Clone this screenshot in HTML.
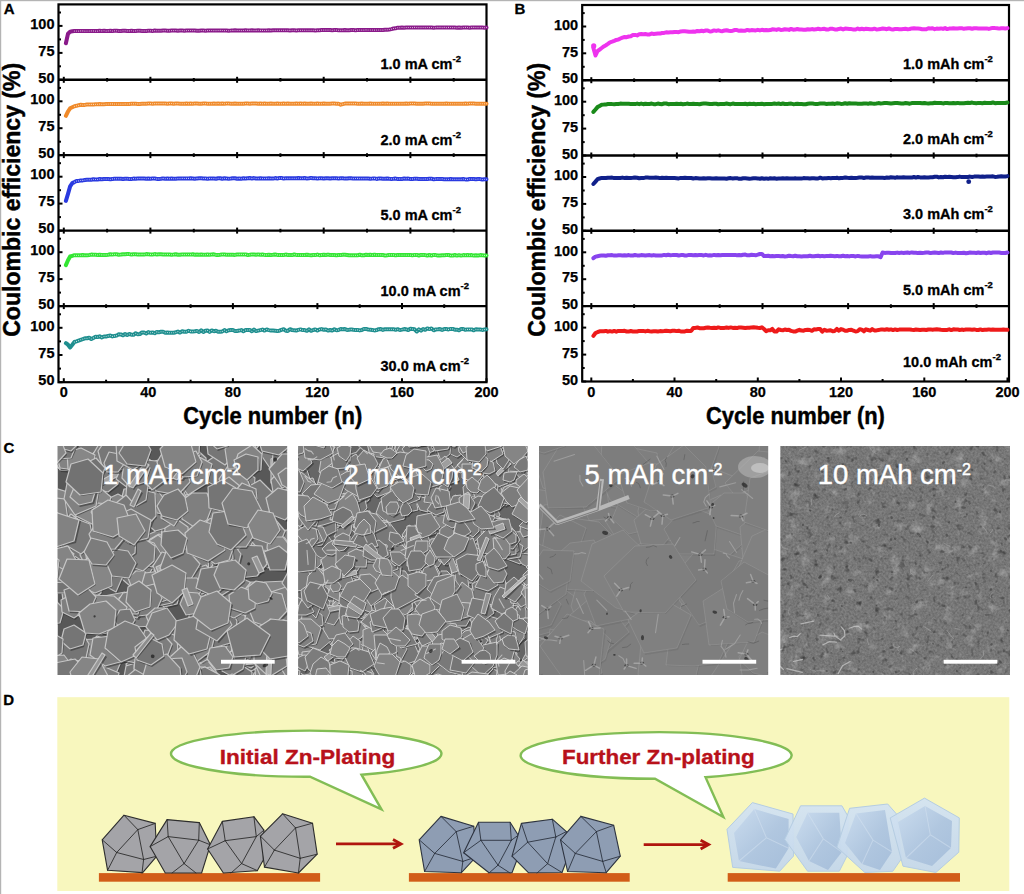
<!DOCTYPE html>
<html><head><meta charset="utf-8"><style>
html,body{margin:0;padding:0;background:#fff;}
body{width:1024px;height:894px;overflow:hidden;position:relative;}
svg{position:absolute;left:0;top:0;}
</style></head><body>
<svg width="1024" height="894" viewBox="0 0 1024 894">
<rect x="0" y="0" width="1024" height="1.2" fill="#b4b4b4"/>
<rect x="0" y="0" width="1.2" height="894" fill="#b4b4b4"/>
<text x="3.8" y="13.6" font-family="&apos;Liberation Sans&apos;, sans-serif" font-weight="bold" font-size="15" stroke="#000" stroke-width="0.3" fill="#000">A</text>
<text x="514.6" y="13.5" font-family="&apos;Liberation Sans&apos;, sans-serif" font-weight="bold" font-size="15" stroke="#000" stroke-width="0.3" fill="#000">B</text>
<text x="3.6" y="452.9" font-family="&apos;Liberation Sans&apos;, sans-serif" font-weight="bold" font-size="15" stroke="#000" stroke-width="0.3" fill="#000">C</text>
<text x="3.2" y="705.2" font-family="&apos;Liberation Sans&apos;, sans-serif" font-weight="bold" font-size="15" stroke="#000" stroke-width="0.3" fill="#000">D</text>
<rect x="58.5" y="4.4" width="428" height="377.8" fill="none" stroke="#000" stroke-width="2.2"/>
<line x1="58.5" y1="79.8" x2="486.5" y2="79.8" stroke="#000" stroke-width="2.4"/>
<line x1="58.5" y1="155.1" x2="486.5" y2="155.1" stroke="#000" stroke-width="2.4"/>
<line x1="58.5" y1="230.6" x2="486.5" y2="230.6" stroke="#000" stroke-width="2.4"/>
<line x1="58.5" y1="306.1" x2="486.5" y2="306.1" stroke="#000" stroke-width="2.4"/>
<line x1="58.5" y1="79.8" x2="62.5" y2="79.8" stroke="#000" stroke-width="2"/>
<text x="54.5" y="82.5" text-anchor="end" font-family="&apos;Liberation Sans&apos;, sans-serif" font-weight="bold" font-size="14.5" stroke="#000" stroke-width="0.25">50</text>
<line x1="58.5" y1="52.9" x2="62.5" y2="52.9" stroke="#000" stroke-width="2"/>
<text x="54.5" y="55.6" text-anchor="end" font-family="&apos;Liberation Sans&apos;, sans-serif" font-weight="bold" font-size="14.5" stroke="#000" stroke-width="0.25">75</text>
<line x1="58.5" y1="25.9" x2="62.5" y2="25.9" stroke="#000" stroke-width="2"/>
<text x="54.5" y="28.6" text-anchor="end" font-family="&apos;Liberation Sans&apos;, sans-serif" font-weight="bold" font-size="14.5" stroke="#000" stroke-width="0.25">100</text>
<line x1="58.5" y1="66.3" x2="61" y2="66.3" stroke="#000" stroke-width="2"/>
<line x1="58.5" y1="39.4" x2="61" y2="39.4" stroke="#000" stroke-width="2"/>
<line x1="58.5" y1="12.5" x2="61" y2="12.5" stroke="#000" stroke-width="2"/>
<line x1="58.5" y1="155.1" x2="62.5" y2="155.1" stroke="#000" stroke-width="2"/>
<text x="54.5" y="157.8" text-anchor="end" font-family="&apos;Liberation Sans&apos;, sans-serif" font-weight="bold" font-size="14.5" stroke="#000" stroke-width="0.25">50</text>
<line x1="58.5" y1="128.2" x2="62.5" y2="128.2" stroke="#000" stroke-width="2"/>
<text x="54.5" y="130.9" text-anchor="end" font-family="&apos;Liberation Sans&apos;, sans-serif" font-weight="bold" font-size="14.5" stroke="#000" stroke-width="0.25">75</text>
<line x1="58.5" y1="101.3" x2="62.5" y2="101.3" stroke="#000" stroke-width="2"/>
<text x="54.5" y="104" text-anchor="end" font-family="&apos;Liberation Sans&apos;, sans-serif" font-weight="bold" font-size="14.5" stroke="#000" stroke-width="0.25">100</text>
<line x1="58.5" y1="141.7" x2="61" y2="141.7" stroke="#000" stroke-width="2"/>
<line x1="58.5" y1="114.8" x2="61" y2="114.8" stroke="#000" stroke-width="2"/>
<line x1="58.5" y1="87.9" x2="61" y2="87.9" stroke="#000" stroke-width="2"/>
<line x1="58.5" y1="230.6" x2="62.5" y2="230.6" stroke="#000" stroke-width="2"/>
<text x="54.5" y="233.3" text-anchor="end" font-family="&apos;Liberation Sans&apos;, sans-serif" font-weight="bold" font-size="14.5" stroke="#000" stroke-width="0.25">50</text>
<line x1="58.5" y1="203.6" x2="62.5" y2="203.6" stroke="#000" stroke-width="2"/>
<text x="54.5" y="206.3" text-anchor="end" font-family="&apos;Liberation Sans&apos;, sans-serif" font-weight="bold" font-size="14.5" stroke="#000" stroke-width="0.25">75</text>
<line x1="58.5" y1="176.7" x2="62.5" y2="176.7" stroke="#000" stroke-width="2"/>
<text x="54.5" y="179.4" text-anchor="end" font-family="&apos;Liberation Sans&apos;, sans-serif" font-weight="bold" font-size="14.5" stroke="#000" stroke-width="0.25">100</text>
<line x1="58.5" y1="217.1" x2="61" y2="217.1" stroke="#000" stroke-width="2"/>
<line x1="58.5" y1="190.2" x2="61" y2="190.2" stroke="#000" stroke-width="2"/>
<line x1="58.5" y1="163.2" x2="61" y2="163.2" stroke="#000" stroke-width="2"/>
<line x1="58.5" y1="306.1" x2="62.5" y2="306.1" stroke="#000" stroke-width="2"/>
<text x="54.5" y="308.8" text-anchor="end" font-family="&apos;Liberation Sans&apos;, sans-serif" font-weight="bold" font-size="14.5" stroke="#000" stroke-width="0.25">50</text>
<line x1="58.5" y1="279.1" x2="62.5" y2="279.1" stroke="#000" stroke-width="2"/>
<text x="54.5" y="281.8" text-anchor="end" font-family="&apos;Liberation Sans&apos;, sans-serif" font-weight="bold" font-size="14.5" stroke="#000" stroke-width="0.25">75</text>
<line x1="58.5" y1="252.2" x2="62.5" y2="252.2" stroke="#000" stroke-width="2"/>
<text x="54.5" y="254.9" text-anchor="end" font-family="&apos;Liberation Sans&apos;, sans-serif" font-weight="bold" font-size="14.5" stroke="#000" stroke-width="0.25">100</text>
<line x1="58.5" y1="292.6" x2="61" y2="292.6" stroke="#000" stroke-width="2"/>
<line x1="58.5" y1="265.7" x2="61" y2="265.7" stroke="#000" stroke-width="2"/>
<line x1="58.5" y1="238.7" x2="61" y2="238.7" stroke="#000" stroke-width="2"/>
<line x1="58.5" y1="382.2" x2="62.5" y2="382.2" stroke="#000" stroke-width="2"/>
<text x="54.5" y="384.9" text-anchor="end" font-family="&apos;Liberation Sans&apos;, sans-serif" font-weight="bold" font-size="14.5" stroke="#000" stroke-width="0.25">50</text>
<line x1="58.5" y1="355" x2="62.5" y2="355" stroke="#000" stroke-width="2"/>
<text x="54.5" y="357.7" text-anchor="end" font-family="&apos;Liberation Sans&apos;, sans-serif" font-weight="bold" font-size="14.5" stroke="#000" stroke-width="0.25">75</text>
<line x1="58.5" y1="327.8" x2="62.5" y2="327.8" stroke="#000" stroke-width="2"/>
<text x="54.5" y="330.5" text-anchor="end" font-family="&apos;Liberation Sans&apos;, sans-serif" font-weight="bold" font-size="14.5" stroke="#000" stroke-width="0.25">100</text>
<line x1="58.5" y1="368.6" x2="61" y2="368.6" stroke="#000" stroke-width="2"/>
<line x1="58.5" y1="341.4" x2="61" y2="341.4" stroke="#000" stroke-width="2"/>
<line x1="58.5" y1="314.3" x2="61" y2="314.3" stroke="#000" stroke-width="2"/>
<line x1="63.8" y1="382.2" x2="63.8" y2="378.2" stroke="#000" stroke-width="2"/>
<text x="63.8" y="397.2" text-anchor="middle" font-family="&apos;Liberation Sans&apos;, sans-serif" font-weight="bold" font-size="14.5" stroke="#000" stroke-width="0.25">0</text>
<line x1="106.1" y1="382.2" x2="106.1" y2="379.7" stroke="#000" stroke-width="2"/>
<line x1="148.3" y1="382.2" x2="148.3" y2="378.2" stroke="#000" stroke-width="2"/>
<text x="148.3" y="397.2" text-anchor="middle" font-family="&apos;Liberation Sans&apos;, sans-serif" font-weight="bold" font-size="14.5" stroke="#000" stroke-width="0.25">40</text>
<line x1="190.6" y1="382.2" x2="190.6" y2="379.7" stroke="#000" stroke-width="2"/>
<line x1="232.9" y1="382.2" x2="232.9" y2="378.2" stroke="#000" stroke-width="2"/>
<text x="232.9" y="397.2" text-anchor="middle" font-family="&apos;Liberation Sans&apos;, sans-serif" font-weight="bold" font-size="14.5" stroke="#000" stroke-width="0.25">80</text>
<line x1="275.2" y1="382.2" x2="275.2" y2="379.7" stroke="#000" stroke-width="2"/>
<line x1="317.4" y1="382.2" x2="317.4" y2="378.2" stroke="#000" stroke-width="2"/>
<text x="317.4" y="397.2" text-anchor="middle" font-family="&apos;Liberation Sans&apos;, sans-serif" font-weight="bold" font-size="14.5" stroke="#000" stroke-width="0.25">120</text>
<line x1="359.7" y1="382.2" x2="359.7" y2="379.7" stroke="#000" stroke-width="2"/>
<line x1="402" y1="382.2" x2="402" y2="378.2" stroke="#000" stroke-width="2"/>
<text x="402" y="397.2" text-anchor="middle" font-family="&apos;Liberation Sans&apos;, sans-serif" font-weight="bold" font-size="14.5" stroke="#000" stroke-width="0.25">160</text>
<line x1="444.2" y1="382.2" x2="444.2" y2="379.7" stroke="#000" stroke-width="2"/>
<line x1="486.5" y1="382.2" x2="486.5" y2="378.2" stroke="#000" stroke-width="2"/>
<text x="486.5" y="397.2" text-anchor="middle" font-family="&apos;Liberation Sans&apos;, sans-serif" font-weight="bold" font-size="14.5" stroke="#000" stroke-width="0.25">200</text>
<line x1="63.8" y1="76.8" x2="63.8" y2="82.8" stroke="#000" stroke-width="2"/>
<line x1="107.1" y1="78" x2="107.1" y2="81.6" stroke="#000" stroke-width="2"/>
<line x1="150.4" y1="76.8" x2="150.4" y2="82.8" stroke="#000" stroke-width="2"/>
<line x1="193.8" y1="78" x2="193.8" y2="81.6" stroke="#000" stroke-width="2"/>
<line x1="237.1" y1="76.8" x2="237.1" y2="82.8" stroke="#000" stroke-width="2"/>
<line x1="280.4" y1="78" x2="280.4" y2="81.6" stroke="#000" stroke-width="2"/>
<line x1="323.7" y1="76.8" x2="323.7" y2="82.8" stroke="#000" stroke-width="2"/>
<line x1="367" y1="78" x2="367" y2="81.6" stroke="#000" stroke-width="2"/>
<line x1="410.4" y1="76.8" x2="410.4" y2="82.8" stroke="#000" stroke-width="2"/>
<line x1="453.7" y1="78" x2="453.7" y2="81.6" stroke="#000" stroke-width="2"/>
<line x1="63.8" y1="152.1" x2="63.8" y2="158.1" stroke="#000" stroke-width="2"/>
<line x1="107.1" y1="153.3" x2="107.1" y2="156.9" stroke="#000" stroke-width="2"/>
<line x1="150.4" y1="152.1" x2="150.4" y2="158.1" stroke="#000" stroke-width="2"/>
<line x1="193.8" y1="153.3" x2="193.8" y2="156.9" stroke="#000" stroke-width="2"/>
<line x1="237.1" y1="152.1" x2="237.1" y2="158.1" stroke="#000" stroke-width="2"/>
<line x1="280.4" y1="153.3" x2="280.4" y2="156.9" stroke="#000" stroke-width="2"/>
<line x1="323.7" y1="152.1" x2="323.7" y2="158.1" stroke="#000" stroke-width="2"/>
<line x1="367" y1="153.3" x2="367" y2="156.9" stroke="#000" stroke-width="2"/>
<line x1="410.4" y1="152.1" x2="410.4" y2="158.1" stroke="#000" stroke-width="2"/>
<line x1="453.7" y1="153.3" x2="453.7" y2="156.9" stroke="#000" stroke-width="2"/>
<line x1="63.8" y1="227.6" x2="63.8" y2="233.6" stroke="#000" stroke-width="2"/>
<line x1="107.1" y1="228.8" x2="107.1" y2="232.4" stroke="#000" stroke-width="2"/>
<line x1="150.4" y1="227.6" x2="150.4" y2="233.6" stroke="#000" stroke-width="2"/>
<line x1="193.8" y1="228.8" x2="193.8" y2="232.4" stroke="#000" stroke-width="2"/>
<line x1="237.1" y1="227.6" x2="237.1" y2="233.6" stroke="#000" stroke-width="2"/>
<line x1="280.4" y1="228.8" x2="280.4" y2="232.4" stroke="#000" stroke-width="2"/>
<line x1="323.7" y1="227.6" x2="323.7" y2="233.6" stroke="#000" stroke-width="2"/>
<line x1="367" y1="228.8" x2="367" y2="232.4" stroke="#000" stroke-width="2"/>
<line x1="410.4" y1="227.6" x2="410.4" y2="233.6" stroke="#000" stroke-width="2"/>
<line x1="453.7" y1="228.8" x2="453.7" y2="232.4" stroke="#000" stroke-width="2"/>
<line x1="63.8" y1="303.1" x2="63.8" y2="309.1" stroke="#000" stroke-width="2"/>
<line x1="106.1" y1="304.3" x2="106.1" y2="307.9" stroke="#000" stroke-width="2"/>
<line x1="148.3" y1="303.1" x2="148.3" y2="309.1" stroke="#000" stroke-width="2"/>
<line x1="190.6" y1="304.3" x2="190.6" y2="307.9" stroke="#000" stroke-width="2"/>
<line x1="232.9" y1="303.1" x2="232.9" y2="309.1" stroke="#000" stroke-width="2"/>
<line x1="275.2" y1="304.3" x2="275.2" y2="307.9" stroke="#000" stroke-width="2"/>
<line x1="317.4" y1="303.1" x2="317.4" y2="309.1" stroke="#000" stroke-width="2"/>
<line x1="359.7" y1="304.3" x2="359.7" y2="307.9" stroke="#000" stroke-width="2"/>
<line x1="402" y1="303.1" x2="402" y2="309.1" stroke="#000" stroke-width="2"/>
<line x1="444.2" y1="304.3" x2="444.2" y2="307.9" stroke="#000" stroke-width="2"/>
<polyline points="65.9,43.2 68,33.7 70.1,31.7 72.3,31.3 74.4,31 76.5,31 78.6,31.1 80.7,30.9 82.8,30.9 84.9,31.1 87,31 89.2,31 91.3,30.9 93.4,30.9 95.5,31.1 97.6,31.1 99.7,30.8 101.8,30.9 104,30.8 106.1,31.1 108.2,30.9 110.3,30.8 112.4,31 114.5,30.7 116.6,30.7 118.8,31 120.9,31 123,30.8 125.1,30.7 127.2,30.9 129.3,30.9 131.4,30.8 133.5,31 135.7,30.9 137.8,30.8 139.9,30.8 142,30.9 144.1,30.9 146.2,30.9 148.3,30.8 150.5,30.8 152.6,30.9 154.7,30.6 156.8,30.7 158.9,30.7 161,30.8 163.1,30.6 165.2,30.6 167.4,30.8 169.5,30.8 171.6,30.6 173.7,30.6 175.8,30.5 177.9,30.7 180,30.6 182.2,30.6 184.3,30.7 186.4,30.6 188.5,30.5 190.6,30.5 192.7,30.6 194.8,30.6 197,30.8 199.1,30.7 201.2,30.5 203.3,30.6 205.4,30.7 207.5,30.6 209.6,30.5 211.7,30.5 213.9,30.6 216,30.6 218.1,30.5 220.2,30.4 222.3,30.5 224.4,30.6 226.5,30.5 228.7,30.7 230.8,30.6 232.9,30.4 235,30.3 237.1,30.5 239.2,30.5 241.3,30.6 243.4,30.5 245.6,30.3 247.7,30.4 249.8,30.4 251.9,30.3 254,30.5 256.1,30.4 258.2,30.3 260.4,30.4 262.5,30.4 264.6,30.5 266.7,30.4 268.8,30.2 270.9,30.5 273,30.3 275.2,30.3 277.3,30.2 279.4,30.3 281.5,30.2 283.6,30.3 285.7,30.3 287.8,30.3 289.9,30.4 292.1,30.2 294.2,30.3 296.3,30.4 298.4,30.3 300.5,30.3 302.6,30.3 304.7,30.3 306.9,30.2 309,30.2 311.1,30.2 313.2,30.2 315.3,30.4 317.4,30.3 319.5,30.3 321.6,30.1 323.8,30.1 325.9,30.1 328,30.1 330.1,30 332.2,30.2 334.3,30 336.4,30.1 338.6,30.2 340.7,30.3 342.8,30.3 344.9,30 347,30.2 349.1,30.2 351.2,30 353.3,30.1 355.5,30.2 357.6,30.1 359.7,30 361.8,30.1 363.9,30.1 366,29.9 368.1,30 370.3,30 372.4,30 374.5,30.1 376.6,30 378.7,30 380.8,30 382.9,30.1 385.1,29.8 387.2,29.7 389.3,29.5 391.4,29.1 393.5,28.5 395.6,28.3 397.7,27.7 399.8,27.7 402,27.5 404.1,27.7 406.2,27.5 408.3,27.5 410.4,27.5 412.5,27.6 414.6,27.4 416.8,27.5 418.9,27.6 421,27.6 423.1,27.5 425.2,27.6 427.3,27.5 429.4,27.6 431.5,27.5 433.7,27.7 435.8,27.6 437.9,27.4 440,27.4 442.1,27.6 444.2,27.4 446.3,27.6 448.5,27.4 450.6,27.5 452.7,27.6 454.8,27.6 456.9,27.7 459,27.4 461.1,27.7 463.3,27.5 465.4,27.4 467.5,27.5 469.6,27.7 471.7,27.4 473.8,27.4 475.9,27.5 478,27.6 480.2,27.6 482.3,27.6 484.4,27.7 486.5,27.5" fill="none" stroke="#8a1a8a" stroke-width="4.0" stroke-linejoin="round" stroke-linecap="round"/>
<path d="M74.4,31h0.01M76.5,31h0.01M78.6,31.1h0.01M80.7,30.9h0.01M82.8,30.9h0.01M84.9,31.1h0.01M87,31h0.01M89.2,31h0.01M91.3,30.9h0.01M93.4,30.9h0.01M95.5,31.1h0.01M97.6,31.1h0.01M99.7,30.8h0.01M101.8,30.9h0.01M104,30.8h0.01M106.1,31.1h0.01M108.2,30.9h0.01M110.3,30.8h0.01M112.4,31h0.01M114.5,30.7h0.01M116.6,30.7h0.01M118.8,31h0.01M120.9,31h0.01M123,30.8h0.01M125.1,30.7h0.01M127.2,30.9h0.01M129.3,30.9h0.01M131.4,30.8h0.01M133.5,31h0.01M135.7,30.9h0.01M137.8,30.8h0.01M139.9,30.8h0.01M142,30.9h0.01M144.1,30.9h0.01M146.2,30.9h0.01M148.3,30.8h0.01M150.5,30.8h0.01M152.6,30.9h0.01M154.7,30.6h0.01M156.8,30.7h0.01M158.9,30.7h0.01M161,30.8h0.01M163.1,30.6h0.01M165.2,30.6h0.01M167.4,30.8h0.01M169.5,30.8h0.01M171.6,30.6h0.01M173.7,30.6h0.01M175.8,30.5h0.01M177.9,30.7h0.01M180,30.6h0.01M182.2,30.6h0.01M184.3,30.7h0.01M186.4,30.6h0.01M188.5,30.5h0.01M190.6,30.5h0.01M192.7,30.6h0.01M194.8,30.6h0.01M197,30.8h0.01M199.1,30.7h0.01M201.2,30.5h0.01M203.3,30.6h0.01M205.4,30.7h0.01M207.5,30.6h0.01M209.6,30.5h0.01M211.7,30.5h0.01M213.9,30.6h0.01M216,30.6h0.01M218.1,30.5h0.01M220.2,30.4h0.01M222.3,30.5h0.01M224.4,30.6h0.01M226.5,30.5h0.01M228.7,30.7h0.01M230.8,30.6h0.01M232.9,30.4h0.01M235,30.3h0.01M237.1,30.5h0.01M239.2,30.5h0.01M241.3,30.6h0.01M243.4,30.5h0.01M245.6,30.3h0.01M247.7,30.4h0.01M249.8,30.4h0.01M251.9,30.3h0.01M254,30.5h0.01M256.1,30.4h0.01M258.2,30.3h0.01M260.4,30.4h0.01M262.5,30.4h0.01M264.6,30.5h0.01M266.7,30.4h0.01M268.8,30.2h0.01M270.9,30.5h0.01M273,30.3h0.01M275.2,30.3h0.01M277.3,30.2h0.01M279.4,30.3h0.01M281.5,30.2h0.01M283.6,30.3h0.01M285.7,30.3h0.01M287.8,30.3h0.01M289.9,30.4h0.01M292.1,30.2h0.01M294.2,30.3h0.01M296.3,30.4h0.01M298.4,30.3h0.01M300.5,30.3h0.01M302.6,30.3h0.01M304.7,30.3h0.01M306.9,30.2h0.01M309,30.2h0.01M311.1,30.2h0.01M313.2,30.2h0.01M315.3,30.4h0.01M317.4,30.3h0.01M319.5,30.3h0.01M321.6,30.1h0.01M323.8,30.1h0.01M325.9,30.1h0.01M328,30.1h0.01M330.1,30h0.01M332.2,30.2h0.01M334.3,30h0.01M336.4,30.1h0.01M338.6,30.2h0.01M340.7,30.3h0.01M342.8,30.3h0.01M344.9,30h0.01M347,30.2h0.01M349.1,30.2h0.01M351.2,30h0.01M353.3,30.1h0.01M355.5,30.2h0.01M357.6,30.1h0.01M359.7,30h0.01M361.8,30.1h0.01M363.9,30.1h0.01M366,29.9h0.01M368.1,30h0.01M370.3,30h0.01M372.4,30h0.01M374.5,30.1h0.01M376.6,30h0.01M378.7,30h0.01M380.8,30h0.01M382.9,30.1h0.01M385.1,29.8h0.01M387.2,29.7h0.01M389.3,29.5h0.01M391.4,29.1h0.01M393.5,28.5h0.01M395.6,28.3h0.01M397.7,27.7h0.01M399.8,27.7h0.01M402,27.5h0.01M404.1,27.7h0.01M406.2,27.5h0.01M408.3,27.5h0.01M410.4,27.5h0.01M412.5,27.6h0.01M414.6,27.4h0.01M416.8,27.5h0.01M418.9,27.6h0.01M421,27.6h0.01M423.1,27.5h0.01M425.2,27.6h0.01M427.3,27.5h0.01M429.4,27.6h0.01M431.5,27.5h0.01M433.7,27.7h0.01M435.8,27.6h0.01M437.9,27.4h0.01M440,27.4h0.01M442.1,27.6h0.01M444.2,27.4h0.01M446.3,27.6h0.01M448.5,27.4h0.01M450.6,27.5h0.01M452.7,27.6h0.01M454.8,27.6h0.01M456.9,27.7h0.01M459,27.4h0.01M461.1,27.7h0.01M463.3,27.5h0.01M465.4,27.4h0.01M467.5,27.5h0.01M469.6,27.7h0.01M471.7,27.4h0.01M473.8,27.4h0.01M475.9,27.5h0.01M478,27.6h0.01M480.2,27.6h0.01M482.3,27.6h0.01M484.4,27.7h0.01M486.5,27.5h0.01" stroke="#fff" stroke-width="1.1" stroke-linecap="round" stroke-opacity="0.75" fill="none"/>
<polyline points="65.9,115.8 68,111.5 70.1,108.3 72.3,107.2 74.4,106.2 76.5,105.8 78.6,105.2 80.7,104.8 82.8,105 84.9,104.9 87,104.5 89.2,104.5 91.3,104.4 93.4,104.4 95.5,104.2 97.6,104.2 99.7,104.1 101.8,104.3 104,104.2 106.1,104.1 108.2,104 110.3,103.9 112.4,103.9 114.5,104 116.6,104 118.8,104.1 120.9,104.1 123,104.1 125.1,103.9 127.2,104 129.3,103.9 131.4,103.7 133.5,103.8 135.7,103.8 137.8,103.9 139.9,103.9 142,103.8 144.1,103.8 146.2,103.7 148.3,103.5 150.5,103.6 152.6,103.8 154.7,103.6 156.8,103.6 158.9,103.6 161,103.5 163.1,103.6 165.2,103.6 167.4,103.7 169.5,103.5 171.6,103.5 173.7,103.8 175.8,103.6 177.9,103.6 180,103.7 182.2,103.7 184.3,103.7 186.4,103.5 188.5,103.7 190.6,103.6 192.7,103.7 194.8,103.6 197,103.6 199.1,103.7 201.2,103.7 203.3,103.5 205.4,103.6 207.5,103.7 209.6,103.8 211.7,103.7 213.9,103.6 216,103.8 218.1,103.5 220.2,103.8 222.3,103.5 224.4,103.7 226.5,103.5 228.7,103.6 230.8,103.7 232.9,103.7 235,103.6 237.1,103.7 239.2,103.7 241.3,103.8 243.4,103.7 245.6,103.5 247.7,103.6 249.8,103.8 251.9,103.6 254,103.6 256.1,103.5 258.2,103.8 260.4,103.6 262.5,103.8 264.6,103.6 266.7,103.8 268.8,103.8 270.9,103.6 273,103.8 275.2,103.7 277.3,103.6 279.4,103.8 281.5,103.8 283.6,103.6 285.7,103.7 287.8,103.6 289.9,103.8 292.1,103.7 294.2,103.8 296.3,103.6 298.4,103.8 300.5,103.5 302.6,103.8 304.7,103.6 306.9,103.8 309,103.8 311.1,103.6 313.2,103.8 315.3,103.8 317.4,103.6 319.5,103.7 321.6,103.8 323.8,103.5 325.9,103.8 328,103.8 330.1,103.7 332.2,103.6 334.3,103.6 336.4,103.8 338.6,103.7 340.7,104.7 342.8,104.1 344.9,103.6 347,103.6 349.1,103.6 351.2,103.6 353.3,103.6 355.5,103.6 357.6,103.7 359.7,103.8 361.8,103.6 363.9,103.7 366,103.8 368.1,103.7 370.3,103.6 372.4,103.8 374.5,103.7 376.6,103.7 378.7,103.7 380.8,103.8 382.9,103.5 385.1,103.8 387.2,103.6 389.3,103.7 391.4,103.8 393.5,103.7 395.6,103.8 397.7,103.8 399.8,103.8 402,103.8 404.1,103.8 406.2,103.6 408.3,103.7 410.4,103.5 412.5,103.5 414.6,103.5 416.8,103.8 418.9,103.7 421,103.8 423.1,103.7 425.2,103.6 427.3,103.6 429.4,103.6 431.5,103.8 433.7,103.7 435.8,103.7 437.9,103.8 440,103.8 442.1,103.7 444.2,103.8 446.3,103.6 448.5,103.8 450.6,103.8 452.7,103.8 454.8,103.8 456.9,103.8 459,103.7 461.1,103.7 463.3,103.7 465.4,103.6 467.5,103.8 469.6,103.5 471.7,103.5 473.8,103.6 475.9,103.7 478,103.7 480.2,103.7 482.3,103.8 484.4,103.7 486.5,103.7" fill="none" stroke="#f08a2a" stroke-width="4.0" stroke-linejoin="round" stroke-linecap="round"/>
<path d="M74.4,106.2h0.01M76.5,105.8h0.01M78.6,105.2h0.01M80.7,104.8h0.01M82.8,105h0.01M84.9,104.9h0.01M87,104.5h0.01M89.2,104.5h0.01M91.3,104.4h0.01M93.4,104.4h0.01M95.5,104.2h0.01M97.6,104.2h0.01M99.7,104.1h0.01M101.8,104.3h0.01M104,104.2h0.01M106.1,104.1h0.01M108.2,104h0.01M110.3,103.9h0.01M112.4,103.9h0.01M114.5,104h0.01M116.6,104h0.01M118.8,104.1h0.01M120.9,104.1h0.01M123,104.1h0.01M125.1,103.9h0.01M127.2,104h0.01M129.3,103.9h0.01M131.4,103.7h0.01M133.5,103.8h0.01M135.7,103.8h0.01M137.8,103.9h0.01M139.9,103.9h0.01M142,103.8h0.01M144.1,103.8h0.01M146.2,103.7h0.01M148.3,103.5h0.01M150.5,103.6h0.01M152.6,103.8h0.01M154.7,103.6h0.01M156.8,103.6h0.01M158.9,103.6h0.01M161,103.5h0.01M163.1,103.6h0.01M165.2,103.6h0.01M167.4,103.7h0.01M169.5,103.5h0.01M171.6,103.5h0.01M173.7,103.8h0.01M175.8,103.6h0.01M177.9,103.6h0.01M180,103.7h0.01M182.2,103.7h0.01M184.3,103.7h0.01M186.4,103.5h0.01M188.5,103.7h0.01M190.6,103.6h0.01M192.7,103.7h0.01M194.8,103.6h0.01M197,103.6h0.01M199.1,103.7h0.01M201.2,103.7h0.01M203.3,103.5h0.01M205.4,103.6h0.01M207.5,103.7h0.01M209.6,103.8h0.01M211.7,103.7h0.01M213.9,103.6h0.01M216,103.8h0.01M218.1,103.5h0.01M220.2,103.8h0.01M222.3,103.5h0.01M224.4,103.7h0.01M226.5,103.5h0.01M228.7,103.6h0.01M230.8,103.7h0.01M232.9,103.7h0.01M235,103.6h0.01M237.1,103.7h0.01M239.2,103.7h0.01M241.3,103.8h0.01M243.4,103.7h0.01M245.6,103.5h0.01M247.7,103.6h0.01M249.8,103.8h0.01M251.9,103.6h0.01M254,103.6h0.01M256.1,103.5h0.01M258.2,103.8h0.01M260.4,103.6h0.01M262.5,103.8h0.01M264.6,103.6h0.01M266.7,103.8h0.01M268.8,103.8h0.01M270.9,103.6h0.01M273,103.8h0.01M275.2,103.7h0.01M277.3,103.6h0.01M279.4,103.8h0.01M281.5,103.8h0.01M283.6,103.6h0.01M285.7,103.7h0.01M287.8,103.6h0.01M289.9,103.8h0.01M292.1,103.7h0.01M294.2,103.8h0.01M296.3,103.6h0.01M298.4,103.8h0.01M300.5,103.5h0.01M302.6,103.8h0.01M304.7,103.6h0.01M306.9,103.8h0.01M309,103.8h0.01M311.1,103.6h0.01M313.2,103.8h0.01M315.3,103.8h0.01M317.4,103.6h0.01M319.5,103.7h0.01M321.6,103.8h0.01M323.8,103.5h0.01M325.9,103.8h0.01M328,103.8h0.01M330.1,103.7h0.01M332.2,103.6h0.01M334.3,103.6h0.01M336.4,103.8h0.01M338.6,103.7h0.01M340.7,104.7h0.01M342.8,104.1h0.01M344.9,103.6h0.01M347,103.6h0.01M349.1,103.6h0.01M351.2,103.6h0.01M353.3,103.6h0.01M355.5,103.6h0.01M357.6,103.7h0.01M359.7,103.8h0.01M361.8,103.6h0.01M363.9,103.7h0.01M366,103.8h0.01M368.1,103.7h0.01M370.3,103.6h0.01M372.4,103.8h0.01M374.5,103.7h0.01M376.6,103.7h0.01M378.7,103.7h0.01M380.8,103.8h0.01M382.9,103.5h0.01M385.1,103.8h0.01M387.2,103.6h0.01M389.3,103.7h0.01M391.4,103.8h0.01M393.5,103.7h0.01M395.6,103.8h0.01M397.7,103.8h0.01M399.8,103.8h0.01M402,103.8h0.01M404.1,103.8h0.01M406.2,103.6h0.01M408.3,103.7h0.01M410.4,103.5h0.01M412.5,103.5h0.01M414.6,103.5h0.01M416.8,103.8h0.01M418.9,103.7h0.01M421,103.8h0.01M423.1,103.7h0.01M425.2,103.6h0.01M427.3,103.6h0.01M429.4,103.6h0.01M431.5,103.8h0.01M433.7,103.7h0.01M435.8,103.7h0.01M437.9,103.8h0.01M440,103.8h0.01M442.1,103.7h0.01M444.2,103.8h0.01M446.3,103.6h0.01M448.5,103.8h0.01M450.6,103.8h0.01M452.7,103.8h0.01M454.8,103.8h0.01M456.9,103.8h0.01M459,103.7h0.01M461.1,103.7h0.01M463.3,103.7h0.01M465.4,103.6h0.01M467.5,103.8h0.01M469.6,103.5h0.01M471.7,103.5h0.01M473.8,103.6h0.01M475.9,103.7h0.01M478,103.7h0.01M480.2,103.7h0.01M482.3,103.8h0.01M484.4,103.7h0.01M486.5,103.7h0.01" stroke="#fff" stroke-width="1.1" stroke-linecap="round" stroke-opacity="0.75" fill="none"/>
<polyline points="65.9,200.9 68,193.9 70.1,186.4 72.3,183.1 74.4,182.1 76.5,181 78.6,180.9 80.7,180.5 82.8,180.4 84.9,180 87,179.7 89.2,179.8 91.3,179.8 93.4,179.3 95.5,179.5 97.6,179.5 99.7,179 101.8,179.3 104,179 106.1,179.1 108.2,179 110.3,179.2 112.4,178.9 114.5,178.7 116.6,178.8 118.8,178.7 120.9,178.7 123,179 125.1,178.7 127.2,178.7 129.3,178.9 131.4,179 133.5,178.6 135.7,178.8 137.8,178.6 139.9,178.5 142,178.6 144.1,178.5 146.2,178.8 148.3,178.6 150.5,178.7 152.6,178.5 154.7,178.5 156.8,178.9 158.9,178.9 161,178.8 163.1,178.4 165.2,178.7 167.4,178.6 169.5,178.8 171.6,178.6 173.7,178.7 175.8,178.7 177.9,178.6 180,178.6 182.2,178.4 184.3,178.5 186.4,178.4 188.5,178.4 190.6,178.3 192.7,178.5 194.8,178.8 197,178.4 199.1,178.3 201.2,178.3 203.3,178.5 205.4,178.4 207.5,178.7 209.6,178.4 211.7,178.5 213.9,178.6 216,178.7 218.1,178.3 220.2,178.2 222.3,178.7 224.4,178.3 226.5,178.5 228.7,178.7 230.8,178.6 232.9,178.3 235,178.2 237.1,178.7 239.2,178.4 241.3,178.7 243.4,178.3 245.6,178.5 247.7,178.2 249.8,178.1 251.9,178.4 254,178.1 256.1,178.5 258.2,178.6 260.4,178.3 262.5,178.6 264.6,178.5 266.7,178.4 268.8,178.3 270.9,178.5 273,178.6 275.2,178.1 277.3,178.4 279.4,178.1 281.5,178.1 283.6,178.4 285.7,178.3 287.8,178.3 289.9,178.2 292.1,178.2 294.2,178.2 296.3,178.2 298.4,178 300.5,178.2 302.6,178.3 304.7,178.1 306.9,178.4 309,178.3 311.1,177.9 313.2,178.2 315.3,178.2 317.4,178.4 319.5,178.2 321.6,178.2 323.8,178.5 325.9,178.2 328,178.2 330.1,178.5 332.2,178.2 334.3,178.3 336.4,178.2 338.6,178.4 340.7,178.2 342.8,178.2 344.9,178.6 347,178.6 349.1,178.3 351.2,178.2 353.3,178.6 355.5,178.5 357.6,178.4 359.7,178.6 361.8,178.6 363.9,178.6 366,178.6 368.1,178.5 370.3,178.7 372.4,178.6 374.5,178.4 376.6,178.9 378.7,178.6 380.8,178.5 382.9,178.7 385.1,178.8 387.2,178.5 389.3,178.8 391.4,178.9 393.5,178.8 395.6,178.6 397.7,179 399.8,178.9 402,178.9 404.1,178.6 406.2,178.8 408.3,178.6 410.4,179 412.5,178.9 414.6,178.8 416.8,178.7 418.9,178.9 421,179.1 423.1,179.1 425.2,178.9 427.3,179.1 429.4,178.8 431.5,178.8 433.7,179.2 435.8,179.1 437.9,178.9 440,179 442.1,178.9 444.2,179.2 446.3,179.3 448.5,179.2 450.6,179 452.7,179.3 454.8,179.2 456.9,179.2 459,179.2 461.1,179.2 463.3,179 465.4,179.4 467.5,179.5 469.6,179 471.7,179.1 473.8,179 475.9,179.3 478,179.1 480.2,179.1 482.3,179.5 484.4,179.2 486.5,179.2" fill="none" stroke="#2a3ae0" stroke-width="4.0" stroke-linejoin="round" stroke-linecap="round"/>
<path d="M74.4,182.1h0.01M76.5,181h0.01M78.6,180.9h0.01M80.7,180.5h0.01M82.8,180.4h0.01M84.9,180h0.01M87,179.7h0.01M89.2,179.8h0.01M91.3,179.8h0.01M93.4,179.3h0.01M95.5,179.5h0.01M97.6,179.5h0.01M99.7,179h0.01M101.8,179.3h0.01M104,179h0.01M106.1,179.1h0.01M108.2,179h0.01M110.3,179.2h0.01M112.4,178.9h0.01M114.5,178.7h0.01M116.6,178.8h0.01M118.8,178.7h0.01M120.9,178.7h0.01M123,179h0.01M125.1,178.7h0.01M127.2,178.7h0.01M129.3,178.9h0.01M131.4,179h0.01M133.5,178.6h0.01M135.7,178.8h0.01M137.8,178.6h0.01M139.9,178.5h0.01M142,178.6h0.01M144.1,178.5h0.01M146.2,178.8h0.01M148.3,178.6h0.01M150.5,178.7h0.01M152.6,178.5h0.01M154.7,178.5h0.01M156.8,178.9h0.01M158.9,178.9h0.01M161,178.8h0.01M163.1,178.4h0.01M165.2,178.7h0.01M167.4,178.6h0.01M169.5,178.8h0.01M171.6,178.6h0.01M173.7,178.7h0.01M175.8,178.7h0.01M177.9,178.6h0.01M180,178.6h0.01M182.2,178.4h0.01M184.3,178.5h0.01M186.4,178.4h0.01M188.5,178.4h0.01M190.6,178.3h0.01M192.7,178.5h0.01M194.8,178.8h0.01M197,178.4h0.01M199.1,178.3h0.01M201.2,178.3h0.01M203.3,178.5h0.01M205.4,178.4h0.01M207.5,178.7h0.01M209.6,178.4h0.01M211.7,178.5h0.01M213.9,178.6h0.01M216,178.7h0.01M218.1,178.3h0.01M220.2,178.2h0.01M222.3,178.7h0.01M224.4,178.3h0.01M226.5,178.5h0.01M228.7,178.7h0.01M230.8,178.6h0.01M232.9,178.3h0.01M235,178.2h0.01M237.1,178.7h0.01M239.2,178.4h0.01M241.3,178.7h0.01M243.4,178.3h0.01M245.6,178.5h0.01M247.7,178.2h0.01M249.8,178.1h0.01M251.9,178.4h0.01M254,178.1h0.01M256.1,178.5h0.01M258.2,178.6h0.01M260.4,178.3h0.01M262.5,178.6h0.01M264.6,178.5h0.01M266.7,178.4h0.01M268.8,178.3h0.01M270.9,178.5h0.01M273,178.6h0.01M275.2,178.1h0.01M277.3,178.4h0.01M279.4,178.1h0.01M281.5,178.1h0.01M283.6,178.4h0.01M285.7,178.3h0.01M287.8,178.3h0.01M289.9,178.2h0.01M292.1,178.2h0.01M294.2,178.2h0.01M296.3,178.2h0.01M298.4,178h0.01M300.5,178.2h0.01M302.6,178.3h0.01M304.7,178.1h0.01M306.9,178.4h0.01M309,178.3h0.01M311.1,177.9h0.01M313.2,178.2h0.01M315.3,178.2h0.01M317.4,178.4h0.01M319.5,178.2h0.01M321.6,178.2h0.01M323.8,178.5h0.01M325.9,178.2h0.01M328,178.2h0.01M330.1,178.5h0.01M332.2,178.2h0.01M334.3,178.3h0.01M336.4,178.2h0.01M338.6,178.4h0.01M340.7,178.2h0.01M342.8,178.2h0.01M344.9,178.6h0.01M347,178.6h0.01M349.1,178.3h0.01M351.2,178.2h0.01M353.3,178.6h0.01M355.5,178.5h0.01M357.6,178.4h0.01M359.7,178.6h0.01M361.8,178.6h0.01M363.9,178.6h0.01M366,178.6h0.01M368.1,178.5h0.01M370.3,178.7h0.01M372.4,178.6h0.01M374.5,178.4h0.01M376.6,178.9h0.01M378.7,178.6h0.01M380.8,178.5h0.01M382.9,178.7h0.01M385.1,178.8h0.01M387.2,178.5h0.01M389.3,178.8h0.01M391.4,178.9h0.01M393.5,178.8h0.01M395.6,178.6h0.01M397.7,179h0.01M399.8,178.9h0.01M402,178.9h0.01M404.1,178.6h0.01M406.2,178.8h0.01M408.3,178.6h0.01M410.4,179h0.01M412.5,178.9h0.01M414.6,178.8h0.01M416.8,178.7h0.01M418.9,178.9h0.01M421,179.1h0.01M423.1,179.1h0.01M425.2,178.9h0.01M427.3,179.1h0.01M429.4,178.8h0.01M431.5,178.8h0.01M433.7,179.2h0.01M435.8,179.1h0.01M437.9,178.9h0.01M440,179h0.01M442.1,178.9h0.01M444.2,179.2h0.01M446.3,179.3h0.01M448.5,179.2h0.01M450.6,179h0.01M452.7,179.3h0.01M454.8,179.2h0.01M456.9,179.2h0.01M459,179.2h0.01M461.1,179.2h0.01M463.3,179h0.01M465.4,179.4h0.01M467.5,179.5h0.01M469.6,179h0.01M471.7,179.1h0.01M473.8,179h0.01M475.9,179.3h0.01M478,179.1h0.01M480.2,179.1h0.01M482.3,179.5h0.01M484.4,179.2h0.01M486.5,179.2h0.01" stroke="#fff" stroke-width="1.1" stroke-linecap="round" stroke-opacity="0.75" fill="none"/>
<polyline points="65.9,265.1 68,260.3 70.1,256.5 72.3,255.8 74.4,255.2 76.5,255.2 78.6,255.3 80.7,255.3 82.8,255.1 84.9,255.2 87,255.3 89.2,255 91.3,254.6 93.4,254.7 95.5,254.7 97.6,255 99.7,254.8 101.8,254.9 104,254.9 106.1,254.9 108.2,254.8 110.3,254.3 112.4,254.4 114.5,254.3 116.6,254.3 118.8,254.7 120.9,254.6 123,254.3 125.1,254.2 127.2,254.1 129.3,254.1 131.4,254.6 133.5,254.3 135.7,254.2 137.8,254.4 139.9,254.6 142,254.4 144.1,254.6 146.2,254.1 148.3,254.2 150.5,254.4 152.6,254.5 154.7,254.1 156.8,254.4 158.9,254.2 161,254.2 163.1,254.4 165.2,254.5 167.4,254.4 169.5,254.5 171.6,254.7 173.7,254.6 175.8,254.3 177.9,254.8 180,254.8 182.2,254.4 184.3,254.6 186.4,254.5 188.5,254.5 190.6,254.6 192.7,254.2 194.8,254.7 197,254.6 199.1,254.7 201.2,254.5 203.3,254.7 205.4,254.7 207.5,254.4 209.6,254.7 211.7,254.5 213.9,254.3 216,254.9 218.1,254.9 220.2,254.8 222.3,254.4 224.4,254.5 226.5,254.8 228.7,254.7 230.8,254.8 232.9,254.7 235,254.9 237.1,254.5 239.2,254.4 241.3,254.4 243.4,254.5 245.6,254.4 247.7,255 249.8,254.8 251.9,254.4 254,254.5 256.1,254.8 258.2,254.4 260.4,254.7 262.5,254.5 264.6,254.9 266.7,254.9 268.8,254.8 270.9,255 273,254.8 275.2,254.5 277.3,254.9 279.4,255.1 281.5,255.1 283.6,255 285.7,254.6 287.8,254.9 289.9,255 292.1,255.1 294.2,254.5 296.3,254.9 298.4,255 300.5,255.1 302.6,255.1 304.7,255.1 306.9,254.8 309,255.1 311.1,255.2 313.2,254.9 315.3,255.1 317.4,254.6 319.5,255.2 321.6,254.9 323.8,254.7 325.9,255 328,254.6 330.1,255 332.2,255.1 334.3,255 336.4,255.3 338.6,255 340.7,255.1 342.8,254.7 344.9,254.8 347,255 349.1,255.3 351.2,255.2 353.3,255.2 355.5,255.2 357.6,255.2 359.7,254.8 361.8,255.3 363.9,255.3 366,254.8 368.1,255 370.3,254.7 372.4,255.1 374.5,254.8 376.6,255 378.7,254.9 380.8,254.9 382.9,255.1 385.1,255.4 387.2,255.3 389.3,254.9 391.4,254.9 393.5,254.9 395.6,255.2 397.7,255 399.8,255 402,255.1 404.1,255 406.2,255.1 408.3,255.1 410.4,255.1 412.5,255.3 414.6,254.9 416.8,254.9 418.9,255.5 421,254.9 423.1,254.9 425.2,255.1 427.3,255.5 429.4,255 431.5,255.5 433.7,254.9 435.8,255.1 437.9,255.5 440,255.5 442.1,255.2 444.2,255.2 446.3,255.1 448.5,255 450.6,255.5 452.7,255.6 454.8,255 456.9,255.6 459,255.1 461.1,255.6 463.3,255.1 465.4,255.2 467.5,255.1 469.6,255.3 471.7,255.1 473.8,255.6 475.9,255.3 478,255.5 480.2,255.1 482.3,255.2 484.4,255.4 486.5,255.4" fill="none" stroke="#33e633" stroke-width="4.0" stroke-linejoin="round" stroke-linecap="round"/>
<path d="M74.4,255.2h0.01M76.5,255.2h0.01M78.6,255.3h0.01M80.7,255.3h0.01M82.8,255.1h0.01M84.9,255.2h0.01M87,255.3h0.01M89.2,255h0.01M91.3,254.6h0.01M93.4,254.7h0.01M95.5,254.7h0.01M97.6,255h0.01M99.7,254.8h0.01M101.8,254.9h0.01M104,254.9h0.01M106.1,254.9h0.01M108.2,254.8h0.01M110.3,254.3h0.01M112.4,254.4h0.01M114.5,254.3h0.01M116.6,254.3h0.01M118.8,254.7h0.01M120.9,254.6h0.01M123,254.3h0.01M125.1,254.2h0.01M127.2,254.1h0.01M129.3,254.1h0.01M131.4,254.6h0.01M133.5,254.3h0.01M135.7,254.2h0.01M137.8,254.4h0.01M139.9,254.6h0.01M142,254.4h0.01M144.1,254.6h0.01M146.2,254.1h0.01M148.3,254.2h0.01M150.5,254.4h0.01M152.6,254.5h0.01M154.7,254.1h0.01M156.8,254.4h0.01M158.9,254.2h0.01M161,254.2h0.01M163.1,254.4h0.01M165.2,254.5h0.01M167.4,254.4h0.01M169.5,254.5h0.01M171.6,254.7h0.01M173.7,254.6h0.01M175.8,254.3h0.01M177.9,254.8h0.01M180,254.8h0.01M182.2,254.4h0.01M184.3,254.6h0.01M186.4,254.5h0.01M188.5,254.5h0.01M190.6,254.6h0.01M192.7,254.2h0.01M194.8,254.7h0.01M197,254.6h0.01M199.1,254.7h0.01M201.2,254.5h0.01M203.3,254.7h0.01M205.4,254.7h0.01M207.5,254.4h0.01M209.6,254.7h0.01M211.7,254.5h0.01M213.9,254.3h0.01M216,254.9h0.01M218.1,254.9h0.01M220.2,254.8h0.01M222.3,254.4h0.01M224.4,254.5h0.01M226.5,254.8h0.01M228.7,254.7h0.01M230.8,254.8h0.01M232.9,254.7h0.01M235,254.9h0.01M237.1,254.5h0.01M239.2,254.4h0.01M241.3,254.4h0.01M243.4,254.5h0.01M245.6,254.4h0.01M247.7,255h0.01M249.8,254.8h0.01M251.9,254.4h0.01M254,254.5h0.01M256.1,254.8h0.01M258.2,254.4h0.01M260.4,254.7h0.01M262.5,254.5h0.01M264.6,254.9h0.01M266.7,254.9h0.01M268.8,254.8h0.01M270.9,255h0.01M273,254.8h0.01M275.2,254.5h0.01M277.3,254.9h0.01M279.4,255.1h0.01M281.5,255.1h0.01M283.6,255h0.01M285.7,254.6h0.01M287.8,254.9h0.01M289.9,255h0.01M292.1,255.1h0.01M294.2,254.5h0.01M296.3,254.9h0.01M298.4,255h0.01M300.5,255.1h0.01M302.6,255.1h0.01M304.7,255.1h0.01M306.9,254.8h0.01M309,255.1h0.01M311.1,255.2h0.01M313.2,254.9h0.01M315.3,255.1h0.01M317.4,254.6h0.01M319.5,255.2h0.01M321.6,254.9h0.01M323.8,254.7h0.01M325.9,255h0.01M328,254.6h0.01M330.1,255h0.01M332.2,255.1h0.01M334.3,255h0.01M336.4,255.3h0.01M338.6,255h0.01M340.7,255.1h0.01M342.8,254.7h0.01M344.9,254.8h0.01M347,255h0.01M349.1,255.3h0.01M351.2,255.2h0.01M353.3,255.2h0.01M355.5,255.2h0.01M357.6,255.2h0.01M359.7,254.8h0.01M361.8,255.3h0.01M363.9,255.3h0.01M366,254.8h0.01M368.1,255h0.01M370.3,254.7h0.01M372.4,255.1h0.01M374.5,254.8h0.01M376.6,255h0.01M378.7,254.9h0.01M380.8,254.9h0.01M382.9,255.1h0.01M385.1,255.4h0.01M387.2,255.3h0.01M389.3,254.9h0.01M391.4,254.9h0.01M393.5,254.9h0.01M395.6,255.2h0.01M397.7,255h0.01M399.8,255h0.01M402,255.1h0.01M404.1,255h0.01M406.2,255.1h0.01M408.3,255.1h0.01M410.4,255.1h0.01M412.5,255.3h0.01M414.6,254.9h0.01M416.8,254.9h0.01M418.9,255.5h0.01M421,254.9h0.01M423.1,254.9h0.01M425.2,255.1h0.01M427.3,255.5h0.01M429.4,255h0.01M431.5,255.5h0.01M433.7,254.9h0.01M435.8,255.1h0.01M437.9,255.5h0.01M440,255.5h0.01M442.1,255.2h0.01M444.2,255.2h0.01M446.3,255.1h0.01M448.5,255h0.01M450.6,255.5h0.01M452.7,255.6h0.01M454.8,255h0.01M456.9,255.6h0.01M459,255.1h0.01M461.1,255.6h0.01M463.3,255.1h0.01M465.4,255.2h0.01M467.5,255.1h0.01M469.6,255.3h0.01M471.7,255.1h0.01M473.8,255.6h0.01M475.9,255.3h0.01M478,255.5h0.01M480.2,255.1h0.01M482.3,255.2h0.01M484.4,255.4h0.01M486.5,255.4h0.01" stroke="#fff" stroke-width="1.1" stroke-linecap="round" stroke-opacity="0.75" fill="none"/>
<polyline points="65.9,343.1 68,344.7 70.1,347.4 72.3,344.7 74.4,342 76.5,341.4 78.6,340.6 80.7,339.8 82.8,339.1 84.9,338.3 87,338.3 89.2,337.7 91.3,339 93.4,337.9 95.5,336.8 97.6,337 99.7,336.3 101.8,337.4 104,336.5 106.1,336.5 108.2,335.9 110.3,335.6 112.4,336.4 114.5,335.9 116.6,335.6 118.8,334.3 120.9,334.4 123,335.3 125.1,334 127.2,335 129.3,334 131.4,334.7 133.5,334.8 135.7,333.2 137.8,334.2 139.9,334 142,332.5 144.1,332.6 146.2,333.5 148.3,332.1 150.5,332.8 152.6,332.5 154.7,333.2 156.8,331.9 158.9,332.2 161,331.7 163.1,331.7 165.2,332.7 167.4,332.5 169.5,332.7 171.6,332.7 173.7,332.7 175.8,332.2 177.9,331.6 180,332.6 182.2,331.3 184.3,331.8 186.4,331.8 188.5,330.8 190.6,331.4 192.7,331.6 194.8,331.3 197,330.9 199.1,332 201.2,330.3 203.3,332 205.4,330.7 207.5,330.5 209.6,331.9 211.7,330.5 213.9,331.2 216,330.8 218.1,331.8 220.2,331.7 222.3,331.4 224.4,330.1 226.5,331.3 228.7,330.3 230.8,330 232.9,330 235,331 237.1,330.9 239.2,330.6 241.3,330.1 243.4,331.3 245.6,330.1 247.7,330 249.8,329.9 251.9,331.3 254,329.6 256.1,331.1 258.2,330.6 260.4,330.1 262.5,329.6 264.6,330.6 266.7,329.5 268.8,330.1 270.9,330.5 273,330.5 275.2,330.7 277.3,330.9 279.4,330.7 281.5,329.8 283.6,329.2 285.7,330.7 287.8,330.9 289.9,329.2 292.1,330 294.2,330.2 296.3,330.5 298.4,329.9 300.5,329.4 302.6,330.1 304.7,330.1 306.9,330.8 309,329.3 311.1,330.8 313.2,330 315.3,329.4 317.4,330.6 319.5,329.5 321.6,329.1 323.8,329.7 325.9,329.4 328,330.6 330.1,330 332.2,330.5 334.3,329.3 336.4,330.2 338.6,329.9 340.7,329 342.8,329.2 344.9,329 347,329.9 349.1,329.8 351.2,329.4 353.3,329.8 355.5,330.1 357.6,329.9 359.7,330.4 361.8,330 363.9,328.9 366,328.9 368.1,329.5 370.3,329.7 372.4,330 374.5,330.4 376.6,330.1 378.7,329.2 380.8,329 382.9,329.9 385.1,329.2 387.2,329.2 389.3,329.3 391.4,329.3 393.5,329.2 395.6,329.8 397.7,329.2 399.8,330 402,329.6 404.1,329.1 406.2,329.3 408.3,330 410.4,328.8 412.5,329 414.6,329.3 416.8,331.5 418.9,329.4 421,330.6 423.1,329 425.2,329.8 427.3,328.4 429.4,329.1 431.5,328.5 433.7,330.3 435.8,329.4 437.9,329.3 440,329.1 442.1,329.9 444.2,329.1 446.3,329.1 448.5,329.4 450.6,328.9 452.7,328.9 454.8,329.7 456.9,329.7 459,330.3 461.1,329.1 463.3,329 465.4,329.8 467.5,329.4 469.6,329.4 471.7,329.4 473.8,330.3 475.9,329.3 478,329.6 480.2,329.5 482.3,329.9 484.4,329.6 486.5,329.3" fill="none" stroke="#1f8f8f" stroke-width="4.0" stroke-linejoin="round" stroke-linecap="round"/>
<path d="M74.4,342h0.01M76.5,341.4h0.01M78.6,340.6h0.01M80.7,339.8h0.01M82.8,339.1h0.01M84.9,338.3h0.01M87,338.3h0.01M89.2,337.7h0.01M91.3,339h0.01M93.4,337.9h0.01M95.5,336.8h0.01M97.6,337h0.01M99.7,336.3h0.01M101.8,337.4h0.01M104,336.5h0.01M106.1,336.5h0.01M108.2,335.9h0.01M110.3,335.6h0.01M112.4,336.4h0.01M114.5,335.9h0.01M116.6,335.6h0.01M118.8,334.3h0.01M120.9,334.4h0.01M123,335.3h0.01M125.1,334h0.01M127.2,335h0.01M129.3,334h0.01M131.4,334.7h0.01M133.5,334.8h0.01M135.7,333.2h0.01M137.8,334.2h0.01M139.9,334h0.01M142,332.5h0.01M144.1,332.6h0.01M146.2,333.5h0.01M148.3,332.1h0.01M150.5,332.8h0.01M152.6,332.5h0.01M154.7,333.2h0.01M156.8,331.9h0.01M158.9,332.2h0.01M161,331.7h0.01M163.1,331.7h0.01M165.2,332.7h0.01M167.4,332.5h0.01M169.5,332.7h0.01M171.6,332.7h0.01M173.7,332.7h0.01M175.8,332.2h0.01M177.9,331.6h0.01M180,332.6h0.01M182.2,331.3h0.01M184.3,331.8h0.01M186.4,331.8h0.01M188.5,330.8h0.01M190.6,331.4h0.01M192.7,331.6h0.01M194.8,331.3h0.01M197,330.9h0.01M199.1,332h0.01M201.2,330.3h0.01M203.3,332h0.01M205.4,330.7h0.01M207.5,330.5h0.01M209.6,331.9h0.01M211.7,330.5h0.01M213.9,331.2h0.01M216,330.8h0.01M218.1,331.8h0.01M220.2,331.7h0.01M222.3,331.4h0.01M224.4,330.1h0.01M226.5,331.3h0.01M228.7,330.3h0.01M230.8,330h0.01M232.9,330h0.01M235,331h0.01M237.1,330.9h0.01M239.2,330.6h0.01M241.3,330.1h0.01M243.4,331.3h0.01M245.6,330.1h0.01M247.7,330h0.01M249.8,329.9h0.01M251.9,331.3h0.01M254,329.6h0.01M256.1,331.1h0.01M258.2,330.6h0.01M260.4,330.1h0.01M262.5,329.6h0.01M264.6,330.6h0.01M266.7,329.5h0.01M268.8,330.1h0.01M270.9,330.5h0.01M273,330.5h0.01M275.2,330.7h0.01M277.3,330.9h0.01M279.4,330.7h0.01M281.5,329.8h0.01M283.6,329.2h0.01M285.7,330.7h0.01M287.8,330.9h0.01M289.9,329.2h0.01M292.1,330h0.01M294.2,330.2h0.01M296.3,330.5h0.01M298.4,329.9h0.01M300.5,329.4h0.01M302.6,330.1h0.01M304.7,330.1h0.01M306.9,330.8h0.01M309,329.3h0.01M311.1,330.8h0.01M313.2,330h0.01M315.3,329.4h0.01M317.4,330.6h0.01M319.5,329.5h0.01M321.6,329.1h0.01M323.8,329.7h0.01M325.9,329.4h0.01M328,330.6h0.01M330.1,330h0.01M332.2,330.5h0.01M334.3,329.3h0.01M336.4,330.2h0.01M338.6,329.9h0.01M340.7,329h0.01M342.8,329.2h0.01M344.9,329h0.01M347,329.9h0.01M349.1,329.8h0.01M351.2,329.4h0.01M353.3,329.8h0.01M355.5,330.1h0.01M357.6,329.9h0.01M359.7,330.4h0.01M361.8,330h0.01M363.9,328.9h0.01M366,328.9h0.01M368.1,329.5h0.01M370.3,329.7h0.01M372.4,330h0.01M374.5,330.4h0.01M376.6,330.1h0.01M378.7,329.2h0.01M380.8,329h0.01M382.9,329.9h0.01M385.1,329.2h0.01M387.2,329.2h0.01M389.3,329.3h0.01M391.4,329.3h0.01M393.5,329.2h0.01M395.6,329.8h0.01M397.7,329.2h0.01M399.8,330h0.01M402,329.6h0.01M404.1,329.1h0.01M406.2,329.3h0.01M408.3,330h0.01M410.4,328.8h0.01M412.5,329h0.01M414.6,329.3h0.01M416.8,331.5h0.01M418.9,329.4h0.01M421,330.6h0.01M423.1,329h0.01M425.2,329.8h0.01M427.3,328.4h0.01M429.4,329.1h0.01M431.5,328.5h0.01M433.7,330.3h0.01M435.8,329.4h0.01M437.9,329.3h0.01M440,329.1h0.01M442.1,329.9h0.01M444.2,329.1h0.01M446.3,329.1h0.01M448.5,329.4h0.01M450.6,328.9h0.01M452.7,328.9h0.01M454.8,329.7h0.01M456.9,329.7h0.01M459,330.3h0.01M461.1,329.1h0.01M463.3,329h0.01M465.4,329.8h0.01M467.5,329.4h0.01M469.6,329.4h0.01M471.7,329.4h0.01M473.8,330.3h0.01M475.9,329.3h0.01M478,329.6h0.01M480.2,329.5h0.01M482.3,329.9h0.01M484.4,329.6h0.01M486.5,329.3h0.01" stroke="#fff" stroke-width="1.1" stroke-linecap="round" stroke-opacity="0.75" fill="none"/>
<text x="380.5" y="69" font-family="&apos;Liberation Sans&apos;, sans-serif" font-weight="bold" font-size="14.5" stroke="#000" stroke-width="0.3">1.0 mA cm<tspan dy="-7" font-size="9.5">-2</tspan></text>
<text x="380.5" y="144.6" font-family="&apos;Liberation Sans&apos;, sans-serif" font-weight="bold" font-size="14.5" stroke="#000" stroke-width="0.3">2.0 mA cm<tspan dy="-7" font-size="9.5">-2</tspan></text>
<text x="380.5" y="220.2" font-family="&apos;Liberation Sans&apos;, sans-serif" font-weight="bold" font-size="14.5" stroke="#000" stroke-width="0.3">5.0 mA cm<tspan dy="-7" font-size="9.5">-2</tspan></text>
<text x="380.5" y="295.8" font-family="&apos;Liberation Sans&apos;, sans-serif" font-weight="bold" font-size="14.5" stroke="#000" stroke-width="0.3">10.0 mA cm<tspan dy="-7" font-size="9.5">-2</tspan></text>
<text x="380.5" y="370.8" font-family="&apos;Liberation Sans&apos;, sans-serif" font-weight="bold" font-size="14.5" stroke="#000" stroke-width="0.3">30.0 mA cm<tspan dy="-7" font-size="9.5">-2</tspan></text>
<rect x="582.2" y="5" width="426.8" height="376.5" fill="none" stroke="#000" stroke-width="2.2"/>
<line x1="582.2" y1="80.2" x2="1009" y2="80.2" stroke="#000" stroke-width="2.4"/>
<line x1="582.2" y1="155.5" x2="1009" y2="155.5" stroke="#000" stroke-width="2.4"/>
<line x1="582.2" y1="230.8" x2="1009" y2="230.8" stroke="#000" stroke-width="2.4"/>
<line x1="582.2" y1="306.1" x2="1009" y2="306.1" stroke="#000" stroke-width="2.4"/>
<line x1="582.2" y1="80.2" x2="586.2" y2="80.2" stroke="#000" stroke-width="2"/>
<text x="578.2" y="83.4" text-anchor="end" font-family="&apos;Liberation Sans&apos;, sans-serif" font-weight="bold" font-size="14.5" stroke="#000" stroke-width="0.25">50</text>
<line x1="582.2" y1="53.3" x2="586.2" y2="53.3" stroke="#000" stroke-width="2"/>
<text x="578.2" y="56.5" text-anchor="end" font-family="&apos;Liberation Sans&apos;, sans-serif" font-weight="bold" font-size="14.5" stroke="#000" stroke-width="0.25">75</text>
<line x1="582.2" y1="26.5" x2="586.2" y2="26.5" stroke="#000" stroke-width="2"/>
<text x="578.2" y="29.7" text-anchor="end" font-family="&apos;Liberation Sans&apos;, sans-serif" font-weight="bold" font-size="14.5" stroke="#000" stroke-width="0.25">100</text>
<line x1="582.2" y1="66.8" x2="584.7" y2="66.8" stroke="#000" stroke-width="2"/>
<line x1="582.2" y1="39.9" x2="584.7" y2="39.9" stroke="#000" stroke-width="2"/>
<line x1="582.2" y1="13.1" x2="584.7" y2="13.1" stroke="#000" stroke-width="2"/>
<line x1="582.2" y1="155.5" x2="586.2" y2="155.5" stroke="#000" stroke-width="2"/>
<text x="578.2" y="158.7" text-anchor="end" font-family="&apos;Liberation Sans&apos;, sans-serif" font-weight="bold" font-size="14.5" stroke="#000" stroke-width="0.25">50</text>
<line x1="582.2" y1="128.6" x2="586.2" y2="128.6" stroke="#000" stroke-width="2"/>
<text x="578.2" y="131.8" text-anchor="end" font-family="&apos;Liberation Sans&apos;, sans-serif" font-weight="bold" font-size="14.5" stroke="#000" stroke-width="0.25">75</text>
<line x1="582.2" y1="101.7" x2="586.2" y2="101.7" stroke="#000" stroke-width="2"/>
<text x="578.2" y="104.9" text-anchor="end" font-family="&apos;Liberation Sans&apos;, sans-serif" font-weight="bold" font-size="14.5" stroke="#000" stroke-width="0.25">100</text>
<line x1="582.2" y1="142.1" x2="584.7" y2="142.1" stroke="#000" stroke-width="2"/>
<line x1="582.2" y1="115.2" x2="584.7" y2="115.2" stroke="#000" stroke-width="2"/>
<line x1="582.2" y1="88.3" x2="584.7" y2="88.3" stroke="#000" stroke-width="2"/>
<line x1="582.2" y1="230.8" x2="586.2" y2="230.8" stroke="#000" stroke-width="2"/>
<text x="578.2" y="234" text-anchor="end" font-family="&apos;Liberation Sans&apos;, sans-serif" font-weight="bold" font-size="14.5" stroke="#000" stroke-width="0.25">50</text>
<line x1="582.2" y1="203.9" x2="586.2" y2="203.9" stroke="#000" stroke-width="2"/>
<text x="578.2" y="207.1" text-anchor="end" font-family="&apos;Liberation Sans&apos;, sans-serif" font-weight="bold" font-size="14.5" stroke="#000" stroke-width="0.25">75</text>
<line x1="582.2" y1="177" x2="586.2" y2="177" stroke="#000" stroke-width="2"/>
<text x="578.2" y="180.2" text-anchor="end" font-family="&apos;Liberation Sans&apos;, sans-serif" font-weight="bold" font-size="14.5" stroke="#000" stroke-width="0.25">100</text>
<line x1="582.2" y1="217.4" x2="584.7" y2="217.4" stroke="#000" stroke-width="2"/>
<line x1="582.2" y1="190.5" x2="584.7" y2="190.5" stroke="#000" stroke-width="2"/>
<line x1="582.2" y1="163.6" x2="584.7" y2="163.6" stroke="#000" stroke-width="2"/>
<line x1="582.2" y1="306.1" x2="586.2" y2="306.1" stroke="#000" stroke-width="2"/>
<text x="578.2" y="309.3" text-anchor="end" font-family="&apos;Liberation Sans&apos;, sans-serif" font-weight="bold" font-size="14.5" stroke="#000" stroke-width="0.25">50</text>
<line x1="582.2" y1="279.2" x2="586.2" y2="279.2" stroke="#000" stroke-width="2"/>
<text x="578.2" y="282.4" text-anchor="end" font-family="&apos;Liberation Sans&apos;, sans-serif" font-weight="bold" font-size="14.5" stroke="#000" stroke-width="0.25">75</text>
<line x1="582.2" y1="252.3" x2="586.2" y2="252.3" stroke="#000" stroke-width="2"/>
<text x="578.2" y="255.5" text-anchor="end" font-family="&apos;Liberation Sans&apos;, sans-serif" font-weight="bold" font-size="14.5" stroke="#000" stroke-width="0.25">100</text>
<line x1="582.2" y1="292.7" x2="584.7" y2="292.7" stroke="#000" stroke-width="2"/>
<line x1="582.2" y1="265.8" x2="584.7" y2="265.8" stroke="#000" stroke-width="2"/>
<line x1="582.2" y1="238.9" x2="584.7" y2="238.9" stroke="#000" stroke-width="2"/>
<line x1="582.2" y1="381.5" x2="586.2" y2="381.5" stroke="#000" stroke-width="2"/>
<text x="578.2" y="384.7" text-anchor="end" font-family="&apos;Liberation Sans&apos;, sans-serif" font-weight="bold" font-size="14.5" stroke="#000" stroke-width="0.25">50</text>
<line x1="582.2" y1="354.6" x2="586.2" y2="354.6" stroke="#000" stroke-width="2"/>
<text x="578.2" y="357.8" text-anchor="end" font-family="&apos;Liberation Sans&apos;, sans-serif" font-weight="bold" font-size="14.5" stroke="#000" stroke-width="0.25">75</text>
<line x1="582.2" y1="327.6" x2="586.2" y2="327.6" stroke="#000" stroke-width="2"/>
<text x="578.2" y="330.8" text-anchor="end" font-family="&apos;Liberation Sans&apos;, sans-serif" font-weight="bold" font-size="14.5" stroke="#000" stroke-width="0.25">100</text>
<line x1="582.2" y1="368" x2="584.7" y2="368" stroke="#000" stroke-width="2"/>
<line x1="582.2" y1="341.1" x2="584.7" y2="341.1" stroke="#000" stroke-width="2"/>
<line x1="582.2" y1="314.2" x2="584.7" y2="314.2" stroke="#000" stroke-width="2"/>
<line x1="591.3" y1="381.5" x2="591.3" y2="377.5" stroke="#000" stroke-width="2"/>
<text x="591.3" y="396.5" text-anchor="middle" font-family="&apos;Liberation Sans&apos;, sans-serif" font-weight="bold" font-size="14.5" stroke="#000" stroke-width="0.25">0</text>
<line x1="632.9" y1="381.5" x2="632.9" y2="379" stroke="#000" stroke-width="2"/>
<line x1="674.5" y1="381.5" x2="674.5" y2="377.5" stroke="#000" stroke-width="2"/>
<text x="674.5" y="396.5" text-anchor="middle" font-family="&apos;Liberation Sans&apos;, sans-serif" font-weight="bold" font-size="14.5" stroke="#000" stroke-width="0.25">40</text>
<line x1="716.2" y1="381.5" x2="716.2" y2="379" stroke="#000" stroke-width="2"/>
<line x1="757.8" y1="381.5" x2="757.8" y2="377.5" stroke="#000" stroke-width="2"/>
<text x="757.8" y="396.5" text-anchor="middle" font-family="&apos;Liberation Sans&apos;, sans-serif" font-weight="bold" font-size="14.5" stroke="#000" stroke-width="0.25">80</text>
<line x1="799.4" y1="381.5" x2="799.4" y2="379" stroke="#000" stroke-width="2"/>
<line x1="841" y1="381.5" x2="841" y2="377.5" stroke="#000" stroke-width="2"/>
<text x="841" y="396.5" text-anchor="middle" font-family="&apos;Liberation Sans&apos;, sans-serif" font-weight="bold" font-size="14.5" stroke="#000" stroke-width="0.25">120</text>
<line x1="882.6" y1="381.5" x2="882.6" y2="379" stroke="#000" stroke-width="2"/>
<line x1="924.3" y1="381.5" x2="924.3" y2="377.5" stroke="#000" stroke-width="2"/>
<text x="924.3" y="396.5" text-anchor="middle" font-family="&apos;Liberation Sans&apos;, sans-serif" font-weight="bold" font-size="14.5" stroke="#000" stroke-width="0.25">160</text>
<line x1="965.9" y1="381.5" x2="965.9" y2="379" stroke="#000" stroke-width="2"/>
<line x1="1007.5" y1="381.5" x2="1007.5" y2="377.5" stroke="#000" stroke-width="2"/>
<text x="1007.5" y="396.5" text-anchor="middle" font-family="&apos;Liberation Sans&apos;, sans-serif" font-weight="bold" font-size="14.5" stroke="#000" stroke-width="0.25">200</text>
<line x1="591.3" y1="77.2" x2="591.3" y2="83.2" stroke="#000" stroke-width="2"/>
<line x1="634.1" y1="78.4" x2="634.1" y2="82" stroke="#000" stroke-width="2"/>
<line x1="676.9" y1="77.2" x2="676.9" y2="83.2" stroke="#000" stroke-width="2"/>
<line x1="719.7" y1="78.4" x2="719.7" y2="82" stroke="#000" stroke-width="2"/>
<line x1="762.5" y1="77.2" x2="762.5" y2="83.2" stroke="#000" stroke-width="2"/>
<line x1="805.3" y1="78.4" x2="805.3" y2="82" stroke="#000" stroke-width="2"/>
<line x1="848.1" y1="77.2" x2="848.1" y2="83.2" stroke="#000" stroke-width="2"/>
<line x1="890.9" y1="78.4" x2="890.9" y2="82" stroke="#000" stroke-width="2"/>
<line x1="933.7" y1="77.2" x2="933.7" y2="83.2" stroke="#000" stroke-width="2"/>
<line x1="976.5" y1="78.4" x2="976.5" y2="82" stroke="#000" stroke-width="2"/>
<line x1="591.3" y1="152.5" x2="591.3" y2="158.5" stroke="#000" stroke-width="2"/>
<line x1="634.1" y1="153.7" x2="634.1" y2="157.3" stroke="#000" stroke-width="2"/>
<line x1="676.9" y1="152.5" x2="676.9" y2="158.5" stroke="#000" stroke-width="2"/>
<line x1="719.7" y1="153.7" x2="719.7" y2="157.3" stroke="#000" stroke-width="2"/>
<line x1="762.5" y1="152.5" x2="762.5" y2="158.5" stroke="#000" stroke-width="2"/>
<line x1="805.3" y1="153.7" x2="805.3" y2="157.3" stroke="#000" stroke-width="2"/>
<line x1="848.1" y1="152.5" x2="848.1" y2="158.5" stroke="#000" stroke-width="2"/>
<line x1="890.9" y1="153.7" x2="890.9" y2="157.3" stroke="#000" stroke-width="2"/>
<line x1="933.7" y1="152.5" x2="933.7" y2="158.5" stroke="#000" stroke-width="2"/>
<line x1="976.5" y1="153.7" x2="976.5" y2="157.3" stroke="#000" stroke-width="2"/>
<line x1="591.3" y1="227.8" x2="591.3" y2="233.8" stroke="#000" stroke-width="2"/>
<line x1="634.1" y1="229" x2="634.1" y2="232.6" stroke="#000" stroke-width="2"/>
<line x1="676.9" y1="227.8" x2="676.9" y2="233.8" stroke="#000" stroke-width="2"/>
<line x1="719.7" y1="229" x2="719.7" y2="232.6" stroke="#000" stroke-width="2"/>
<line x1="762.5" y1="227.8" x2="762.5" y2="233.8" stroke="#000" stroke-width="2"/>
<line x1="805.3" y1="229" x2="805.3" y2="232.6" stroke="#000" stroke-width="2"/>
<line x1="848.1" y1="227.8" x2="848.1" y2="233.8" stroke="#000" stroke-width="2"/>
<line x1="890.9" y1="229" x2="890.9" y2="232.6" stroke="#000" stroke-width="2"/>
<line x1="933.7" y1="227.8" x2="933.7" y2="233.8" stroke="#000" stroke-width="2"/>
<line x1="976.5" y1="229" x2="976.5" y2="232.6" stroke="#000" stroke-width="2"/>
<line x1="591.3" y1="303.1" x2="591.3" y2="309.1" stroke="#000" stroke-width="2"/>
<line x1="634.1" y1="304.3" x2="634.1" y2="307.9" stroke="#000" stroke-width="2"/>
<line x1="676.9" y1="303.1" x2="676.9" y2="309.1" stroke="#000" stroke-width="2"/>
<line x1="719.7" y1="304.3" x2="719.7" y2="307.9" stroke="#000" stroke-width="2"/>
<line x1="762.5" y1="303.1" x2="762.5" y2="309.1" stroke="#000" stroke-width="2"/>
<line x1="805.3" y1="304.3" x2="805.3" y2="307.9" stroke="#000" stroke-width="2"/>
<line x1="848.1" y1="303.1" x2="848.1" y2="309.1" stroke="#000" stroke-width="2"/>
<line x1="890.9" y1="304.3" x2="890.9" y2="307.9" stroke="#000" stroke-width="2"/>
<line x1="933.7" y1="303.1" x2="933.7" y2="309.1" stroke="#000" stroke-width="2"/>
<line x1="976.5" y1="304.3" x2="976.5" y2="307.9" stroke="#000" stroke-width="2"/>
<polyline points="593.4,48 595.5,55.5 597.5,51.2 599.6,49.6 601.7,48 603.8,46.4 605.9,45.2 607.9,43.9 610,42.3 612.1,41.6 614.2,40.8 616.3,39.9 618.4,39.6 620.4,38.5 622.5,37.6 624.6,37 626.7,37.2 628.8,36.5 630.8,36.2 632.9,35 635,34.9 637.1,35.4 639.2,34.2 641.2,34.1 643.3,34.2 645.4,34.1 647.5,34.4 649.6,34.4 651.6,33.6 653.7,33.9 655.8,33.7 657.9,33.5 660,33.6 662.1,33 664.1,32.9 666.2,32.3 668.3,32.5 670.4,32.3 672.5,32.3 674.5,32 676.6,32.1 678.7,32.2 680.8,31.4 682.9,31.3 684.9,31.3 687,31.4 689.1,31.7 691.2,31.7 693.3,31.5 695.4,31.7 697.4,30.9 699.5,31.2 701.6,30.7 703.7,31.2 705.8,30.5 707.8,30.6 709.9,31.5 712,31.2 714.1,30.4 716.2,30.9 718.2,30.3 720.3,30.9 722.4,31.2 724.5,30.5 726.6,30.3 728.6,30.8 730.7,31 732.8,30.7 734.9,30 737,30.1 739.1,30.8 741.1,30.6 743.2,30.7 745.3,30.7 747.4,29.9 749.5,30.5 751.5,30.1 753.6,30.2 755.7,30.4 757.8,29.8 759.9,30.4 761.9,29.8 764,30.3 766.1,30 768.2,30.2 770.3,30.1 772.3,29.3 774.4,29.4 776.5,29.9 778.6,29.2 780.7,29.9 782.8,29.7 784.8,29.2 786.9,29.4 789,29.9 791.1,28.9 793.2,29.7 795.2,29.6 797.3,29 799.4,29.5 801.5,29.5 803.6,29.7 805.6,29.7 807.7,29.2 809.8,29.5 811.9,29.1 814,29.4 816,29.3 818.1,28.7 820.2,29.2 822.3,29.1 824.4,28.8 826.5,29.5 828.5,29.5 830.6,28.7 832.7,28.8 834.8,29.4 836.9,29.5 838.9,28.9 841,28.6 843.1,29.4 845.2,28.6 847.3,28.7 849.3,29 851.4,29.1 853.5,29.5 855.6,29.5 857.7,28.5 859.7,29.3 861.8,28.8 863.9,29.3 866,28.7 868.1,28.9 870.2,29.2 872.2,29.3 874.3,28.7 876.4,29.4 878.5,29.2 880.6,28.9 882.6,28.6 884.7,28.8 886.8,29.2 888.9,28.5 891,29.2 893,29.4 895.1,29.1 897.2,28.9 899.3,29.3 901.4,29.2 903.5,29 905.5,28.8 907.6,29.2 909.7,29 911.8,28.4 913.9,28.3 915.9,28.6 918,28.6 920.1,28.7 922.2,29.2 924.3,29.3 926.3,29.3 928.4,28.3 930.5,28.5 932.6,28.2 934.7,29.2 936.7,28.6 938.8,28.7 940.9,28.4 943,28.9 945.1,28.1 947.2,29.1 949.2,28.6 951.3,28.4 953.4,28.2 955.5,28.4 957.6,28.4 959.6,28.3 961.7,28.2 963.8,28.8 965.9,28.4 968,28.2 970,28.2 972.1,28.7 974.2,28.2 976.3,28.2 978.4,28.5 980.4,28.4 982.5,28.6 984.6,28.4 986.7,28.4 988.8,28.9 990.9,28.3 992.9,27.9 995,28.1 997.1,28.2 999.2,28.6 1001.3,28.2 1003.3,28.3 1005.4,28.5 1007.5,28.1" fill="none" stroke="#ee33ee" stroke-width="4.0" stroke-linejoin="round" stroke-linecap="round"/>
<polyline points="593.4,111.9 595.5,109.5 597.5,107.1 599.6,105.9 601.7,104.7 603.8,104.6 605.9,104.4 607.9,104.1 610,103.9 612.1,104.1 614.2,104.2 616.3,104 618.4,104 620.4,103.6 622.5,103.7 624.6,103.8 626.7,103.8 628.8,103.7 630.8,104.1 632.9,103.9 635,104.1 637.1,103.6 639.2,104.2 641.2,103.6 643.3,104.2 645.4,103.7 647.5,104 649.6,103.9 651.6,103.6 653.7,104.2 655.8,104.2 657.9,103.6 660,103.9 662.1,104.2 664.1,103.5 666.2,103.5 668.3,104.2 670.4,103.9 672.5,104.1 674.5,104 676.6,103.8 678.7,104.1 680.8,103.7 682.9,104.2 684.9,104.1 687,103.6 689.1,103.9 691.2,103.9 693.3,103.8 695.4,103.9 697.4,104 699.5,104.2 701.6,103.7 703.7,103.5 705.8,103.5 707.8,103.7 709.9,104 712,104 714.1,103.7 716.2,103.7 718.2,104.2 720.3,104.1 722.4,104 724.5,103.9 726.6,103.6 728.6,103.9 730.7,104.2 732.8,103.6 734.9,103.9 737,103.9 739.1,104.1 741.1,103.9 743.2,103.9 745.3,103.7 747.4,104.2 749.5,103.8 751.5,104.1 753.6,103.7 755.7,104.2 757.8,104 759.9,104 761.9,103.8 764,104.2 766.1,103.9 768.2,104.1 770.3,104 772.3,103.9 774.4,103.5 776.5,103.9 778.6,103.5 780.7,104.1 782.8,103.5 784.8,104 786.9,104.1 789,103.7 791.1,103.6 793.2,104.2 795.2,104 797.3,103.7 799.4,104 801.5,104 803.6,104.2 805.6,104.2 807.7,103.7 809.8,103.4 811.9,103.4 814,103.8 816,104.1 818.1,103.9 820.2,103.5 822.3,103.5 824.4,103.6 826.5,103.9 828.5,103.7 830.6,103.7 832.7,103.6 834.8,103.9 836.9,103.3 838.9,103.4 841,103.9 843.1,103.8 845.2,103.3 847.3,103.8 849.3,103.3 851.4,103.6 853.5,103.4 855.6,103.4 857.7,103.8 859.7,103.7 861.8,103.7 863.9,103.4 866,103.4 868.1,103.8 870.2,103.2 872.2,103.5 874.3,103.7 876.4,103.5 878.5,103.1 880.6,103.4 882.6,103.3 884.7,103.1 886.8,103.1 888.9,103.2 891,103.5 893,103.3 895.1,103.1 897.2,103.1 899.3,103.3 901.4,103.5 903.5,103.4 905.5,103.1 907.6,103.3 909.7,103.7 911.8,103.1 913.9,103 915.9,103 918,103 920.1,102.9 922.2,103.2 924.3,103 926.3,103.3 928.4,103.5 930.5,103.3 932.6,103.3 934.7,102.8 936.7,103 938.8,103.1 940.9,103 943,103.4 945.1,103.1 947.2,103 949.2,103.2 951.3,103.3 953.4,103.1 955.5,103.2 957.6,102.9 959.6,103.3 961.7,103.3 963.8,103.2 965.9,102.9 968,102.8 970,102.9 972.1,102.6 974.2,103.1 976.3,103.3 978.4,102.9 980.4,103 982.5,103.2 984.6,102.8 986.7,103 988.8,103.1 990.9,103 992.9,102.5 995,103.2 997.1,102.9 999.2,103 1001.3,103 1003.3,102.9 1005.4,103 1007.5,102.5" fill="none" stroke="#1a8a1a" stroke-width="4.0" stroke-linejoin="round" stroke-linecap="round"/>
<polyline points="593.4,184 595.5,181.6 597.5,179.2 599.6,178.5 601.7,177.9 603.8,177.9 605.9,178 607.9,177.7 610,177.7 612.1,177.6 614.2,178.1 616.3,178 618.4,178.1 620.4,178 622.5,177.6 624.6,178.1 626.7,177.8 628.8,178 630.8,177.9 632.9,177.8 635,177.5 637.1,177.7 639.2,178.2 641.2,178 643.3,178.1 645.4,177.6 647.5,177.6 649.6,177.7 651.6,177.7 653.7,177.7 655.8,177.6 657.9,177.7 660,178.1 662.1,177.7 664.1,178 666.2,177.8 668.3,178 670.4,178.1 672.5,178.1 674.5,178.1 676.6,178.2 678.7,178.4 680.8,177.9 682.9,177.9 684.9,177.8 687,178 689.1,178.1 691.2,178 693.3,178.5 695.4,178.1 697.4,178.3 699.5,178.5 701.6,178.5 703.7,178.2 705.8,178.5 707.8,178.3 709.9,178.2 712,178.4 714.1,178.6 716.2,178.3 718.2,178.6 720.3,178.6 722.4,178.6 724.5,178.5 726.6,178.7 728.6,178.3 730.7,178.1 732.8,178.5 734.9,178.3 737,178.2 739.1,178.8 741.1,178.8 743.2,178.3 745.3,178.3 747.4,178.5 749.5,178.8 751.5,178.6 753.6,178.3 755.7,178.3 757.8,178.4 759.9,178.8 761.9,178.3 764,178.7 766.1,178.4 768.2,178.8 770.3,178.2 772.3,178.4 774.4,178.3 776.5,178.7 778.6,178.4 780.7,178.4 782.8,178.3 784.8,178.5 786.9,178.2 789,178.5 791.1,178.5 793.2,178.6 795.2,178.2 797.3,178.6 799.4,178.5 801.5,178.6 803.6,178.1 805.6,178.2 807.7,178.2 809.8,178.5 811.9,178.2 814,178.3 816,178.4 818.1,178.5 820.2,177.7 822.3,178.4 824.4,178.2 826.5,178.2 828.5,177.9 830.6,178.3 832.7,178 834.8,178.1 836.9,177.7 838.9,178.3 841,178 843.1,177.9 845.2,177.5 847.3,177.8 849.3,177.9 851.4,177.7 853.5,178 855.6,178.1 857.7,177.8 859.7,177.4 861.8,177.6 863.9,177.9 866,177.6 868.1,177.4 870.2,177.8 872.2,177.6 874.3,177.7 876.4,177.8 878.5,177.7 880.6,177.8 882.6,177.7 884.7,177.9 886.8,177.6 888.9,177.8 891,177.3 893,177.4 895.1,177.8 897.2,177.2 899.3,177.6 901.4,177.4 903.5,177.3 905.5,177.5 907.6,177.5 909.7,177.4 911.8,177.6 913.9,177 915.9,177.6 918,177 920.1,177.4 922.2,177.4 924.3,177.3 926.3,177.5 928.4,177.4 930.5,177.2 932.6,177.2 934.7,176.8 936.7,176.7 938.8,177.4 940.9,177 943,177.3 945.1,176.8 947.2,177.1 949.2,176.7 951.3,176.9 953.4,177.2 955.5,177.3 957.6,177.1 959.6,176.6 961.7,177.1 963.8,176.9 965.9,176.9 968,176.9 970,176.6 972.1,177 974.2,176.6 976.3,176.6 978.4,176.4 980.4,176.7 982.5,176.4 984.6,176.7 986.7,176.6 988.8,176.5 990.9,176.4 992.9,176.3 995,176.9 997.1,176.8 999.2,176.5 1001.3,176.3 1003.3,176.5 1005.4,176.6 1007.5,176.1" fill="none" stroke="#10208a" stroke-width="4.0" stroke-linejoin="round" stroke-linecap="round"/>
<polyline points="593.4,258.2 595.5,256.6 597.5,256.2 599.6,255.8 601.7,255.4 603.8,255.4 605.9,255.7 607.9,255.3 610,255.3 612.1,255.1 614.2,255.6 616.3,255.6 618.4,255.2 620.4,255.3 622.5,255.5 624.6,255.2 626.7,255.4 628.8,255.1 630.8,255.6 632.9,255.5 635,255 637.1,255.4 639.2,255.5 641.2,255.1 643.3,255.2 645.4,255.5 647.5,255.2 649.6,255.1 651.6,255.5 653.7,255.1 655.8,255.5 657.9,255.4 660,255.5 662.1,255.4 664.1,254.9 666.2,255.3 668.3,254.8 670.4,255.2 672.5,255.1 674.5,254.9 676.6,255 678.7,255.5 680.8,255.1 682.9,255.1 684.9,255.4 687,255.4 689.1,254.9 691.2,255.1 693.3,255.3 695.4,255.1 697.4,255.3 699.5,254.9 701.6,255.1 703.7,255.4 705.8,254.8 707.8,255.4 709.9,255.2 712,255.4 714.1,254.9 716.2,255.3 718.2,255 720.3,255.3 722.4,255 724.5,254.9 726.6,255 728.6,255 730.7,255 732.8,255 734.9,254.9 737,255.3 739.1,255 741.1,255.2 743.2,254.7 745.3,254.6 747.4,255.3 749.5,255.2 751.5,254.8 753.6,254.9 755.7,255.3 757.8,254.7 759.9,254 761.9,253.9 764,256.1 766.1,255.9 768.2,255.7 770.3,256.2 772.3,256.1 774.4,256.2 776.5,255.9 778.6,256 780.7,256.2 782.8,256.1 784.8,256.4 786.9,256.2 789,255.7 791.1,256 793.2,256.2 795.2,255.7 797.3,256.2 799.4,256.3 801.5,256.4 803.6,256.3 805.6,256.3 807.7,256.3 809.8,255.8 811.9,256.3 814,256.3 816,256 818.1,255.8 820.2,256.3 822.3,255.9 824.4,256.2 826.5,256.1 828.5,256.1 830.6,255.8 832.7,256 834.8,256.2 836.9,255.9 838.9,256.3 841,256.3 843.1,255.8 845.2,256.2 847.3,256 849.3,256.4 851.4,255.9 853.5,256.1 855.6,256.4 857.7,255.9 859.7,256.3 861.8,256.4 863.9,256.4 866,256.6 868.1,256.5 870.2,256.1 872.2,256.5 874.3,256.5 876.4,256.3 878.5,256.3 880.6,257.2 882.6,252.5 884.7,252.9 886.8,252.8 888.9,252.8 891,253 893,253 895.1,253 897.2,252.6 899.3,253 901.4,252.6 903.5,253 905.5,252.7 907.6,252.6 909.7,252.9 911.8,252.4 913.9,252.7 915.9,252.7 918,253.1 920.1,252.8 922.2,253 924.3,252.8 926.3,252.5 928.4,252.5 930.5,253.1 932.6,252.7 934.7,252.5 936.7,252.8 938.8,253.1 940.9,252.5 943,252.9 945.1,252.4 947.2,252.5 949.2,252.6 951.3,252.5 953.4,253.1 955.5,252.6 957.6,253 959.6,253.1 961.7,252.9 963.8,252.7 965.9,253.2 968,252.9 970,252.6 972.1,252.8 974.2,252.8 976.3,253 978.4,252.5 980.4,253 982.5,252.7 984.6,252.7 986.7,253.2 988.8,252.5 990.9,253 992.9,252.5 995,252.5 997.1,252.5 999.2,252.6 1001.3,252.9 1003.3,252.9 1005.4,253 1007.5,252.5" fill="none" stroke="#8844ee" stroke-width="4.0" stroke-linejoin="round" stroke-linecap="round"/>
<polyline points="593.4,335.9 595.5,333 597.5,332.2 599.6,331.3 601.7,331.3 603.8,331.3 605.9,330.9 607.9,331.7 610,331.1 612.1,331.6 614.2,330.9 616.3,331.7 618.4,330.9 620.4,331.1 622.5,330.9 624.6,330.8 626.7,331.5 628.8,331.4 630.8,331.1 632.9,331.4 635,331.4 637.1,331.5 639.2,330.9 641.2,330.9 643.3,330.9 645.4,331.4 647.5,330.8 649.6,331.2 651.6,331.4 653.7,331.2 655.8,331.2 657.9,331.5 660,331.1 662.1,331.3 664.1,331.1 666.2,330.8 668.3,331 670.4,331.2 672.5,330.8 674.5,330.7 676.6,331.1 678.7,330.7 680.8,331.5 682.9,331.4 684.9,331.4 687,330.7 689.1,330.9 691.2,330.9 693.3,328 695.4,327.9 697.4,327.5 699.5,328.2 701.6,328.2 703.7,328.2 705.8,327.8 707.8,327.5 709.9,327.8 712,327.9 714.1,327.8 716.2,328.1 718.2,327.4 720.3,327.9 722.4,328 724.5,327.9 726.6,327.5 728.6,327.9 730.7,327.4 732.8,327.9 734.9,327.8 737,328.1 739.1,327.4 741.1,327.5 743.2,327.7 745.3,328 747.4,327.7 749.5,327.8 751.5,327.4 753.6,327.3 755.7,327.5 757.8,327.8 759.9,328 761.9,327.3 764,329 766.1,331.2 768.2,330.2 770.3,330.3 772.3,328.9 774.4,331.5 776.5,331.5 778.6,329.3 780.7,330 782.8,330.3 784.8,329.5 786.9,330 789,329.7 791.1,330.9 793.2,331.4 795.2,331.6 797.3,330.7 799.4,329.8 801.5,330.6 803.6,330.7 805.6,329.9 807.7,329.7 809.8,330 811.9,330.8 814,329.3 816,329.4 818.1,329.1 820.2,329.1 822.3,331.6 824.4,329.8 826.5,330.7 828.5,330.5 830.6,330.2 832.7,331.2 834.8,330.9 836.9,328.9 838.9,330.7 841,329.1 843.1,329.7 845.2,330.7 847.3,330.7 849.3,329.9 851.4,329.7 853.5,330.7 855.6,331.5 857.7,331.1 859.7,329.2 861.8,329.6 863.9,331.3 866,329.3 868.1,330 870.2,330.7 872.2,329.1 874.3,330.4 876.4,330.4 878.5,330 880.6,329.6 882.6,329.6 884.7,329.7 886.8,329.3 888.9,329.8 891,329.4 893,330.1 895.1,329.4 897.2,330 899.3,329.6 901.4,329.4 903.5,329.6 905.5,329.6 907.6,329.6 909.7,329.5 911.8,329.8 913.9,329.9 915.9,329.6 918,329.7 920.1,330 922.2,329.7 924.3,329.7 926.3,330 928.4,329.5 930.5,329.4 932.6,329.8 934.7,329.4 936.7,329.3 938.8,329.5 940.9,329.8 943,329.9 945.1,330 947.2,329.9 949.2,329.3 951.3,330.1 953.4,329.3 955.5,329.5 957.6,329.4 959.6,330 961.7,329.6 963.8,329.9 965.9,329.5 968,329.4 970,329.5 972.1,329.7 974.2,329.4 976.3,329.9 978.4,330 980.4,329.4 982.5,330.1 984.6,329.8 986.7,329.8 988.8,329.4 990.9,329.8 992.9,329.6 995,329.7 997.1,329.7 999.2,329.7 1001.3,329.7 1003.3,329.6 1005.4,329.7 1007.5,329.8" fill="none" stroke="#ee1a1a" stroke-width="4.0" stroke-linejoin="round" stroke-linecap="round"/>
<text x="903" y="68.7" font-family="&apos;Liberation Sans&apos;, sans-serif" font-weight="bold" font-size="14.5" stroke="#000" stroke-width="0.3">1.0 mAh cm<tspan dy="-7" font-size="9.5">-2</tspan></text>
<text x="903" y="144" font-family="&apos;Liberation Sans&apos;, sans-serif" font-weight="bold" font-size="14.5" stroke="#000" stroke-width="0.3">2.0 mAh cm<tspan dy="-7" font-size="9.5">-2</tspan></text>
<text x="903" y="219.3" font-family="&apos;Liberation Sans&apos;, sans-serif" font-weight="bold" font-size="14.5" stroke="#000" stroke-width="0.3">3.0 mAh cm<tspan dy="-7" font-size="9.5">-2</tspan></text>
<text x="903" y="294.6" font-family="&apos;Liberation Sans&apos;, sans-serif" font-weight="bold" font-size="14.5" stroke="#000" stroke-width="0.3">5.0 mAh cm<tspan dy="-7" font-size="9.5">-2</tspan></text>
<text x="903" y="366.7" font-family="&apos;Liberation Sans&apos;, sans-serif" font-weight="bold" font-size="14.5" stroke="#000" stroke-width="0.3">10.0 mAh cm<tspan dy="-7" font-size="9.5">-2</tspan></text>
<circle cx="968.7" cy="181.7" r="2.4" fill="#10208a"/>
<circle cx="593.7" cy="45.9" r="2.6" fill="#ee33ee"/>
<text transform="translate(20.1,336.8) rotate(-90)" font-family="&apos;Liberation Sans&apos;, sans-serif" font-weight="bold" font-size="23" stroke="#000" stroke-width="0.45" textLength="274" lengthAdjust="spacingAndGlyphs">Coulombic efficiency (%)</text>
<text transform="translate(545.4,336.8) rotate(-90)" font-family="&apos;Liberation Sans&apos;, sans-serif" font-weight="bold" font-size="23" stroke="#000" stroke-width="0.45" textLength="274" lengthAdjust="spacingAndGlyphs">Coulombic efficiency (%)</text>
<text x="183.2" y="424.4" font-family="&apos;Liberation Sans&apos;, sans-serif" font-weight="bold" font-size="23" stroke="#000" stroke-width="0.45" textLength="179" lengthAdjust="spacingAndGlyphs">Cycle number (n)</text>
<text x="705.9" y="424.4" font-family="&apos;Liberation Sans&apos;, sans-serif" font-weight="bold" font-size="23" stroke="#000" stroke-width="0.45" textLength="179" lengthAdjust="spacingAndGlyphs">Cycle number (n)</text>
<defs>
<filter id="soft" x="-2%" y="-2%" width="104%" height="104%"><feGaussianBlur stdDeviation="0.6"/></filter>
<filter id="noise4" x="0" y="0" width="1" height="1" color-interpolation-filters="sRGB">
 <feTurbulence type="fractalNoise" baseFrequency="0.16" numOctaves="2" seed="3" result="t"/>
 <feColorMatrix in="t" type="matrix" values="0 0 0 0 0  0 0 0 0 0  0 0 0 0 0  1.8 0 0 0 -1.12" result="dk"/>
 <feComposite in="dk" in2="SourceGraphic" operator="in"/>
</filter>
<filter id="noise4b" x="0" y="0" width="1" height="1" color-interpolation-filters="sRGB">
 <feTurbulence type="fractalNoise" baseFrequency="0.09" numOctaves="3" seed="9" result="t"/>
 <feColorMatrix in="t" type="matrix" values="0 0 0 0 1  0 0 0 0 1  0 0 0 0 1  0 1.0 0 0 -0.56"/>
 <feComposite in2="SourceGraphic" operator="in"/>
</filter>
<filter id="fine4" x="0" y="0" width="1" height="1" color-interpolation-filters="sRGB">
 <feTurbulence type="fractalNoise" baseFrequency="0.45" numOctaves="2" seed="21" result="t"/>
 <feColorMatrix in="t" type="matrix" values="1 0 0 0 0  1 0 0 0 0  1 0 0 0 0  0 0 0 0 1" result="g"/>
 <feComposite in="g" in2="SourceGraphic" operator="in"/>
</filter>
<clipPath id="c0"><rect x="57.5" y="446" width="229.7" height="229"/></clipPath>
<clipPath id="c1"><rect x="298.1" y="446" width="229.7" height="229"/></clipPath>
<clipPath id="c2"><rect x="539" y="446" width="229.2" height="229"/></clipPath>
<clipPath id="c3"><rect x="780.2" y="446" width="229.8" height="229"/></clipPath>
</defs>
<g clip-path="url(#c0)"><g filter="url(#soft)"><rect x="57.5" y="446" width="229.7" height="229" fill="#585858"/><g stroke="#cdcdcd" stroke-width="1.2" stroke-opacity="0.9" stroke-linejoin="round"><path d="M171 588L166 578L172 570L183 571L190 582L183 589Z" fill="#2e2e2e" fill-opacity="0.55" stroke="none"/><path d="M170 587L165 577L171 569L182 570L189 580L181 587Z" fill="#7f7f7f"/><path d="M118 623L102 616L105 597L126 594L132 610Z" fill="#2e2e2e" fill-opacity="0.55" stroke="none"/><path d="M116 622L100 614L104 596L125 592L130 608Z" fill="#808080"/><path d="M202 652L203 638L215 637L223 646L221 657L209 660Z" fill="#2e2e2e" fill-opacity="0.55" stroke="none"/><path d="M201 650L202 636L214 635L222 644L220 656L207 658Z" fill="#727272"/><path d="M183 479L175 467L183 455L195 449L207 459L208 473L196 483Z" fill="#2e2e2e" fill-opacity="0.55" stroke="none"/><path d="M182 477L174 465L182 453L194 447L206 458L207 471L195 482Z" fill="#797979"/><path d="M96 491L90 474L97 460L112 461L121 471L119 486L109 494Z" fill="#2e2e2e" fill-opacity="0.55" stroke="none"/><path d="M95 489L89 472L96 459L110 460L120 469L118 484L108 492Z" fill="#7a7a7a"/><path d="M119 473L101 482L103 486L121 477Z" fill="#2e2e2e" fill-opacity="0.55" stroke="none"/><path d="M118 471L100 481L102 485L120 475Z" fill="#a4a4a4"/><path d="M131 555L122 544L123 532L136 525L147 534L145 547Z" fill="#2e2e2e" fill-opacity="0.55" stroke="none"/><path d="M129 553L121 542L122 531L135 524L146 532L143 545Z" fill="#767676"/><path d="M95 554L83 563L68 553L68 536L81 529L95 537Z" fill="#2e2e2e" fill-opacity="0.55" stroke="none"/><path d="M94 553L82 561L67 551L67 534L80 528L94 535Z" fill="#767676"/><path d="M181 666L174 645L196 632L213 648L204 666Z" fill="#2e2e2e" fill-opacity="0.55" stroke="none"/><path d="M180 664L173 643L195 631L212 646L202 664Z" fill="#858585"/><path d="M212 678L189 686L171 672L178 655L198 647L215 658Z" fill="#2e2e2e" fill-opacity="0.55" stroke="none"/><path d="M210 677L188 685L170 671L177 653L197 646L214 656Z" fill="#797979"/><path d="M187 521L192 504L205 500L217 509L220 526L201 535Z" fill="#2e2e2e" fill-opacity="0.55" stroke="none"/><path d="M185 520L190 503L203 498L216 507L219 525L199 533Z" fill="#7f7f7f"/><path d="M109 534L115 519L134 514L142 529L140 546L122 547Z" fill="#2e2e2e" fill-opacity="0.55" stroke="none"/><path d="M108 532L114 517L133 513L141 527L139 545L121 545Z" fill="#7c7c7c"/><path d="M252 623L240 634L227 624L229 608L244 606Z" fill="#2e2e2e" fill-opacity="0.55" stroke="none"/><path d="M251 621L239 632L226 622L228 607L243 605Z" fill="#868686"/><path d="M167 563L146 559L149 536L167 528L177 547Z" fill="#2e2e2e" fill-opacity="0.55" stroke="none"/><path d="M166 561L144 558L147 535L166 527L176 545Z" fill="#838383"/><path d="M122 502L126 490L137 490L148 497L142 510L128 514Z" fill="#2e2e2e" fill-opacity="0.55" stroke="none"/><path d="M121 501L124 489L136 488L147 495L141 509L127 512Z" fill="#848484"/><path d="M137 524L121 535L103 525L102 503L119 496L133 503Z" fill="#2e2e2e" fill-opacity="0.55" stroke="none"/><path d="M136 522L120 533L102 523L101 502L118 494L131 501Z" fill="#868686"/><path d="M124 659L116 677L100 684L85 670L83 651L98 638L118 644Z" fill="#2e2e2e" fill-opacity="0.55" stroke="none"/><path d="M123 657L115 676L98 683L84 669L82 650L97 636L117 643Z" fill="#7f7f7f"/><path d="M42 617L43 604L58 603L65 611L61 624L48 626Z" fill="#2e2e2e" fill-opacity="0.55" stroke="none"/><path d="M41 616L42 602L56 601L64 609L60 623L46 624Z" fill="#848484"/><path d="M64 603L62 585L82 581L97 592L94 611L77 614Z" fill="#2e2e2e" fill-opacity="0.55" stroke="none"/><path d="M63 601L61 584L81 579L96 591L93 610L75 612Z" fill="#858585"/><path d="M159 684L143 678L138 657L155 645L169 654L173 675Z" fill="#2e2e2e" fill-opacity="0.55" stroke="none"/><path d="M157 682L141 676L137 656L154 643L168 653L172 673Z" fill="#838383"/><path d="M262 457L271 442L293 443L304 457L296 475L275 475Z" fill="#2e2e2e" fill-opacity="0.55" stroke="none"/><path d="M261 455L269 441L292 441L303 456L294 473L274 474Z" fill="#7d7d7d"/><path d="M58 672L47 673L42 661L51 652L62 652L67 662Z" fill="#2e2e2e" fill-opacity="0.55" stroke="none"/><path d="M57 670L46 671L41 659L50 651L61 651L66 660Z" fill="#797979"/><path d="M228 555L214 565L201 556L205 541L225 541Z" fill="#2e2e2e" fill-opacity="0.55" stroke="none"/><path d="M227 553L213 563L200 554L204 539L223 539Z" fill="#737373"/><path d="M162 541L164 529L178 526L185 534L183 548L171 549Z" fill="#2e2e2e" fill-opacity="0.55" stroke="none"/><path d="M161 539L162 527L177 524L184 533L182 547L170 547Z" fill="#727272"/><path d="M241 669L225 658L231 636L247 629L264 637L264 660Z" fill="#2e2e2e" fill-opacity="0.55" stroke="none"/><path d="M239 668L224 656L230 635L246 627L263 636L262 659Z" fill="#818181"/><path d="M310 497L299 504L289 502L289 490L296 481L306 486Z" fill="#2e2e2e" fill-opacity="0.55" stroke="none"/><path d="M309 495L298 503L288 501L287 488L295 479L305 484Z" fill="#878787"/><path d="M208 697L190 690L190 670L209 663L225 684Z" fill="#2e2e2e" fill-opacity="0.55" stroke="none"/><path d="M207 696L188 689L188 668L208 661L224 682Z" fill="#858585"/><path d="M135 532L128 520L133 511L148 511L152 521L147 531Z" fill="#2e2e2e" fill-opacity="0.55" stroke="none"/><path d="M134 530L127 519L132 509L146 509L151 520L145 529Z" fill="#737373"/><path d="M218 548L218 529L231 515L250 524L254 543L239 556Z" fill="#2e2e2e" fill-opacity="0.55" stroke="none"/><path d="M217 546L217 527L230 513L248 522L253 541L238 555Z" fill="#7c7c7c"/><path d="M183 653L184 638L198 631L211 638L212 652L197 657Z" fill="#2e2e2e" fill-opacity="0.55" stroke="none"/><path d="M182 651L183 637L197 630L210 637L211 651L195 656Z" fill="#747474"/><path d="M44 521L46 500L56 490L72 495L80 511L75 522L56 531Z" fill="#2e2e2e" fill-opacity="0.55" stroke="none"/><path d="M43 519L45 498L55 488L71 493L79 510L74 521L55 530Z" fill="#858585"/><path d="M204 592L182 587L181 563L205 556L219 574Z" fill="#2e2e2e" fill-opacity="0.55" stroke="none"/><path d="M203 591L181 585L179 561L204 554L217 573Z" fill="#777777"/><path d="M117 624L117 612L128 609L138 616L137 627L125 632Z" fill="#2e2e2e" fill-opacity="0.55" stroke="none"/><path d="M116 623L116 611L127 608L137 614L136 625L124 630Z" fill="#7b7b7b"/><path d="M148 587L137 582L138 570L145 563L158 568L157 581Z" fill="#2e2e2e" fill-opacity="0.55" stroke="none"/><path d="M147 585L136 581L137 569L144 561L157 566L156 580Z" fill="#7a7a7a"/><path d="M178 606L165 609L155 599L158 584L174 582L182 592Z" fill="#2e2e2e" fill-opacity="0.55" stroke="none"/><path d="M177 604L164 607L154 597L157 582L172 580L181 590Z" fill="#7a7a7a"/><path d="M165 528L145 525L136 512L145 497L164 495L172 510Z" fill="#2e2e2e" fill-opacity="0.55" stroke="none"/><path d="M164 526L143 524L135 510L144 495L163 493L170 508Z" fill="#7b7b7b"/><path d="M162 688L167 667L192 665L199 685L191 699L175 701Z" fill="#2e2e2e" fill-opacity="0.55" stroke="none"/><path d="M160 686L166 666L191 663L198 684L190 698L173 699Z" fill="#828282"/><path d="M230 564L217 554L215 536L232 528L245 536L245 556Z" fill="#2e2e2e" fill-opacity="0.55" stroke="none"/><path d="M229 563L216 552L214 535L231 526L243 534L244 554Z" fill="#808080"/><path d="M124 581L129 565L145 561L157 574L153 588L138 594Z" fill="#2e2e2e" fill-opacity="0.55" stroke="none"/><path d="M122 579L127 563L144 559L156 572L152 587L137 592Z" fill="#747474"/><path d="M208 689L199 693L187 691L186 677L194 669L207 668L213 677Z" fill="#2e2e2e" fill-opacity="0.55" stroke="none"/><path d="M207 688L198 692L186 689L185 676L193 667L205 667L212 675Z" fill="#818181"/><path d="M278 566L272 551L273 533L295 530L303 545L300 561Z" fill="#2e2e2e" fill-opacity="0.55" stroke="none"/><path d="M277 564L271 549L272 532L294 529L302 544L299 560Z" fill="#828282"/><path d="M120 664L113 648L119 636L134 634L139 650L133 661Z" fill="#2e2e2e" fill-opacity="0.55" stroke="none"/><path d="M119 663L112 646L117 634L132 633L138 648L132 659Z" fill="#878787"/><path d="M205 482L203 466L216 458L229 467L229 482L217 487Z" fill="#2e2e2e" fill-opacity="0.55" stroke="none"/><path d="M204 480L202 465L215 456L228 465L228 480L216 486Z" fill="#767676"/><path d="M181 560L161 570L150 563L146 543L160 536L175 544Z" fill="#2e2e2e" fill-opacity="0.55" stroke="none"/><path d="M180 559L160 568L149 562L145 542L159 534L173 542Z" fill="#848484"/><path d="M76 548L59 555L42 545L43 530L59 519L74 528Z" fill="#2e2e2e" fill-opacity="0.55" stroke="none"/><path d="M74 546L58 553L41 544L42 528L58 517L72 527Z" fill="#858585"/><path d="M265 667L249 673L231 662L235 641L249 630L264 645Z" fill="#2e2e2e" fill-opacity="0.55" stroke="none"/><path d="M264 666L248 672L230 660L234 639L248 629L263 643Z" fill="#787878"/><path d="M313 666L302 672L287 667L291 654L302 646L313 654Z" fill="#2e2e2e" fill-opacity="0.55" stroke="none"/><path d="M311 665L301 670L286 665L290 653L301 644L312 653Z" fill="#787878"/><path d="M272 621L260 622L256 612L261 601L271 601L278 612Z" fill="#2e2e2e" fill-opacity="0.55" stroke="none"/><path d="M271 620L258 620L255 610L260 599L270 599L277 610Z" fill="#818181"/><path d="M79 484L81 470L94 465L104 472L104 485L92 493Z" fill="#2e2e2e" fill-opacity="0.55" stroke="none"/><path d="M78 483L80 468L93 464L103 470L102 483L91 492Z" fill="#737373"/><path d="M148 579L121 579L113 561L122 541L146 542L157 564Z" fill="#2e2e2e" fill-opacity="0.55" stroke="none"/><path d="M147 578L120 578L111 559L121 539L145 541L156 562Z" fill="#7c7c7c"/><path d="M183 466L164 457L164 435L180 427L199 441L201 457Z" fill="#2e2e2e" fill-opacity="0.55" stroke="none"/><path d="M181 465L163 455L162 434L179 425L198 439L200 455Z" fill="#737373"/><path d="M81 678L79 664L90 656L100 658L107 669L103 680L92 683Z" fill="#2e2e2e" fill-opacity="0.55" stroke="none"/><path d="M79 676L78 662L89 654L99 656L106 667L102 678L90 681Z" fill="#777777"/><path d="M92 574L84 564L87 552L98 548L112 552L113 564L105 574Z" fill="#2e2e2e" fill-opacity="0.55" stroke="none"/><path d="M91 572L82 562L86 551L97 546L111 550L112 563L104 572Z" fill="#727272"/><path d="M273 484L272 460L292 453L309 469L299 487Z" fill="#2e2e2e" fill-opacity="0.55" stroke="none"/><path d="M271 483L271 459L290 451L308 467L297 486Z" fill="#7b7b7b"/><path d="M49 465L45 455L54 447L66 451L68 463L61 471Z" fill="#2e2e2e" fill-opacity="0.55" stroke="none"/><path d="M48 463L44 453L53 446L65 449L67 461L60 469Z" fill="#7d7d7d"/><path d="M103 551L106 529L123 521L137 538L138 555L120 562Z" fill="#2e2e2e" fill-opacity="0.55" stroke="none"/><path d="M102 550L105 528L121 519L136 536L137 553L118 560Z" fill="#787878"/><path d="M252 670L238 663L244 648L260 646L264 660Z" fill="#2e2e2e" fill-opacity="0.55" stroke="none"/><path d="M251 668L237 662L242 647L259 644L263 659Z" fill="#7f7f7f"/><path d="M40 454L33 441L40 422L60 424L71 443L58 457Z" fill="#2e2e2e" fill-opacity="0.55" stroke="none"/><path d="M38 453L32 439L39 420L59 422L69 441L57 456Z" fill="#828282"/><path d="M184 569L192 556L206 553L214 567L205 577L194 579Z" fill="#2e2e2e" fill-opacity="0.55" stroke="none"/><path d="M183 567L191 555L205 551L213 565L204 575L193 578Z" fill="#858585"/><path d="M239 644L229 634L234 621L249 619L255 630L249 642Z" fill="#2e2e2e" fill-opacity="0.55" stroke="none"/><path d="M238 643L228 632L233 620L248 618L254 629L248 640Z" fill="#828282"/><path d="M209 662L200 658L201 646L208 640L218 642L221 650L217 660Z" fill="#2e2e2e" fill-opacity="0.55" stroke="none"/><path d="M207 661L199 656L200 644L206 638L217 641L220 648L216 658Z" fill="#858585"/><path d="M60 592L59 574L69 564L85 561L91 576L90 589L76 597Z" fill="#2e2e2e" fill-opacity="0.55" stroke="none"/><path d="M59 590L58 572L67 562L84 560L89 574L88 588L75 596Z" fill="#797979"/><path d="M255 494L243 496L232 488L231 476L246 470L256 479Z" fill="#2e2e2e" fill-opacity="0.55" stroke="none"/><path d="M254 493L242 495L231 487L230 474L244 469L255 478Z" fill="#7e7e7e"/><path d="M156 532L143 521L147 503L163 496L180 508L176 527Z" fill="#2e2e2e" fill-opacity="0.55" stroke="none"/><path d="M155 531L141 519L146 501L162 495L179 506L174 526Z" fill="#7b7b7b"/><path d="M250 594L241 601L229 595L232 583L240 578L251 584Z" fill="#2e2e2e" fill-opacity="0.55" stroke="none"/><path d="M248 593L240 600L228 593L230 581L239 577L250 582Z" fill="#808080"/><path d="M32 459L31 437L46 429L65 440L66 457L47 469Z" fill="#2e2e2e" fill-opacity="0.55" stroke="none"/><path d="M30 457L30 435L45 427L64 439L65 455L46 467Z" fill="#828282"/><path d="M189 532L173 522L177 502L193 493L213 504L209 528Z" fill="#2e2e2e" fill-opacity="0.55" stroke="none"/><path d="M188 531L172 520L176 500L192 492L212 503L208 526Z" fill="#757575"/><path d="M107 514L95 526L77 517L74 502L83 487L99 487L112 499Z" fill="#2e2e2e" fill-opacity="0.55" stroke="none"/><path d="M106 513L94 525L76 516L72 501L82 486L98 486L111 497Z" fill="#878787"/><path d="M159 607L147 602L151 588L164 579L173 590L173 604Z" fill="#2e2e2e" fill-opacity="0.55" stroke="none"/><path d="M157 606L146 601L149 587L163 577L171 588L172 603Z" fill="#737373"/><path d="M284 560L269 570L254 561L252 546L260 530L277 528L288 543Z" fill="#2e2e2e" fill-opacity="0.55" stroke="none"/><path d="M283 558L268 568L253 559L251 545L259 529L276 526L287 541Z" fill="#828282"/><path d="M109 522L98 522L92 514L99 505L109 505L113 513Z" fill="#2e2e2e" fill-opacity="0.55" stroke="none"/><path d="M108 521L97 521L91 512L98 503L108 504L112 511Z" fill="#777777"/><path d="M167 645L179 632L194 637L194 652L177 657Z" fill="#2e2e2e" fill-opacity="0.55" stroke="none"/><path d="M166 644L178 631L193 636L193 651L176 656Z" fill="#7d7d7d"/><path d="M249 567L236 576L225 569L221 558L234 549L246 553Z" fill="#2e2e2e" fill-opacity="0.55" stroke="none"/><path d="M247 565L235 574L224 568L220 556L232 547L245 551Z" fill="#737373"/><path d="M203 664L187 657L185 639L202 630L220 637L217 657Z" fill="#2e2e2e" fill-opacity="0.55" stroke="none"/><path d="M201 663L186 655L184 637L200 628L218 635L215 655Z" fill="#808080"/><path d="M289 615L269 618L262 600L265 584L288 582L297 600Z" fill="#2e2e2e" fill-opacity="0.55" stroke="none"/><path d="M288 614L268 616L260 599L264 582L287 581L296 598Z" fill="#858585"/><path d="M309 674L291 683L275 668L281 644L299 642L315 654Z" fill="#2e2e2e" fill-opacity="0.55" stroke="none"/><path d="M308 672L290 681L274 667L280 643L298 641L314 652Z" fill="#747474"/><path d="M193 707L184 693L190 674L211 668L225 684L215 706Z" fill="#2e2e2e" fill-opacity="0.55" stroke="none"/><path d="M192 705L183 691L189 672L210 667L223 682L214 704Z" fill="#7e7e7e"/><path d="M142 685L130 678L127 665L138 657L150 662L155 675Z" fill="#2e2e2e" fill-opacity="0.55" stroke="none"/><path d="M141 683L129 676L126 664L137 655L148 660L154 674Z" fill="#7e7e7e"/><path d="M271 637L267 619L283 604L299 615L294 634Z" fill="#2e2e2e" fill-opacity="0.55" stroke="none"/><path d="M270 635L266 618L282 602L298 613L293 632Z" fill="#7d7d7d"/><path d="M235 642L225 630L232 615L245 617L254 626L249 643Z" fill="#2e2e2e" fill-opacity="0.55" stroke="none"/><path d="M234 641L224 628L231 614L244 615L253 624L248 641Z" fill="#848484"/><path d="M117 638L93 632L100 607L120 606L131 626Z" fill="#2e2e2e" fill-opacity="0.55" stroke="none"/><path d="M116 636L92 630L99 606L119 604L130 624Z" fill="#808080"/><path d="M66 464L51 465L44 454L48 440L64 436L74 449Z" fill="#2e2e2e" fill-opacity="0.55" stroke="none"/><path d="M65 462L50 464L43 452L47 438L62 434L72 448Z" fill="#7e7e7e"/><path d="M237 653L228 639L238 626L254 630L263 646L253 659Z" fill="#2e2e2e" fill-opacity="0.55" stroke="none"/><path d="M236 652L227 638L237 624L253 628L262 644L251 658Z" fill="#828282"/><path d="M233 679L236 669L245 668L254 674L253 683L245 689L237 690Z" fill="#2e2e2e" fill-opacity="0.55" stroke="none"/><path d="M232 678L234 667L243 666L252 672L252 682L244 688L236 688Z" fill="#757575"/><path d="M241 509L243 492L261 482L274 495L275 511L256 519Z" fill="#2e2e2e" fill-opacity="0.55" stroke="none"/><path d="M240 507L242 490L260 480L273 493L274 510L255 517Z" fill="#797979"/><path d="M114 698L93 696L86 678L100 665L120 675Z" fill="#2e2e2e" fill-opacity="0.55" stroke="none"/><path d="M113 697L92 695L85 676L98 664L119 673Z" fill="#7d7d7d"/><path d="M278 552L260 551L248 538L258 518L276 520L286 533Z" fill="#2e2e2e" fill-opacity="0.55" stroke="none"/><path d="M277 551L259 550L247 536L256 517L275 519L285 531Z" fill="#7a7a7a"/><path d="M95 446L80 459L64 451L61 432L75 421L90 428Z" fill="#2e2e2e" fill-opacity="0.55" stroke="none"/><path d="M94 444L79 457L63 449L60 431L74 419L89 426Z" fill="#838383"/><path d="M131 439L126 450L112 450L105 437L116 427L129 427Z" fill="#2e2e2e" fill-opacity="0.55" stroke="none"/><path d="M130 437L125 448L111 448L103 435L115 425L128 426Z" fill="#787878"/><path d="M53 529L39 517L48 499L66 501L70 522Z" fill="#2e2e2e" fill-opacity="0.55" stroke="none"/><path d="M52 527L38 515L47 497L65 499L68 520Z" fill="#828282"/><path d="M158 515L152 498L160 480L180 483L190 505L176 518Z" fill="#2e2e2e" fill-opacity="0.55" stroke="none"/><path d="M157 513L151 496L159 479L179 481L189 503L174 516Z" fill="#878787"/><path d="M307 696L286 697L276 680L284 665L302 663L313 681Z" fill="#2e2e2e" fill-opacity="0.55" stroke="none"/><path d="M306 695L284 695L275 678L283 663L301 662L312 679Z" fill="#7d7d7d"/><path d="M285 670L293 683L298 680L289 667Z" fill="#2e2e2e" fill-opacity="0.55" stroke="none"/><path d="M284 668L292 681L296 678L288 666Z" fill="#aaaaaa"/><path d="M211 515L216 498L234 494L246 508L242 522L225 529Z" fill="#2e2e2e" fill-opacity="0.55" stroke="none"/><path d="M210 513L215 497L233 492L245 506L240 520L224 527Z" fill="#7e7e7e"/><path d="M225 500L218 518L221 519L228 501Z" fill="#2e2e2e" fill-opacity="0.55" stroke="none"/><path d="M224 498L217 516L220 517L227 499Z" fill="#9d9d9d"/><path d="M131 525L132 517L140 508L149 510L154 521L151 529L140 530Z" fill="#2e2e2e" fill-opacity="0.55" stroke="none"/><path d="M130 523L130 515L138 506L148 508L153 519L149 528L139 528Z" fill="#7d7d7d"/><path d="M86 566L81 557L86 544L97 543L103 555L99 566Z" fill="#2e2e2e" fill-opacity="0.55" stroke="none"/><path d="M85 565L80 555L84 543L96 541L102 553L98 564Z" fill="#787878"/><path d="M165 500L160 492L167 480L178 482L183 491L177 502Z" fill="#2e2e2e" fill-opacity="0.55" stroke="none"/><path d="M164 499L158 491L166 478L176 480L181 489L176 500Z" fill="#818181"/><path d="M51 535L42 529L39 520L48 511L57 514L66 521L64 532Z" fill="#2e2e2e" fill-opacity="0.55" stroke="none"/><path d="M50 533L41 528L38 518L47 509L56 512L65 519L63 531Z" fill="#797979"/><path d="M65 449L74 435L90 434L95 452L79 462Z" fill="#2e2e2e" fill-opacity="0.55" stroke="none"/><path d="M64 447L73 433L89 433L93 451L78 461Z" fill="#838383"/><path d="M79 434L91 462L96 459L84 432Z" fill="#2e2e2e" fill-opacity="0.55" stroke="none"/><path d="M78 432L89 460L94 458L83 430Z" fill="#a7a7a7"/><path d="M70 550L48 554L38 537L45 520L67 521L76 536Z" fill="#2e2e2e" fill-opacity="0.55" stroke="none"/><path d="M69 548L47 553L37 536L44 518L65 520L75 534Z" fill="#858585"/><path d="M155 628L136 629L130 615L142 602L155 600L162 616Z" fill="#2e2e2e" fill-opacity="0.55" stroke="none"/><path d="M154 626L135 627L129 614L141 601L154 599L161 615Z" fill="#7d7d7d"/><path d="M255 666L241 667L232 654L239 636L256 639L263 651Z" fill="#2e2e2e" fill-opacity="0.55" stroke="none"/><path d="M254 664L240 665L231 652L238 635L255 637L262 649Z" fill="#808080"/><path d="M47 593L33 586L35 570L46 561L59 571L58 586Z" fill="#2e2e2e" fill-opacity="0.55" stroke="none"/><path d="M45 591L32 584L34 568L44 559L58 570L57 584Z" fill="#808080"/><path d="M293 470L281 474L273 466L274 455L286 452L296 456Z" fill="#2e2e2e" fill-opacity="0.55" stroke="none"/><path d="M292 468L280 473L272 465L273 453L285 450L294 454Z" fill="#727272"/><path d="M60 570L51 563L53 552L63 546L75 555L69 568Z" fill="#2e2e2e" fill-opacity="0.55" stroke="none"/><path d="M59 569L50 562L52 550L62 544L74 554L68 566Z" fill="#737373"/><path d="M141 595L134 589L130 580L137 573L145 572L153 581L151 591Z" fill="#2e2e2e" fill-opacity="0.55" stroke="none"/><path d="M140 593L132 588L128 578L136 571L144 571L152 579L150 590Z" fill="#878787"/><path d="M163 691L156 682L158 670L168 669L178 676L176 686Z" fill="#2e2e2e" fill-opacity="0.55" stroke="none"/><path d="M162 689L154 680L156 668L166 668L176 674L175 685Z" fill="#828282"/><path d="M116 546L106 539L101 526L115 518L129 522L128 538Z" fill="#2e2e2e" fill-opacity="0.55" stroke="none"/><path d="M115 545L105 537L100 525L113 517L128 520L127 536Z" fill="#7b7b7b"/><path d="M88 676L74 670L71 655L76 642L96 641L107 655L102 672Z" fill="#2e2e2e" fill-opacity="0.55" stroke="none"/><path d="M86 675L73 669L70 653L75 640L95 639L106 653L101 670Z" fill="#868686"/><path d="M98 527L94 512L105 505L117 509L123 519L111 532Z" fill="#2e2e2e" fill-opacity="0.55" stroke="none"/><path d="M97 526L93 511L104 503L116 508L121 518L110 531Z" fill="#858585"/><path d="M189 625L191 611L210 605L221 616L217 636L200 638Z" fill="#2e2e2e" fill-opacity="0.55" stroke="none"/><path d="M188 624L190 609L209 603L220 615L215 634L199 636Z" fill="#787878"/><path d="M53 459L55 448L71 442L83 449L82 462L75 473L61 472Z" fill="#2e2e2e" fill-opacity="0.55" stroke="none"/><path d="M52 458L54 447L69 440L81 447L81 460L73 471L60 470Z" fill="#878787"/><path d="M60 654L66 636L83 633L90 646L87 659L72 665Z" fill="#2e2e2e" fill-opacity="0.55" stroke="none"/><path d="M59 652L64 635L82 632L89 644L86 658L70 664Z" fill="#747474"/><path d="M71 651L62 642L65 631L76 627L87 635L84 647Z" fill="#2e2e2e" fill-opacity="0.55" stroke="none"/><path d="M70 649L61 641L64 629L74 625L86 633L83 645Z" fill="#757575"/><path d="M103 446L88 461L68 450L73 428L94 426Z" fill="#2e2e2e" fill-opacity="0.55" stroke="none"/><path d="M102 445L87 459L67 448L72 426L93 425Z" fill="#767676"/><path d="M69 594L53 594L46 579L54 566L68 563L78 580Z" fill="#2e2e2e" fill-opacity="0.55" stroke="none"/><path d="M68 593L52 593L45 577L53 565L67 561L77 578Z" fill="#737373"/><path d="M164 560L150 557L148 544L160 536L172 546Z" fill="#2e2e2e" fill-opacity="0.55" stroke="none"/><path d="M163 558L149 555L147 542L158 535L170 544Z" fill="#878787"/><path d="M84 613L75 620L63 614L62 602L75 594L84 600Z" fill="#2e2e2e" fill-opacity="0.55" stroke="none"/><path d="M83 612L74 618L62 612L61 600L74 593L83 599Z" fill="#7f7f7f"/><path d="M104 469L93 457L100 445L115 436L130 446L128 463L120 470Z" fill="#2e2e2e" fill-opacity="0.55" stroke="none"/><path d="M102 467L92 456L99 444L114 434L128 444L126 461L119 469Z" fill="#7c7c7c"/><path d="M209 455L208 438L230 431L243 450L227 466Z" fill="#2e2e2e" fill-opacity="0.55" stroke="none"/><path d="M208 454L206 436L229 430L241 449L225 465Z" fill="#767676"/><path d="M153 569L141 566L135 552L144 541L155 544L164 556Z" fill="#2e2e2e" fill-opacity="0.55" stroke="none"/><path d="M152 567L140 564L133 551L142 539L154 543L162 555Z" fill="#747474"/><path d="M252 487L243 501L227 495L220 481L231 464L244 470Z" fill="#2e2e2e" fill-opacity="0.55" stroke="none"/><path d="M250 486L242 499L226 493L219 479L230 463L243 469Z" fill="#868686"/><path d="M173 668L163 674L153 669L152 657L163 648L175 654Z" fill="#2e2e2e" fill-opacity="0.55" stroke="none"/><path d="M172 666L162 672L151 667L151 655L162 646L173 653Z" fill="#838383"/><path d="M77 550L62 543L59 528L72 516L84 525L87 539Z" fill="#2e2e2e" fill-opacity="0.55" stroke="none"/><path d="M76 549L61 541L58 527L71 514L83 523L86 538Z" fill="#737373"/><path d="M212 553L199 547L193 533L201 522L216 520L225 531L226 547Z" fill="#2e2e2e" fill-opacity="0.55" stroke="none"/><path d="M210 551L198 545L192 532L200 521L215 519L223 529L225 545Z" fill="#7f7f7f"/><path d="M218 692L202 696L190 685L193 673L206 669L221 677Z" fill="#2e2e2e" fill-opacity="0.55" stroke="none"/><path d="M217 690L201 694L189 684L192 671L205 667L220 675Z" fill="#777777"/><path d="M117 593L102 586L103 569L118 564L124 578Z" fill="#2e2e2e" fill-opacity="0.55" stroke="none"/><path d="M116 592L101 584L102 568L117 563L123 576Z" fill="#797979"/><path d="M123 570L100 570L100 575L123 575Z" fill="#2e2e2e" fill-opacity="0.55" stroke="none"/><path d="M122 568L98 569L98 574L122 573Z" fill="#959595"/><path d="M118 481L126 461L143 454L159 467L153 490L133 493Z" fill="#2e2e2e" fill-opacity="0.55" stroke="none"/><path d="M116 479L125 460L141 453L158 466L152 488L132 491Z" fill="#727272"/><path d="M153 606L141 592L146 575L162 573L174 585L171 600Z" fill="#2e2e2e" fill-opacity="0.55" stroke="none"/><path d="M152 605L140 590L145 573L161 571L173 583L170 599Z" fill="#838383"/><path d="M236 534L225 539L211 530L208 516L220 505L235 506L243 517Z" fill="#2e2e2e" fill-opacity="0.55" stroke="none"/><path d="M234 533L224 537L210 528L207 514L219 504L233 504L242 516Z" fill="#767676"/><path d="M183 593L187 581L199 578L211 586L205 599L193 602Z" fill="#2e2e2e" fill-opacity="0.55" stroke="none"/><path d="M182 591L186 579L197 577L210 585L204 598L192 600Z" fill="#808080"/><path d="M46 573L53 561L68 559L76 573L68 584L52 583Z" fill="#2e2e2e" fill-opacity="0.55" stroke="none"/><path d="M44 572L52 559L67 557L75 572L67 583L50 582Z" fill="#808080"/><path d="M222 443L226 430L240 421L259 428L263 443L253 457L233 458Z" fill="#2e2e2e" fill-opacity="0.55" stroke="none"/><path d="M221 441L225 428L239 420L258 426L262 441L252 455L231 456Z" fill="#858585"/><path d="M37 656L37 640L52 634L64 641L63 655L50 664Z" fill="#2e2e2e" fill-opacity="0.55" stroke="none"/><path d="M36 654L36 639L51 632L63 639L62 653L49 662Z" fill="#747474"/><path d="M189 496L179 481L179 462L195 456L213 465L208 485Z" fill="#2e2e2e" fill-opacity="0.55" stroke="none"/><path d="M188 495L177 480L178 460L194 454L212 464L207 483Z" fill="#848484"/><path d="M228 512L212 502L215 488L230 478L242 488L243 503Z" fill="#2e2e2e" fill-opacity="0.55" stroke="none"/><path d="M227 510L211 500L214 486L229 477L241 487L242 501Z" fill="#7e7e7e"/><path d="M88 566L86 548L103 539L115 552L107 568Z" fill="#2e2e2e" fill-opacity="0.55" stroke="none"/><path d="M87 564L85 547L102 537L114 551L105 566Z" fill="#878787"/><path d="M104 537L89 555L92 558L108 540Z" fill="#2e2e2e" fill-opacity="0.55" stroke="none"/><path d="M103 536L88 554L91 557L107 539Z" fill="#929292"/><path d="M267 612L256 609L253 598L266 590L273 600Z" fill="#2e2e2e" fill-opacity="0.55" stroke="none"/><path d="M266 610L255 608L252 596L265 589L272 598Z" fill="#767676"/><path d="M296 443L280 457L263 453L257 435L269 424L288 428Z" fill="#2e2e2e" fill-opacity="0.55" stroke="none"/><path d="M295 442L279 455L262 451L256 434L268 423L286 426Z" fill="#7e7e7e"/><path d="M193 585L183 580L181 569L188 561L197 565L201 575Z" fill="#2e2e2e" fill-opacity="0.55" stroke="none"/><path d="M192 583L182 578L180 567L186 559L196 563L199 574Z" fill="#7d7d7d"/><path d="M229 471L227 451L237 439L253 441L260 457L247 470Z" fill="#2e2e2e" fill-opacity="0.55" stroke="none"/><path d="M228 469L225 449L235 438L252 439L259 455L245 469Z" fill="#848484"/><path d="M190 544L178 550L165 544L166 529L179 522L189 529Z" fill="#2e2e2e" fill-opacity="0.55" stroke="none"/><path d="M189 542L177 548L164 542L165 528L178 520L188 527Z" fill="#868686"/><path d="M156 675L137 667L137 650L154 643L168 657Z" fill="#2e2e2e" fill-opacity="0.55" stroke="none"/><path d="M155 674L136 666L136 648L153 641L167 656Z" fill="#787878"/><path d="M267 661L256 652L259 637L274 631L283 640L282 656Z" fill="#2e2e2e" fill-opacity="0.55" stroke="none"/><path d="M266 660L254 650L258 636L273 629L282 639L281 654Z" fill="#858585"/><path d="M284 693L285 677L298 673L308 682L307 697L293 700Z" fill="#2e2e2e" fill-opacity="0.55" stroke="none"/><path d="M282 692L284 675L297 671L307 680L306 695L292 698Z" fill="#7d7d7d"/><path d="M207 527L194 512L201 496L219 503L221 519Z" fill="#2e2e2e" fill-opacity="0.55" stroke="none"/><path d="M205 526L192 510L200 495L218 501L220 517Z" fill="#838383"/><path d="M97 624L86 623L79 616L82 607L89 604L98 606L102 615Z" fill="#2e2e2e" fill-opacity="0.55" stroke="none"/><path d="M96 622L85 621L78 615L81 606L88 602L97 605L101 614Z" fill="#7b7b7b"/><path d="M228 608L215 607L207 601L208 583L221 581L235 583L238 596Z" fill="#2e2e2e" fill-opacity="0.55" stroke="none"/><path d="M227 606L214 605L205 600L207 582L220 579L234 582L237 595Z" fill="#727272"/><path d="M204 606L194 604L187 593L195 581L209 586L213 597Z" fill="#2e2e2e" fill-opacity="0.55" stroke="none"/><path d="M203 605L193 603L186 591L194 580L207 585L212 595Z" fill="#848484"/><path d="M149 655L144 639L158 630L175 630L179 646L175 661L161 662Z" fill="#2e2e2e" fill-opacity="0.55" stroke="none"/><path d="M147 653L143 637L157 628L174 629L178 644L174 660L160 661Z" fill="#848484"/><path d="M148 636L157 658L162 655L153 634Z" fill="#2e2e2e" fill-opacity="0.55" stroke="none"/><path d="M147 634L156 656L161 654L152 632Z" fill="#a0a0a0"/><path d="M249 607L243 595L252 583L264 584L273 595L263 608Z" fill="#2e2e2e" fill-opacity="0.55" stroke="none"/><path d="M247 605L242 593L251 582L263 582L272 594L261 606Z" fill="#878787"/><path d="M208 521L195 528L183 521L182 502L193 494L208 494L213 509Z" fill="#2e2e2e" fill-opacity="0.55" stroke="none"/><path d="M207 520L194 527L182 519L181 501L192 493L207 493L212 507Z" fill="#7f7f7f"/><path d="M156 698L148 684L157 668L172 669L182 684L173 700Z" fill="#2e2e2e" fill-opacity="0.55" stroke="none"/><path d="M155 697L147 683L156 666L171 668L181 682L172 698Z" fill="#757575"/><path d="M266 630L254 632L245 624L247 615L257 608L268 609L271 621Z" fill="#2e2e2e" fill-opacity="0.55" stroke="none"/><path d="M264 628L252 630L244 622L246 614L255 606L267 608L270 619Z" fill="#7c7c7c"/><path d="M72 698L58 694L50 687L49 670L62 667L76 669L78 683Z" fill="#2e2e2e" fill-opacity="0.55" stroke="none"/><path d="M71 696L57 692L49 686L48 669L61 665L75 667L77 682Z" fill="#787878"/><path d="M204 604L211 584L228 586L239 602L231 615L213 620Z" fill="#2e2e2e" fill-opacity="0.55" stroke="none"/><path d="M202 603L210 583L227 584L238 601L230 613L212 619Z" fill="#7e7e7e"/><path d="M299 687L289 691L282 685L280 677L285 668L297 670L302 677Z" fill="#2e2e2e" fill-opacity="0.55" stroke="none"/><path d="M298 685L288 689L280 683L279 676L284 667L295 668L301 676Z" fill="#7b7b7b"/><path d="M205 620L209 608L220 607L228 617L222 628L209 629Z" fill="#2e2e2e" fill-opacity="0.55" stroke="none"/><path d="M204 618L208 606L219 605L227 616L220 627L208 628Z" fill="#777777"/><path d="M95 545L82 555L64 545L60 529L75 519L91 525Z" fill="#2e2e2e" fill-opacity="0.55" stroke="none"/><path d="M94 543L81 554L62 543L59 527L74 518L90 524Z" fill="#797979"/><path d="M275 619L272 594L293 586L306 603L299 626Z" fill="#2e2e2e" fill-opacity="0.55" stroke="none"/><path d="M274 617L271 592L292 585L305 601L297 624Z" fill="#808080"/><path d="M194 569L180 565L173 556L180 546L191 539L203 551L201 563Z" fill="#2e2e2e" fill-opacity="0.55" stroke="none"/><path d="M193 568L179 564L172 555L178 545L190 538L202 549L200 561Z" fill="#727272"/><path d="M272 562L268 549L270 538L284 538L291 547L288 558Z" fill="#2e2e2e" fill-opacity="0.55" stroke="none"/><path d="M271 560L267 548L268 537L283 537L289 545L286 556Z" fill="#868686"/><path d="M74 458L55 457L51 442L57 428L72 428L80 443Z" fill="#2e2e2e" fill-opacity="0.55" stroke="none"/><path d="M72 456L54 455L49 440L56 427L71 427L79 441Z" fill="#747474"/><path d="M51 446L73 452L75 447L52 441Z" fill="#2e2e2e" fill-opacity="0.55" stroke="none"/><path d="M49 445L72 451L74 445L51 439Z" fill="#a8a8a8"/><path d="M275 494L272 482L281 472L296 476L296 489L288 499Z" fill="#2e2e2e" fill-opacity="0.55" stroke="none"/><path d="M273 492L271 480L280 470L295 475L295 488L287 498Z" fill="#7b7b7b"/><path d="M139 620L122 615L120 600L131 591L146 595L145 610Z" fill="#2e2e2e" fill-opacity="0.55" stroke="none"/><path d="M137 618L121 613L119 598L130 590L145 593L144 608Z" fill="#838383"/><path d="M175 579L174 557L192 550L209 557L211 578L191 586Z" fill="#2e2e2e" fill-opacity="0.55" stroke="none"/><path d="M174 577L173 556L191 548L208 556L209 576L190 584Z" fill="#7f7f7f"/><path d="M199 459L184 471L168 463L166 448L177 437L192 444Z" fill="#2e2e2e" fill-opacity="0.55" stroke="none"/><path d="M198 457L183 470L166 461L165 447L175 435L191 442Z" fill="#7a7a7a"/><path d="M211 657L193 658L182 643L197 629L214 637Z" fill="#2e2e2e" fill-opacity="0.55" stroke="none"/><path d="M210 655L192 656L181 641L196 628L213 636Z" fill="#787878"/><path d="M114 559L100 556L98 543L108 534L120 538L122 550Z" fill="#2e2e2e" fill-opacity="0.55" stroke="none"/><path d="M113 557L99 555L97 541L107 533L119 537L121 549Z" fill="#7a7a7a"/><path d="M179 655L164 649L162 633L177 624L191 633L192 646Z" fill="#2e2e2e" fill-opacity="0.55" stroke="none"/><path d="M178 653L163 648L161 631L176 622L190 632L191 645Z" fill="#838383"/><path d="M269 566L259 577L240 580L231 558L245 547L263 548Z" fill="#2e2e2e" fill-opacity="0.55" stroke="none"/><path d="M267 564L257 576L239 578L230 556L243 545L262 546Z" fill="#7a7a7a"/><path d="M253 560L260 575L265 573L258 558Z" fill="#2e2e2e" fill-opacity="0.55" stroke="none"/><path d="M252 558L259 573L264 571L257 556Z" fill="#979797"/><path d="M126 524L117 505L136 489L156 495L157 518L146 529Z" fill="#2e2e2e" fill-opacity="0.55" stroke="none"/><path d="M124 522L116 503L135 488L155 493L156 516L145 528Z" fill="#787878"/><path d="M202 634L207 616L229 606L239 622L235 644L214 649Z" fill="#2e2e2e" fill-opacity="0.55" stroke="none"/><path d="M201 632L206 615L228 605L237 621L234 642L213 648Z" fill="#767676"/><path d="M265 666L269 645L285 636L302 642L302 663L287 677Z" fill="#2e2e2e" fill-opacity="0.55" stroke="none"/><path d="M264 665L268 644L283 634L301 640L300 661L286 675Z" fill="#7b7b7b"/><path d="M126 608L136 591L155 586L163 600L156 616L139 618Z" fill="#2e2e2e" fill-opacity="0.55" stroke="none"/><path d="M125 606L135 589L154 584L162 598L155 614L138 616Z" fill="#7b7b7b"/><path d="M272 630L255 623L247 603L261 590L283 595L289 613Z" fill="#2e2e2e" fill-opacity="0.55" stroke="none"/><path d="M271 628L254 622L246 602L260 589L282 594L287 611Z" fill="#838383"/><path d="M167 688L155 676L156 664L170 656L181 666L177 680Z" fill="#2e2e2e" fill-opacity="0.55" stroke="none"/><path d="M166 686L154 675L155 662L169 655L179 664L176 679Z" fill="#767676"/><path d="M240 567L228 570L220 561L223 548L236 547L243 556Z" fill="#2e2e2e" fill-opacity="0.55" stroke="none"/><path d="M238 566L227 568L219 560L222 547L235 546L241 554Z" fill="#7e7e7e"/><path d="M230 545L232 561L235 561L233 545Z" fill="#2e2e2e" fill-opacity="0.55" stroke="none"/><path d="M229 544L230 560L233 559L232 543Z" fill="#8c8c8c"/><path d="M97 507L77 516L65 500L69 480L88 480L100 489Z" fill="#2e2e2e" fill-opacity="0.55" stroke="none"/><path d="M96 506L75 515L64 499L68 478L87 478L99 488Z" fill="#818181"/><path d="M200 454L187 463L175 450L185 437L202 439Z" fill="#2e2e2e" fill-opacity="0.55" stroke="none"/><path d="M199 453L185 462L174 448L184 435L200 437Z" fill="#7e7e7e"/><path d="M81 594L79 582L91 577L104 583L102 595L93 602Z" fill="#2e2e2e" fill-opacity="0.55" stroke="none"/><path d="M80 592L78 581L89 575L102 581L101 593L92 600Z" fill="#7c7c7c"/><path d="M117 606L125 595L135 593L143 602L139 616L125 616Z" fill="#2e2e2e" fill-opacity="0.55" stroke="none"/><path d="M116 604L123 593L134 591L142 600L138 614L123 614Z" fill="#7d7d7d"/><path d="M251 691L256 674L270 670L280 681L276 696L263 702Z" fill="#2e2e2e" fill-opacity="0.55" stroke="none"/><path d="M249 690L254 673L269 669L279 679L275 694L262 701Z" fill="#797979"/><path d="M127 567L121 556L126 540L143 538L156 548L155 562L144 572Z" fill="#2e2e2e" fill-opacity="0.55" stroke="none"/><path d="M126 565L120 554L125 538L142 537L155 546L154 561L143 571Z" fill="#7f7f7f"/><path d="M76 472L61 470L58 454L70 447L79 457Z" fill="#2e2e2e" fill-opacity="0.55" stroke="none"/><path d="M75 470L60 468L56 453L68 446L78 455Z" fill="#838383"/><path d="M171 627L162 632L151 627L147 618L156 610L167 609L171 616Z" fill="#2e2e2e" fill-opacity="0.55" stroke="none"/><path d="M170 625L160 630L150 625L146 616L155 608L165 608L170 615Z" fill="#838383"/><path d="M145 690L124 683L127 667L146 661L158 677Z" fill="#2e2e2e" fill-opacity="0.55" stroke="none"/><path d="M144 689L123 682L126 666L145 660L157 675Z" fill="#777777"/><path d="M106 556L103 538L120 529L137 539L137 554L121 566Z" fill="#2e2e2e" fill-opacity="0.55" stroke="none"/><path d="M104 554L102 537L119 527L136 537L135 553L120 564Z" fill="#7c7c7c"/><path d="M191 483L180 497L157 493L151 478L156 463L172 458L187 467Z" fill="#2e2e2e" fill-opacity="0.55" stroke="none"/><path d="M190 482L178 495L156 491L150 477L155 461L171 456L186 466Z" fill="#7e7e7e"/><path d="M203 595L190 588L192 572L207 566L218 579L214 591Z" fill="#2e2e2e" fill-opacity="0.55" stroke="none"/><path d="M202 594L189 586L191 570L206 565L217 577L213 589Z" fill="#7c7c7c"/><path d="M249 611L235 619L222 615L219 598L228 587L244 596Z" fill="#2e2e2e" fill-opacity="0.55" stroke="none"/><path d="M248 610L234 618L221 613L218 596L227 585L243 594Z" fill="#838383"/><path d="M69 679L61 687L49 686L46 677L47 665L60 661L69 666Z" fill="#2e2e2e" fill-opacity="0.55" stroke="none"/><path d="M68 678L60 685L48 684L44 675L46 664L58 659L68 665Z" fill="#7c7c7c"/><path d="M128 604L129 589L140 583L152 592L151 608L136 613Z" fill="#2e2e2e" fill-opacity="0.55" stroke="none"/><path d="M126 602L128 587L139 581L151 590L150 607L135 612Z" fill="#7d7d7d"/><path d="M296 696L279 701L264 690L258 676L269 661L290 663L298 679Z" fill="#2e2e2e" fill-opacity="0.55" stroke="none"/><path d="M295 695L278 699L263 689L256 674L268 659L289 662L297 678Z" fill="#767676"/><path d="M249 529L239 541L227 536L224 523L233 515L248 517Z" fill="#2e2e2e" fill-opacity="0.55" stroke="none"/><path d="M248 528L238 540L226 535L223 521L232 513L246 516Z" fill="#868686"/><path d="M303 597L289 592L283 585L289 573L301 571L309 577L308 589Z" fill="#2e2e2e" fill-opacity="0.55" stroke="none"/><path d="M302 595L288 591L282 583L288 572L300 569L308 575L307 587Z" fill="#737373"/><path d="M231 610L230 597L242 589L257 595L256 610L246 615Z" fill="#2e2e2e" fill-opacity="0.55" stroke="none"/><path d="M230 608L229 595L241 587L256 593L255 608L245 613Z" fill="#828282"/><path d="M149 540L130 545L115 536L118 517L133 511L152 522Z" fill="#2e2e2e" fill-opacity="0.55" stroke="none"/><path d="M148 538L129 543L114 534L117 515L131 509L151 520Z" fill="#7c7c7c"/><path d="M244 659L238 647L246 634L261 636L267 650L255 665Z" fill="#2e2e2e" fill-opacity="0.55" stroke="none"/><path d="M243 657L237 645L245 632L260 634L266 649L254 663Z" fill="#777777"/><path d="M250 632L245 659L251 660L256 633Z" fill="#2e2e2e" fill-opacity="0.55" stroke="none"/><path d="M249 630L244 657L250 658L254 631Z" fill="#a3a3a3"/><path d="M223 673L224 660L235 651L247 658L244 671L232 678Z" fill="#2e2e2e" fill-opacity="0.55" stroke="none"/><path d="M222 671L223 658L234 649L246 656L243 669L231 676Z" fill="#7c7c7c"/><path d="M94 471L83 480L69 471L68 453L82 449L96 456Z" fill="#2e2e2e" fill-opacity="0.55" stroke="none"/><path d="M93 469L82 478L68 469L67 452L81 448L95 455Z" fill="#878787"/><path d="M262 471L248 475L235 468L239 455L254 447L263 456Z" fill="#2e2e2e" fill-opacity="0.55" stroke="none"/><path d="M261 470L247 473L234 467L238 454L252 445L262 454Z" fill="#848484"/><path d="M96 594L80 588L78 567L97 555L113 565L113 587Z" fill="#2e2e2e" fill-opacity="0.55" stroke="none"/><path d="M95 593L78 586L76 566L96 553L111 563L112 586Z" fill="#868686"/><path d="M80 507L71 498L77 485L88 482L98 491L94 504Z" fill="#2e2e2e" fill-opacity="0.55" stroke="none"/><path d="M79 505L70 497L76 483L87 481L96 489L92 502Z" fill="#848484"/><path d="M155 681L139 669L142 649L159 641L177 654L171 671Z" fill="#2e2e2e" fill-opacity="0.55" stroke="none"/><path d="M154 679L138 668L141 647L158 639L176 653L170 669Z" fill="#818181"/><path d="M302 484L283 489L270 470L283 455L300 455L309 469Z" fill="#2e2e2e" fill-opacity="0.55" stroke="none"/><path d="M301 482L282 488L269 469L282 454L299 454L308 468Z" fill="#7e7e7e"/><path d="M319 506L311 523L286 521L280 504L290 487L309 488Z" fill="#2e2e2e" fill-opacity="0.55" stroke="none"/><path d="M318 504L309 521L285 519L279 503L288 486L308 487Z" fill="#747474"/><path d="M102 635L88 620L94 597L115 598L128 609L122 632Z" fill="#2e2e2e" fill-opacity="0.55" stroke="none"/><path d="M101 634L87 618L93 595L114 596L127 607L120 630Z" fill="#868686"/><path d="M53 455L52 443L62 436L71 439L76 450L72 459L60 460Z" fill="#2e2e2e" fill-opacity="0.55" stroke="none"/><path d="M52 453L51 441L61 435L70 438L75 448L71 458L59 459Z" fill="#747474"/><path d="M153 492L143 480L148 461L167 464L170 480Z" fill="#2e2e2e" fill-opacity="0.55" stroke="none"/><path d="M152 490L142 478L146 460L166 462L168 478Z" fill="#787878"/><path d="M80 445L72 453L61 450L59 439L66 431L77 432Z" fill="#2e2e2e" fill-opacity="0.55" stroke="none"/><path d="M79 443L71 451L60 448L58 438L65 430L76 430Z" fill="#7a7a7a"/><path d="M138 564L130 579L113 577L108 564L116 551L130 553Z" fill="#2e2e2e" fill-opacity="0.55" stroke="none"/><path d="M136 563L129 578L112 576L106 562L115 549L128 551Z" fill="#767676"/><path d="M248 508L238 504L237 491L244 484L257 490L258 500Z" fill="#2e2e2e" fill-opacity="0.55" stroke="none"/><path d="M246 507L237 503L236 490L242 483L256 489L257 499Z" fill="#7a7a7a"/><path d="M210 509L209 488L223 482L238 490L239 506L227 514Z" fill="#2e2e2e" fill-opacity="0.55" stroke="none"/><path d="M209 508L208 487L222 480L236 488L238 504L226 512Z" fill="#757575"/><path d="M120 457L115 441L130 430L147 434L150 452L135 464Z" fill="#2e2e2e" fill-opacity="0.55" stroke="none"/><path d="M119 456L114 439L129 429L146 432L149 451L133 463Z" fill="#7e7e7e"/><path d="M176 585L160 581L155 568L164 553L180 558L187 574Z" fill="#2e2e2e" fill-opacity="0.55" stroke="none"/><path d="M174 583L159 579L153 566L162 552L179 557L186 572Z" fill="#7c7c7c"/><path d="M179 559L157 569L160 574L182 564Z" fill="#2e2e2e" fill-opacity="0.55" stroke="none"/><path d="M178 557L156 567L158 572L180 562Z" fill="#a8a8a8"/><path d="M71 680L61 687L47 683L46 670L51 658L65 656L75 669Z" fill="#2e2e2e" fill-opacity="0.55" stroke="none"/><path d="M70 679L60 685L46 682L45 668L49 656L64 655L74 668Z" fill="#868686"/><path d="M103 467L99 453L110 437L128 438L134 453L134 467L118 473Z" fill="#2e2e2e" fill-opacity="0.55" stroke="none"/><path d="M102 466L98 451L109 435L127 436L133 451L133 466L117 471Z" fill="#777777"/><path d="M230 562L216 566L201 555L207 541L224 538L235 548Z" fill="#2e2e2e" fill-opacity="0.55" stroke="none"/><path d="M229 560L215 564L200 553L206 540L223 536L234 546Z" fill="#7b7b7b"/><path d="M260 471L248 481L239 474L235 462L248 456L259 459Z" fill="#2e2e2e" fill-opacity="0.55" stroke="none"/><path d="M258 470L247 480L238 473L234 460L246 454L258 457Z" fill="#747474"/><path d="M136 684L135 663L152 652L172 659L173 681L156 690Z" fill="#2e2e2e" fill-opacity="0.55" stroke="none"/><path d="M135 683L134 662L151 650L170 657L172 680L155 689Z" fill="#818181"/><path d="M63 548L61 560L47 564L37 552L38 539L47 535L61 534Z" fill="#2e2e2e" fill-opacity="0.55" stroke="none"/><path d="M62 547L60 559L45 562L36 550L37 538L46 533L60 533Z" fill="#7f7f7f"/><path d="M145 656L137 665L122 662L116 653L122 642L131 636L145 644Z" fill="#2e2e2e" fill-opacity="0.55" stroke="none"/><path d="M144 654L136 663L121 660L114 652L120 640L130 634L144 642Z" fill="#858585"/><path d="M137 507L127 497L129 484L140 478L149 488L147 502Z" fill="#2e2e2e" fill-opacity="0.55" stroke="none"/><path d="M136 506L126 495L127 482L139 476L148 486L146 500Z" fill="#777777"/><path d="M139 491L131 506L135 508L143 493Z" fill="#2e2e2e" fill-opacity="0.55" stroke="none"/><path d="M138 489L130 505L134 507L141 491Z" fill="#8d8d8d"/><path d="M136 622L130 631L121 630L115 621L122 612L131 611Z" fill="#2e2e2e" fill-opacity="0.55" stroke="none"/><path d="M135 620L129 629L120 629L114 620L120 610L130 609Z" fill="#767676"/><path d="M252 533L244 527L245 514L257 513L263 518L264 529Z" fill="#2e2e2e" fill-opacity="0.55" stroke="none"/><path d="M251 531L243 526L243 513L255 511L262 517L263 528Z" fill="#858585"/><path d="M214 635L204 633L201 624L206 615L213 614L223 619L222 631Z" fill="#2e2e2e" fill-opacity="0.55" stroke="none"/><path d="M212 633L203 631L200 623L204 613L212 613L222 618L221 629Z" fill="#7b7b7b"/><path d="M271 515L267 499L280 489L294 493L299 508L287 522Z" fill="#2e2e2e" fill-opacity="0.55" stroke="none"/><path d="M270 514L266 498L278 488L293 492L298 507L285 520Z" fill="#7d7d7d"/><path d="M113 621L107 632L94 632L84 623L89 610L102 606L111 611Z" fill="#2e2e2e" fill-opacity="0.55" stroke="none"/><path d="M112 620L106 630L92 630L83 621L87 608L101 605L110 609Z" fill="#767676"/><path d="M271 693L257 686L256 671L267 661L282 661L286 673L282 685Z" fill="#2e2e2e" fill-opacity="0.55" stroke="none"/><path d="M270 691L256 684L255 669L266 659L280 659L285 672L281 683Z" fill="#878787"/><path d="M58 687L58 672L72 661L89 666L95 680L86 695L72 702Z" fill="#2e2e2e" fill-opacity="0.55" stroke="none"/><path d="M57 685L57 670L71 659L88 664L94 678L85 694L70 700Z" fill="#777777"/><path d="M212 653L196 665L182 651L184 633L200 622L217 633Z" fill="#2e2e2e" fill-opacity="0.55" stroke="none"/><path d="M211 651L195 663L181 649L183 632L199 620L216 631Z" fill="#858585"/><path d="M131 488L123 479L126 464L141 461L151 469L146 484Z" fill="#2e2e2e" fill-opacity="0.55" stroke="none"/><path d="M130 487L122 478L124 462L140 459L150 468L145 482Z" fill="#858585"/><path d="M147 464L130 487L134 490L150 467Z" fill="#2e2e2e" fill-opacity="0.55" stroke="none"/><path d="M145 462L129 486L133 488L149 465Z" fill="#a1a1a1"/><path d="M149 649L155 638L165 637L172 647L166 656L156 659Z" fill="#2e2e2e" fill-opacity="0.55" stroke="none"/><path d="M148 647L153 636L163 635L171 645L165 654L155 657Z" fill="#777777"/><path d="M271 571L265 554L280 547L290 556L287 572Z" fill="#2e2e2e" fill-opacity="0.55" stroke="none"/><path d="M270 570L264 552L279 546L289 554L285 570Z" fill="#757575"/><path d="M141 658L147 642L159 631L178 637L179 655L173 670L154 672Z" fill="#2e2e2e" fill-opacity="0.55" stroke="none"/><path d="M140 657L146 640L157 629L177 636L178 654L172 668L153 670Z" fill="#7b7b7b"/><path d="M161 570L168 550L188 551L202 566L192 580L172 587Z" fill="#2e2e2e" fill-opacity="0.55" stroke="none"/><path d="M160 568L167 549L187 549L200 564L191 579L171 585Z" fill="#7b7b7b"/><path d="M226 544L208 544L202 530L210 520L226 517L231 531Z" fill="#2e2e2e" fill-opacity="0.55" stroke="none"/><path d="M225 542L207 542L201 528L209 519L225 515L230 530Z" fill="#858585"/><path d="M266 686L256 666L277 652L297 668L286 687Z" fill="#2e2e2e" fill-opacity="0.55" stroke="none"/><path d="M264 684L255 664L276 651L295 667L285 685Z" fill="#838383"/><path d="M96 551L91 536L103 516L119 523L127 538L117 551Z" fill="#2e2e2e" fill-opacity="0.55" stroke="none"/><path d="M95 550L89 534L102 515L118 521L126 536L115 549Z" fill="#808080"/><path d="M177 685L176 669L192 663L202 670L203 684L192 692Z" fill="#2e2e2e" fill-opacity="0.55" stroke="none"/><path d="M176 684L175 667L191 662L200 668L202 682L191 690Z" fill="#747474"/><path d="M201 669L195 683L183 684L170 672L172 658L182 648L195 654Z" fill="#2e2e2e" fill-opacity="0.55" stroke="none"/><path d="M200 667L194 682L182 682L168 670L170 657L181 647L193 653Z" fill="#848484"/><path d="M120 474L108 474L105 464L110 453L120 455L125 466Z" fill="#2e2e2e" fill-opacity="0.55" stroke="none"/><path d="M118 472L107 472L104 463L109 452L119 454L124 464Z" fill="#787878"/><path d="M119 462L117 444L135 438L149 448L148 461L134 472Z" fill="#2e2e2e" fill-opacity="0.55" stroke="none"/><path d="M117 461L116 443L133 436L148 446L147 460L133 470Z" fill="#7c7c7c"/><path d="M121 664L106 668L91 656L94 640L112 638L126 647Z" fill="#2e2e2e" fill-opacity="0.55" stroke="none"/><path d="M120 662L105 666L90 655L93 638L111 636L124 645Z" fill="#808080"/><path d="M317 642L310 658L291 661L281 649L283 632L294 623L311 626Z" fill="#2e2e2e" fill-opacity="0.55" stroke="none"/><path d="M316 640L309 657L290 659L280 647L282 631L293 621L310 624Z" fill="#737373"/><path d="M165 452L164 431L182 422L195 437L183 455Z" fill="#2e2e2e" fill-opacity="0.55" stroke="none"/><path d="M164 450L162 430L181 421L194 435L182 454Z" fill="#737373"/><path d="M148 666L139 651L146 632L162 633L173 646L166 664Z" fill="#2e2e2e" fill-opacity="0.55" stroke="none"/><path d="M147 664L138 650L145 630L161 632L172 644L165 662Z" fill="#7d7d7d"/><path d="M198 599L187 598L183 588L187 580L198 580L204 589Z" fill="#2e2e2e" fill-opacity="0.55" stroke="none"/><path d="M197 597L185 597L182 586L186 578L197 578L203 588Z" fill="#828282"/><path d="M125 695L126 680L138 670L154 676L157 690L142 699Z" fill="#2e2e2e" fill-opacity="0.55" stroke="none"/><path d="M124 694L125 678L137 668L153 674L156 689L141 698Z" fill="#7d7d7d"/><path d="M299 683L288 680L283 671L287 661L297 657L306 662L308 675Z" fill="#2e2e2e" fill-opacity="0.55" stroke="none"/><path d="M297 682L287 678L282 670L285 659L296 656L304 660L307 673Z" fill="#828282"/><path d="M297 588L290 580L291 567L303 568L311 575L307 587Z" fill="#2e2e2e" fill-opacity="0.55" stroke="none"/><path d="M296 587L289 578L290 565L301 566L310 573L305 585Z" fill="#727272"/><path d="M188 554L187 535L201 521L225 530L226 551L209 563Z" fill="#2e2e2e" fill-opacity="0.55" stroke="none"/><path d="M187 553L185 533L200 520L223 528L225 550L208 561Z" fill="#848484"/><path d="M229 447L218 451L209 443L213 429L223 428L231 438Z" fill="#2e2e2e" fill-opacity="0.55" stroke="none"/><path d="M227 446L217 449L208 441L211 428L222 426L230 436Z" fill="#727272"/><path d="M135 670L137 650L153 649L165 664L150 679Z" fill="#2e2e2e" fill-opacity="0.55" stroke="none"/><path d="M134 669L136 648L152 648L164 662L148 677Z" fill="#757575"/><path d="M247 549L235 549L229 538L236 525L249 525L256 537Z" fill="#2e2e2e" fill-opacity="0.55" stroke="none"/><path d="M246 547L234 547L228 536L235 524L248 523L254 535Z" fill="#858585"/><path d="M158 642L148 629L153 615L168 609L179 624L170 637Z" fill="#2e2e2e" fill-opacity="0.55" stroke="none"/><path d="M157 640L146 627L152 613L167 608L178 623L169 635Z" fill="#808080"/><path d="M85 695L66 697L50 684L56 664L76 660L91 674Z" fill="#2e2e2e" fill-opacity="0.55" stroke="none"/><path d="M84 693L65 695L49 682L55 663L75 659L90 673Z" fill="#767676"/><path d="M283 643L270 642L265 631L271 620L282 623L289 634Z" fill="#2e2e2e" fill-opacity="0.55" stroke="none"/><path d="M282 642L269 641L264 630L270 619L281 622L288 633Z" fill="#858585"/><path d="M175 641L177 623L196 617L213 630L208 650L191 656Z" fill="#2e2e2e" fill-opacity="0.55" stroke="none"/><path d="M174 640L176 621L195 616L212 628L207 649L189 654Z" fill="#7a7a7a"/><path d="M218 546L211 533L214 514L230 513L242 523L247 537L232 551Z" fill="#2e2e2e" fill-opacity="0.55" stroke="none"/><path d="M217 544L209 532L213 513L229 511L241 522L246 535L231 550Z" fill="#757575"/><path d="M203 589L213 575L230 576L233 591L216 602Z" fill="#2e2e2e" fill-opacity="0.55" stroke="none"/><path d="M202 587L212 573L229 574L232 589L214 600Z" fill="#808080"/><path d="M250 600L249 589L257 583L267 585L273 595L269 603L258 605Z" fill="#2e2e2e" fill-opacity="0.55" stroke="none"/><path d="M249 599L248 587L256 581L266 583L272 593L268 601L257 604Z" fill="#828282"/><path d="M197 590L202 571L222 568L229 586L214 598Z" fill="#2e2e2e" fill-opacity="0.55" stroke="none"/><path d="M196 588L201 569L220 566L228 584L213 596Z" fill="#797979"/><path d="M163 480L158 464L168 446L186 450L192 465L184 481Z" fill="#2e2e2e" fill-opacity="0.55" stroke="none"/><path d="M161 478L157 462L167 445L184 449L190 463L182 479Z" fill="#797979"/><path d="M173 560L162 547L163 534L179 531L188 540L184 555Z" fill="#2e2e2e" fill-opacity="0.55" stroke="none"/><path d="M171 558L161 545L162 532L178 530L187 538L183 553Z" fill="#767676"/><path d="M57 548L43 529L56 514L81 521L76 543Z" fill="#2e2e2e" fill-opacity="0.55" stroke="none"/><path d="M56 547L42 528L55 512L79 520L74 541Z" fill="#828282"/><path d="M77 561L67 572L55 565L56 551L69 548Z" fill="#2e2e2e" fill-opacity="0.55" stroke="none"/><path d="M76 560L66 571L54 564L55 549L68 546Z" fill="#848484"/><path d="M217 671L208 660L212 650L226 648L234 658L231 670Z" fill="#2e2e2e" fill-opacity="0.55" stroke="none"/><path d="M216 670L207 659L210 648L225 646L233 657L229 668Z" fill="#838383"/><path d="M244 689L242 698L233 698L223 694L224 682L233 676L242 679Z" fill="#2e2e2e" fill-opacity="0.55" stroke="none"/><path d="M243 687L241 697L231 696L222 692L222 680L232 674L241 677Z" fill="#787878"/><path d="M301 482L292 491L283 487L279 476L288 470L299 472Z" fill="#2e2e2e" fill-opacity="0.55" stroke="none"/><path d="M300 481L291 490L282 485L278 474L286 468L298 471Z" fill="#808080"/><path d="M221 590L215 577L220 565L237 561L247 572L245 583L235 592Z" fill="#2e2e2e" fill-opacity="0.55" stroke="none"/><path d="M220 588L214 575L219 563L235 560L246 570L244 581L234 590Z" fill="#818181"/><path d="M133 528L114 539L94 532L94 512L109 502L125 507Z" fill="#2e2e2e" fill-opacity="0.55" stroke="none"/><path d="M132 526L113 537L93 531L92 510L108 500L124 505Z" fill="#868686"/><path d="M185 594L173 605L159 595L153 577L173 567L187 574Z" fill="#2e2e2e" fill-opacity="0.55" stroke="none"/><path d="M184 592L172 603L157 593L152 575L172 565L186 573Z" fill="#818181"/><path d="M115 556L107 567L93 566L86 553L93 540L108 543Z" fill="#2e2e2e" fill-opacity="0.55" stroke="none"/><path d="M114 555L106 565L92 564L84 552L91 538L107 542Z" fill="#7c7c7c"/><path d="M58 579L43 581L36 565L47 554L60 562Z" fill="#2e2e2e" fill-opacity="0.55" stroke="none"/><path d="M57 578L42 579L35 563L46 552L59 560Z" fill="#767676"/><path d="M219 643L197 630L201 607L222 606L233 626Z" fill="#2e2e2e" fill-opacity="0.55" stroke="none"/><path d="M217 641L196 629L200 605L221 605L232 625Z" fill="#7c7c7c"/><path d="M70 613L65 591L84 584L97 598L91 614Z" fill="#2e2e2e" fill-opacity="0.55" stroke="none"/><path d="M69 611L64 590L83 583L96 597L89 612Z" fill="#777777"/><path d="M194 461L189 469L178 472L169 464L172 453L178 448L191 450Z" fill="#2e2e2e" fill-opacity="0.55" stroke="none"/><path d="M193 460L188 468L176 471L168 462L170 452L177 446L190 448Z" fill="#828282"/><path d="M188 674L179 690L164 686L157 671L165 660L183 660Z" fill="#2e2e2e" fill-opacity="0.55" stroke="none"/><path d="M187 672L178 688L163 685L156 669L164 659L182 658Z" fill="#767676"/><path d="M176 469L183 456L197 453L203 464L198 477L185 479Z" fill="#2e2e2e" fill-opacity="0.55" stroke="none"/><path d="M175 467L182 455L196 451L202 462L197 476L183 477Z" fill="#7b7b7b"/><path d="M191 457L175 479L178 482L194 459Z" fill="#2e2e2e" fill-opacity="0.55" stroke="none"/><path d="M190 455L173 478L177 480L193 457Z" fill="#9e9e9e"/><path d="M91 482L85 475L87 464L97 460L107 470L102 479Z" fill="#2e2e2e" fill-opacity="0.55" stroke="none"/><path d="M90 481L83 473L86 463L96 458L105 468L101 478Z" fill="#727272"/><path d="M109 678L98 694L77 694L71 674L83 659L100 661Z" fill="#2e2e2e" fill-opacity="0.55" stroke="none"/><path d="M108 676L97 692L76 693L70 672L82 657L99 659Z" fill="#858585"/><path d="M103 654L87 679L91 682L107 657Z" fill="#2e2e2e" fill-opacity="0.55" stroke="none"/><path d="M102 653L86 678L90 680L105 655Z" fill="#979797"/><path d="M263 512L248 529L229 526L224 505L235 489L254 493Z" fill="#2e2e2e" fill-opacity="0.55" stroke="none"/><path d="M262 511L247 528L228 524L222 503L233 488L252 491Z" fill="#7d7d7d"/><path d="M146 532L135 547L120 538L118 519L137 515Z" fill="#2e2e2e" fill-opacity="0.55" stroke="none"/><path d="M145 531L134 545L119 536L117 518L136 514Z" fill="#858585"/><path d="M270 679L255 664L255 647L272 636L286 646L288 667Z" fill="#2e2e2e" fill-opacity="0.55" stroke="none"/><path d="M269 677L254 663L254 645L271 634L285 644L287 666Z" fill="#7a7a7a"/><path d="M268 649L267 676L272 676L273 649Z" fill="#2e2e2e" fill-opacity="0.55" stroke="none"/><path d="M267 647L266 674L271 675L272 647Z" fill="#aeaeae"/><path d="M271 545L254 539L250 527L259 511L274 514L281 531Z" fill="#2e2e2e" fill-opacity="0.55" stroke="none"/><path d="M270 544L253 538L248 525L258 510L273 513L280 530Z" fill="#858585"/><path d="M185 512L175 527L162 520L163 504L178 500Z" fill="#2e2e2e" fill-opacity="0.55" stroke="none"/><path d="M184 510L174 526L161 518L162 503L177 498Z" fill="#858585"/><path d="M200 615L187 616L181 606L186 594L199 595L207 604Z" fill="#2e2e2e" fill-opacity="0.55" stroke="none"/><path d="M199 613L186 615L180 604L185 592L198 593L206 603Z" fill="#868686"/><path d="M183 592L189 607L194 605L188 590Z" fill="#2e2e2e" fill-opacity="0.55" stroke="none"/><path d="M182 590L188 606L193 604L187 588Z" fill="#a0a0a0"/><path d="M102 493L81 496L67 483L72 466L89 460L104 475Z" fill="#2e2e2e" fill-opacity="0.55" stroke="none"/><path d="M101 492L80 495L66 482L71 464L88 459L103 473Z" fill="#727272"/><path d="M96 585L79 596L60 581L69 560L90 562Z" fill="#2e2e2e" fill-opacity="0.55" stroke="none"/><path d="M95 584L78 595L59 579L67 559L89 560Z" fill="#808080"/><path d="M183 476L166 468L161 450L173 438L192 446L197 463Z" fill="#2e2e2e" fill-opacity="0.55" stroke="none"/><path d="M182 474L165 467L160 449L172 436L191 444L196 462Z" fill="#838383"/><path d="M271 661L259 648L259 629L272 621L290 623L298 640L289 658Z" fill="#2e2e2e" fill-opacity="0.55" stroke="none"/><path d="M270 659L258 647L257 628L271 619L289 621L297 639L288 656Z" fill="#757575"/><path d="M170 700L152 696L143 681L150 660L169 655L182 669L183 688Z" fill="#2e2e2e" fill-opacity="0.55" stroke="none"/><path d="M169 698L151 695L142 679L148 658L167 654L180 668L182 687Z" fill="#868686"/><path d="M229 624L212 632L195 617L202 599L218 593L233 605Z" fill="#2e2e2e" fill-opacity="0.55" stroke="none"/><path d="M228 623L211 630L193 616L201 597L217 591L231 603Z" fill="#848484"/><path d="M100 635L87 635L80 615L91 605L107 602L118 611L116 629Z" fill="#2e2e2e" fill-opacity="0.55" stroke="none"/><path d="M99 634L85 633L79 613L90 604L106 601L116 610L114 628Z" fill="#858585"/><path d="M148 641L140 656L122 664L106 650L109 633L126 623L139 628Z" fill="#2e2e2e" fill-opacity="0.55" stroke="none"/><path d="M147 639L139 654L121 662L105 648L108 631L125 621L138 626Z" fill="#7b7b7b"/><path d="M152 667L139 662L136 648L149 638L163 645L165 658Z" fill="#2e2e2e" fill-opacity="0.55" stroke="none"/><path d="M151 665L137 660L135 647L148 637L162 644L164 656Z" fill="#757575"/><path d="M152 635L134 657L137 659L155 637Z" fill="#2e2e2e" fill-opacity="0.55" stroke="none"/><path d="M151 633L133 655L136 658L154 635Z" fill="#8c8c8c"/><path d="M57 465L46 460L47 445L62 442L67 455Z" fill="#2e2e2e" fill-opacity="0.55" stroke="none"/><path d="M56 464L45 458L46 444L61 440L66 453Z" fill="#878787"/><path d="M178 521L163 518L158 507L165 497L179 490L186 499L189 512Z" fill="#2e2e2e" fill-opacity="0.55" stroke="none"/><path d="M177 520L162 516L157 506L164 495L178 489L185 497L188 511Z" fill="#777777"/><path d="M146 468L128 466L120 455L130 439L144 438L152 451Z" fill="#2e2e2e" fill-opacity="0.55" stroke="none"/><path d="M145 466L127 464L119 453L128 438L143 436L151 450Z" fill="#767676"/><path d="M261 657L235 659L228 632L248 620L271 637Z" fill="#2e2e2e" fill-opacity="0.55" stroke="none"/><path d="M260 655L234 657L227 631L247 618L270 635Z" fill="#787878"/></g><ellipse cx="152.7" cy="656.3" rx="1.9" ry="1.8" transform="rotate(11 152.7 656.3)" fill="#1a1a1a" opacity="0.7"/><ellipse cx="248.7" cy="563.8" rx="1.5" ry="1.5" transform="rotate(124 248.7 563.8)" fill="#1a1a1a" opacity="0.7"/><ellipse cx="94.6" cy="616.4" rx="1.2" ry="1.1" transform="rotate(92 94.6 616.4)" fill="#1a1a1a" opacity="0.7"/><ellipse cx="275.2" cy="459.7" rx="1.9" ry="2.1" transform="rotate(176 275.2 459.7)" fill="#1a1a1a" opacity="0.7"/><ellipse cx="271" cy="598.4" rx="1.9" ry="1" transform="rotate(31 271 598.4)" fill="#1a1a1a" opacity="0.7"/><ellipse cx="265.4" cy="665.1" rx="3" ry="1.8" transform="rotate(154 265.4 665.1)" fill="#1a1a1a" opacity="0.7"/></g></g>
<g clip-path="url(#c1)"><g filter="url(#soft)"><rect x="298.1" y="446" width="229.7" height="229" fill="#666666"/><g stroke="#d2d2d2" stroke-width="1.0" stroke-opacity="0.9" stroke-linejoin="round"><path d="M349 515L336 514L331 498L337 485L355 489L359 504Z" fill="#2e2e2e" fill-opacity="0.55" stroke="none"/><path d="M348 513L335 512L330 497L336 483L354 487L358 502Z" fill="#848484"/><path d="M473 616L458 614L453 597L469 588L478 593L480 604Z" fill="#2e2e2e" fill-opacity="0.55" stroke="none"/><path d="M471 614L457 613L452 595L467 587L477 592L479 602Z" fill="#797979"/><path d="M470 594L468 614L471 614L473 594Z" fill="#2e2e2e" fill-opacity="0.55" stroke="none"/><path d="M469 592L467 613L470 613L472 592Z" fill="#989898"/><path d="M341 647L331 640L331 633L337 622L353 628L352 640Z" fill="#2e2e2e" fill-opacity="0.55" stroke="none"/><path d="M340 646L330 639L330 631L336 621L352 627L351 639Z" fill="#7d7d7d"/><path d="M362 645L350 636L348 625L353 610L370 616L374 632Z" fill="#2e2e2e" fill-opacity="0.55" stroke="none"/><path d="M361 644L349 635L347 623L352 609L369 614L373 630Z" fill="#767676"/><path d="M329 676L317 676L319 665L327 662L338 666Z" fill="#2e2e2e" fill-opacity="0.55" stroke="none"/><path d="M327 675L315 675L318 663L326 660L337 664Z" fill="#7c7c7c"/><path d="M487 600L475 607L471 593L478 583L491 585Z" fill="#2e2e2e" fill-opacity="0.55" stroke="none"/><path d="M486 599L474 605L470 591L477 582L490 584Z" fill="#7a7a7a"/><path d="M489 539L480 540L481 531L485 524L494 525L493 535Z" fill="#2e2e2e" fill-opacity="0.55" stroke="none"/><path d="M488 537L478 538L480 530L484 522L493 523L492 533Z" fill="#787878"/><path d="M425 671L413 671L416 659L421 651L432 647L438 657L435 666Z" fill="#2e2e2e" fill-opacity="0.55" stroke="none"/><path d="M424 669L412 670L415 657L420 649L431 645L437 655L434 664Z" fill="#7e7e7e"/><path d="M464 590L458 583L458 576L465 571L472 578L471 585Z" fill="#2e2e2e" fill-opacity="0.55" stroke="none"/><path d="M462 589L457 582L457 574L464 570L471 576L470 584Z" fill="#7d7d7d"/><path d="M476 549L481 539L492 534L497 545L496 558L483 563Z" fill="#2e2e2e" fill-opacity="0.55" stroke="none"/><path d="M474 547L479 537L491 532L496 543L495 557L481 561Z" fill="#7f7f7f"/><path d="M505 649L503 639L510 629L517 634L527 639L519 646L514 651Z" fill="#2e2e2e" fill-opacity="0.55" stroke="none"/><path d="M503 648L501 637L508 628L516 633L525 638L518 645L513 649Z" fill="#838383"/><path d="M385 654L371 658L365 640L372 630L387 627L396 640Z" fill="#2e2e2e" fill-opacity="0.55" stroke="none"/><path d="M384 653L370 656L364 638L371 628L385 625L395 639Z" fill="#818181"/><path d="M484 468L484 461L491 458L498 466L491 473Z" fill="#2e2e2e" fill-opacity="0.55" stroke="none"/><path d="M483 466L483 460L490 456L496 464L490 471Z" fill="#7a7a7a"/><path d="M493 649L477 654L472 641L476 631L489 625L494 638Z" fill="#2e2e2e" fill-opacity="0.55" stroke="none"/><path d="M492 647L476 652L471 640L475 629L488 623L493 636Z" fill="#828282"/><path d="M447 496L441 496L434 492L438 485L445 483L452 488Z" fill="#2e2e2e" fill-opacity="0.55" stroke="none"/><path d="M445 494L440 494L433 491L437 483L444 481L451 486Z" fill="#858585"/><path d="M388 652L386 639L398 633L407 641L410 655L396 657Z" fill="#2e2e2e" fill-opacity="0.55" stroke="none"/><path d="M387 651L385 638L396 632L406 639L409 653L395 655Z" fill="#858585"/><path d="M412 556L402 543L407 530L419 529L426 539L429 552Z" fill="#2e2e2e" fill-opacity="0.55" stroke="none"/><path d="M411 555L400 542L406 529L418 528L425 537L428 550Z" fill="#818181"/><path d="M506 508L498 496L507 485L519 484L527 493L518 502Z" fill="#2e2e2e" fill-opacity="0.55" stroke="none"/><path d="M505 506L496 494L506 483L518 483L526 492L516 500Z" fill="#7c7c7c"/><path d="M504 482L519 498L523 495L508 479Z" fill="#2e2e2e" fill-opacity="0.55" stroke="none"/><path d="M503 481L518 497L521 493L507 477Z" fill="#919191"/><path d="M440 640L430 645L420 635L430 627L444 626Z" fill="#2e2e2e" fill-opacity="0.55" stroke="none"/><path d="M439 638L429 644L419 633L428 625L442 624Z" fill="#858585"/><path d="M450 470L447 454L464 451L472 466L462 474Z" fill="#2e2e2e" fill-opacity="0.55" stroke="none"/><path d="M449 469L445 453L463 449L471 464L461 473Z" fill="#767676"/><path d="M288 534L276 519L284 504L305 507L303 527Z" fill="#2e2e2e" fill-opacity="0.55" stroke="none"/><path d="M286 533L275 517L283 502L304 505L302 525Z" fill="#7a7a7a"/><path d="M454 537L454 530L462 529L467 530L467 537L464 540L457 541Z" fill="#2e2e2e" fill-opacity="0.55" stroke="none"/><path d="M452 535L453 528L461 528L466 529L465 536L463 539L456 540Z" fill="#858585"/><path d="M354 558L343 562L333 556L341 545L356 543Z" fill="#2e2e2e" fill-opacity="0.55" stroke="none"/><path d="M353 556L342 561L332 554L340 544L355 541Z" fill="#848484"/><path d="M360 542L341 556L344 560L363 547Z" fill="#2e2e2e" fill-opacity="0.55" stroke="none"/><path d="M359 540L340 554L343 559L362 545Z" fill="#929292"/><path d="M392 561L381 555L387 542L400 541L401 554Z" fill="#2e2e2e" fill-opacity="0.55" stroke="none"/><path d="M391 559L380 553L385 540L398 540L399 553Z" fill="#7a7a7a"/><path d="M486 555L480 562L473 559L470 552L473 545L483 547Z" fill="#2e2e2e" fill-opacity="0.55" stroke="none"/><path d="M485 554L479 561L471 557L469 551L472 543L482 545Z" fill="#7c7c7c"/><path d="M407 596L393 585L393 572L406 573L413 583Z" fill="#2e2e2e" fill-opacity="0.55" stroke="none"/><path d="M406 595L392 584L392 570L405 571L412 581Z" fill="#838383"/><path d="M517 667L509 675L498 674L493 661L503 649L518 655Z" fill="#2e2e2e" fill-opacity="0.55" stroke="none"/><path d="M516 665L508 673L497 672L492 659L502 647L517 653Z" fill="#7b7b7b"/><path d="M437 566L430 572L422 571L414 562L422 547L439 552Z" fill="#2e2e2e" fill-opacity="0.55" stroke="none"/><path d="M436 564L429 571L421 569L413 560L421 545L438 550Z" fill="#7c7c7c"/><path d="M423 554L416 577L419 578L426 555Z" fill="#2e2e2e" fill-opacity="0.55" stroke="none"/><path d="M421 553L415 576L418 577L425 554Z" fill="#909090"/><path d="M307 453L306 438L320 427L332 440L323 457Z" fill="#2e2e2e" fill-opacity="0.55" stroke="none"/><path d="M306 451L305 436L319 426L331 438L321 456Z" fill="#787878"/><path d="M368 544L366 535L372 526L383 530L383 539L379 547Z" fill="#2e2e2e" fill-opacity="0.55" stroke="none"/><path d="M367 543L365 533L371 524L382 528L381 537L377 545Z" fill="#787878"/><path d="M291 620L291 610L302 604L316 610L311 624L299 627Z" fill="#2e2e2e" fill-opacity="0.55" stroke="none"/><path d="M290 619L290 608L301 603L314 608L310 622L298 625Z" fill="#797979"/><path d="M349 471L349 461L357 455L363 465L358 474Z" fill="#2e2e2e" fill-opacity="0.55" stroke="none"/><path d="M347 469L348 459L356 454L362 463L357 472Z" fill="#7b7b7b"/><path d="M328 629L315 623L316 605L332 603L335 617Z" fill="#2e2e2e" fill-opacity="0.55" stroke="none"/><path d="M327 627L314 621L315 603L331 601L334 615Z" fill="#7f7f7f"/><path d="M349 629L354 615L368 607L378 619L370 632L359 634Z" fill="#2e2e2e" fill-opacity="0.55" stroke="none"/><path d="M348 628L353 613L366 605L377 618L368 630L358 632Z" fill="#808080"/><path d="M339 691L333 682L331 670L341 671L351 675L346 684Z" fill="#2e2e2e" fill-opacity="0.55" stroke="none"/><path d="M338 689L332 680L329 669L340 669L350 673L345 682Z" fill="#838383"/><path d="M404 474L398 479L390 479L389 472L391 466L401 466Z" fill="#2e2e2e" fill-opacity="0.55" stroke="none"/><path d="M403 472L397 478L389 477L388 471L390 464L399 464Z" fill="#7c7c7c"/><path d="M468 643L468 634L478 636L482 641L479 648L473 652Z" fill="#2e2e2e" fill-opacity="0.55" stroke="none"/><path d="M467 641L467 633L477 634L481 639L478 646L472 651Z" fill="#7f7f7f"/><path d="M343 503L332 500L328 492L332 484L340 481L349 490Z" fill="#2e2e2e" fill-opacity="0.55" stroke="none"/><path d="M342 501L331 498L327 491L331 482L339 480L348 488Z" fill="#858585"/><path d="M383 488L375 487L370 480L368 469L379 467L385 473L390 482Z" fill="#2e2e2e" fill-opacity="0.55" stroke="none"/><path d="M382 487L373 486L369 478L367 468L378 466L384 471L388 480Z" fill="#7c7c7c"/><path d="M409 491L392 495L380 490L380 471L395 472L405 476Z" fill="#2e2e2e" fill-opacity="0.55" stroke="none"/><path d="M408 490L391 493L379 488L379 470L394 470L404 474Z" fill="#747474"/><path d="M517 621L516 613L518 608L525 604L527 613L527 620Z" fill="#2e2e2e" fill-opacity="0.55" stroke="none"/><path d="M516 619L515 611L517 607L524 603L526 611L526 618Z" fill="#797979"/><path d="M506 560L504 546L515 537L529 540L528 556L521 566Z" fill="#2e2e2e" fill-opacity="0.55" stroke="none"/><path d="M504 558L503 545L514 535L527 539L527 554L520 564Z" fill="#767676"/><path d="M426 650L418 645L424 639L431 637L441 642L433 650Z" fill="#2e2e2e" fill-opacity="0.55" stroke="none"/><path d="M425 648L417 644L423 638L430 636L439 641L432 648Z" fill="#767676"/><path d="M405 680L395 669L409 658L419 668L417 680Z" fill="#2e2e2e" fill-opacity="0.55" stroke="none"/><path d="M404 678L394 667L408 657L418 667L415 679Z" fill="#7e7e7e"/><path d="M297 646L300 637L311 635L314 644L314 655L301 657Z" fill="#2e2e2e" fill-opacity="0.55" stroke="none"/><path d="M296 644L298 635L309 633L313 643L312 654L299 655Z" fill="#838383"/><path d="M438 654L445 635L458 631L469 645L467 658L453 666Z" fill="#2e2e2e" fill-opacity="0.55" stroke="none"/><path d="M437 652L443 634L457 630L468 643L465 657L451 664Z" fill="#7b7b7b"/><path d="M443 479L429 488L417 480L416 465L431 457L444 463Z" fill="#2e2e2e" fill-opacity="0.55" stroke="none"/><path d="M442 477L428 486L416 478L415 464L430 456L443 461Z" fill="#777777"/><path d="M425 462L421 481L427 483L431 463Z" fill="#2e2e2e" fill-opacity="0.55" stroke="none"/><path d="M424 460L420 480L426 481L429 461Z" fill="#9a9a9a"/><path d="M444 534L436 530L432 525L436 518L446 516L450 526Z" fill="#2e2e2e" fill-opacity="0.55" stroke="none"/><path d="M443 532L435 528L431 523L435 516L445 515L449 524Z" fill="#838383"/><path d="M385 687L379 682L387 679L392 675L396 681L394 686L390 691Z" fill="#2e2e2e" fill-opacity="0.55" stroke="none"/><path d="M383 686L378 680L386 677L391 674L394 680L393 685L389 689Z" fill="#838383"/><path d="M478 499L465 498L464 489L473 480L485 481L483 493Z" fill="#2e2e2e" fill-opacity="0.55" stroke="none"/><path d="M477 497L464 497L463 487L472 479L483 479L482 492Z" fill="#7a7a7a"/><path d="M387 546L379 544L376 535L384 529L390 538Z" fill="#2e2e2e" fill-opacity="0.55" stroke="none"/><path d="M386 544L378 543L375 533L383 528L389 537Z" fill="#747474"/><path d="M390 533L361 536L361 540L391 537Z" fill="#2e2e2e" fill-opacity="0.55" stroke="none"/><path d="M389 531L360 534L360 538L390 536Z" fill="#9c9c9c"/><path d="M504 483L497 484L487 477L495 468L503 464L509 473Z" fill="#2e2e2e" fill-opacity="0.55" stroke="none"/><path d="M503 481L495 482L486 476L494 467L501 462L507 472Z" fill="#7f7f7f"/><path d="M368 622L354 628L350 617L350 603L362 600L371 609Z" fill="#2e2e2e" fill-opacity="0.55" stroke="none"/><path d="M367 620L353 627L349 615L348 601L361 598L370 608Z" fill="#7d7d7d"/><path d="M330 577L327 567L335 556L349 565L348 577L338 579Z" fill="#2e2e2e" fill-opacity="0.55" stroke="none"/><path d="M329 576L326 565L334 555L348 563L347 576L337 577Z" fill="#7e7e7e"/><path d="M352 567L350 556L363 550L369 561L363 574Z" fill="#2e2e2e" fill-opacity="0.55" stroke="none"/><path d="M351 565L349 554L362 549L368 560L362 573Z" fill="#767676"/><path d="M382 485L374 490L364 484L368 472L376 471L384 473Z" fill="#2e2e2e" fill-opacity="0.55" stroke="none"/><path d="M381 484L373 489L363 482L367 471L375 470L383 472Z" fill="#848484"/><path d="M463 561L457 560L451 557L455 550L462 551L469 556Z" fill="#2e2e2e" fill-opacity="0.55" stroke="none"/><path d="M461 559L456 559L450 555L453 548L461 549L467 554Z" fill="#747474"/><path d="M303 567L300 554L311 550L322 555L323 566L312 577Z" fill="#2e2e2e" fill-opacity="0.55" stroke="none"/><path d="M302 566L299 553L309 548L321 553L321 564L310 575Z" fill="#848484"/><path d="M278 511L280 502L288 502L297 506L296 512L291 524L281 518Z" fill="#2e2e2e" fill-opacity="0.55" stroke="none"/><path d="M277 510L279 501L287 500L295 504L294 511L289 523L280 516Z" fill="#848484"/><path d="M513 440L502 451L487 452L481 435L491 420L510 424Z" fill="#2e2e2e" fill-opacity="0.55" stroke="none"/><path d="M512 439L501 449L486 451L480 433L490 419L509 422Z" fill="#7f7f7f"/><path d="M408 632L413 622L425 622L430 632L425 639L416 641Z" fill="#2e2e2e" fill-opacity="0.55" stroke="none"/><path d="M407 631L412 620L424 620L429 631L424 637L415 639Z" fill="#7e7e7e"/><path d="M408 628L416 642L420 640L412 626Z" fill="#2e2e2e" fill-opacity="0.55" stroke="none"/><path d="M406 626L414 641L418 638L411 624Z" fill="#a7a7a7"/><path d="M406 460L407 453L413 450L417 454L419 459L418 466L411 464Z" fill="#2e2e2e" fill-opacity="0.55" stroke="none"/><path d="M405 459L406 452L411 448L416 453L418 457L416 464L410 462Z" fill="#767676"/><path d="M414 651L405 648L397 642L402 630L413 630L416 640Z" fill="#2e2e2e" fill-opacity="0.55" stroke="none"/><path d="M413 650L404 646L395 640L401 629L412 628L415 639Z" fill="#7d7d7d"/><path d="M400 629L397 653L402 653L405 630Z" fill="#2e2e2e" fill-opacity="0.55" stroke="none"/><path d="M399 628L396 651L401 652L404 628Z" fill="#a6a6a6"/><path d="M371 501L362 508L351 507L340 497L345 482L359 480L372 486Z" fill="#2e2e2e" fill-opacity="0.55" stroke="none"/><path d="M369 500L361 506L349 505L338 496L344 481L358 479L371 484Z" fill="#7e7e7e"/><path d="M324 663L321 673L308 667L309 656L317 648L325 655Z" fill="#2e2e2e" fill-opacity="0.55" stroke="none"/><path d="M323 662L319 672L307 665L308 655L315 646L323 653Z" fill="#767676"/><path d="M483 540L489 528L501 524L509 531L507 543L494 550Z" fill="#2e2e2e" fill-opacity="0.55" stroke="none"/><path d="M482 539L488 526L500 522L507 530L505 542L493 548Z" fill="#757575"/><path d="M503 685L509 678L518 679L522 684L517 690L511 691Z" fill="#2e2e2e" fill-opacity="0.55" stroke="none"/><path d="M502 684L507 676L516 677L521 682L516 688L510 689Z" fill="#777777"/><path d="M462 592L454 590L451 580L459 572L470 578L470 588Z" fill="#2e2e2e" fill-opacity="0.55" stroke="none"/><path d="M461 590L453 588L450 578L457 570L468 576L469 586Z" fill="#858585"/><path d="M291 638L282 628L289 619L303 613L312 626L299 637Z" fill="#2e2e2e" fill-opacity="0.55" stroke="none"/><path d="M290 636L280 626L288 618L301 612L311 624L298 635Z" fill="#777777"/><path d="M297 628L278 638L280 642L299 632Z" fill="#2e2e2e" fill-opacity="0.55" stroke="none"/><path d="M295 627L277 636L279 640L297 631Z" fill="#919191"/><path d="M435 678L426 682L416 681L411 670L423 662L432 669Z" fill="#2e2e2e" fill-opacity="0.55" stroke="none"/><path d="M434 677L425 680L414 680L410 668L422 661L431 667Z" fill="#767676"/><path d="M403 508L407 498L417 501L419 511L410 514Z" fill="#2e2e2e" fill-opacity="0.55" stroke="none"/><path d="M401 507L406 496L416 500L418 510L409 512Z" fill="#777777"/><path d="M474 650L466 659L457 655L447 643L457 629L472 635Z" fill="#2e2e2e" fill-opacity="0.55" stroke="none"/><path d="M473 648L465 657L455 654L446 641L456 628L470 633Z" fill="#858585"/><path d="M444 609L436 619L426 614L424 604L430 596L448 595Z" fill="#2e2e2e" fill-opacity="0.55" stroke="none"/><path d="M443 607L434 618L424 612L422 602L429 594L447 593Z" fill="#7a7a7a"/><path d="M334 507L328 513L320 509L322 502L326 497L335 499Z" fill="#2e2e2e" fill-opacity="0.55" stroke="none"/><path d="M333 506L327 511L319 507L321 500L325 496L334 497Z" fill="#797979"/><path d="M434 693L421 698L411 697L403 689L408 674L419 674L433 679Z" fill="#2e2e2e" fill-opacity="0.55" stroke="none"/><path d="M433 691L420 696L410 695L402 688L406 672L417 673L432 678Z" fill="#808080"/><path d="M362 531L355 534L350 527L354 521L360 520L364 525Z" fill="#2e2e2e" fill-opacity="0.55" stroke="none"/><path d="M361 530L354 532L348 526L352 520L359 518L362 524Z" fill="#838383"/><path d="M345 556L335 551L339 543L349 540L351 550Z" fill="#2e2e2e" fill-opacity="0.55" stroke="none"/><path d="M344 554L334 549L338 541L348 539L350 548Z" fill="#777777"/><path d="M397 672L395 666L402 661L407 665L409 671L404 676Z" fill="#2e2e2e" fill-opacity="0.55" stroke="none"/><path d="M395 671L394 664L400 659L405 664L408 669L403 674Z" fill="#838383"/><path d="M386 459L371 458L368 445L376 434L386 437L395 445Z" fill="#2e2e2e" fill-opacity="0.55" stroke="none"/><path d="M385 458L370 456L367 443L375 432L384 436L394 444Z" fill="#838383"/><path d="M484 611L484 602L490 598L498 598L501 607L494 614Z" fill="#2e2e2e" fill-opacity="0.55" stroke="none"/><path d="M483 610L482 601L489 596L497 597L500 606L492 612Z" fill="#777777"/><path d="M496 520L480 524L468 520L470 506L484 500L495 507Z" fill="#2e2e2e" fill-opacity="0.55" stroke="none"/><path d="M495 518L479 522L467 518L469 504L483 499L494 505Z" fill="#757575"/><path d="M484 542L477 537L478 528L486 528L491 531L492 538Z" fill="#2e2e2e" fill-opacity="0.55" stroke="none"/><path d="M483 540L476 535L477 526L485 526L489 529L491 536Z" fill="#818181"/><path d="M365 560L359 548L367 535L381 538L384 551L377 565Z" fill="#2e2e2e" fill-opacity="0.55" stroke="none"/><path d="M364 559L357 547L366 533L380 537L383 550L376 564Z" fill="#767676"/><path d="M375 525L364 532L354 529L351 514L363 508L371 514Z" fill="#2e2e2e" fill-opacity="0.55" stroke="none"/><path d="M374 524L363 531L353 527L349 513L362 506L370 513Z" fill="#858585"/><path d="M355 529L383 530L384 526L355 525Z" fill="#2e2e2e" fill-opacity="0.55" stroke="none"/><path d="M354 528L382 529L382 524L354 524Z" fill="#8e8e8e"/><path d="M454 628L444 615L454 600L468 602L475 614L467 628Z" fill="#2e2e2e" fill-opacity="0.55" stroke="none"/><path d="M453 626L442 613L453 598L466 601L474 612L466 626Z" fill="#7a7a7a"/><path d="M329 520L318 514L318 505L322 497L331 503L335 513Z" fill="#2e2e2e" fill-opacity="0.55" stroke="none"/><path d="M328 518L317 512L316 503L321 496L330 502L334 511Z" fill="#7a7a7a"/><path d="M298 488L293 476L299 469L309 471L312 484Z" fill="#2e2e2e" fill-opacity="0.55" stroke="none"/><path d="M296 486L291 474L298 467L307 470L311 482Z" fill="#767676"/><path d="M333 560L322 560L311 552L316 542L329 535L334 545Z" fill="#2e2e2e" fill-opacity="0.55" stroke="none"/><path d="M332 558L321 558L310 551L315 540L327 534L333 543Z" fill="#747474"/><path d="M534 572L523 566L516 555L524 547L533 547L545 553L542 565Z" fill="#2e2e2e" fill-opacity="0.55" stroke="none"/><path d="M533 570L522 564L515 554L523 545L532 545L544 551L540 563Z" fill="#858585"/><path d="M539 550L532 572L537 574L544 552Z" fill="#2e2e2e" fill-opacity="0.55" stroke="none"/><path d="M537 549L530 571L536 572L543 550Z" fill="#8e8e8e"/><path d="M337 625L325 622L322 610L329 603L340 603L344 615Z" fill="#2e2e2e" fill-opacity="0.55" stroke="none"/><path d="M336 624L324 621L321 608L327 601L339 601L342 613Z" fill="#797979"/><path d="M347 460L335 456L324 445L331 430L350 431L352 448Z" fill="#2e2e2e" fill-opacity="0.55" stroke="none"/><path d="M346 459L333 454L322 443L330 429L349 430L351 447Z" fill="#858585"/><path d="M483 619L474 619L465 616L470 607L478 603L485 610Z" fill="#2e2e2e" fill-opacity="0.55" stroke="none"/><path d="M482 617L473 618L464 614L469 606L477 601L484 609Z" fill="#7a7a7a"/><path d="M472 564L463 565L463 557L469 550L479 557Z" fill="#2e2e2e" fill-opacity="0.55" stroke="none"/><path d="M471 562L461 564L462 555L467 549L478 555Z" fill="#838383"/><path d="M446 560L435 560L427 551L433 541L442 540L446 548Z" fill="#2e2e2e" fill-opacity="0.55" stroke="none"/><path d="M445 558L433 558L426 549L431 539L441 538L445 546Z" fill="#858585"/><path d="M423 568L408 568L408 552L413 541L428 539L428 554Z" fill="#2e2e2e" fill-opacity="0.55" stroke="none"/><path d="M422 566L407 566L407 550L412 540L427 538L427 553Z" fill="#858585"/><path d="M546 569L543 575L533 575L527 569L534 562L544 560Z" fill="#2e2e2e" fill-opacity="0.55" stroke="none"/><path d="M545 567L542 573L532 573L526 567L533 560L543 558Z" fill="#787878"/><path d="M378 515L381 503L395 498L408 508L406 520L389 524Z" fill="#2e2e2e" fill-opacity="0.55" stroke="none"/><path d="M376 513L380 502L394 497L406 506L404 519L388 523Z" fill="#7c7c7c"/><path d="M351 462L345 472L335 464L326 457L331 444L344 445L352 451Z" fill="#2e2e2e" fill-opacity="0.55" stroke="none"/><path d="M350 461L344 471L334 463L325 455L330 442L343 444L351 449Z" fill="#828282"/><path d="M397 602L390 614L376 617L365 611L367 595L377 589L388 589Z" fill="#2e2e2e" fill-opacity="0.55" stroke="none"/><path d="M396 600L388 612L374 615L364 609L366 593L376 588L387 588Z" fill="#808080"/><path d="M396 450L389 460L379 452L381 443L387 432L397 441Z" fill="#2e2e2e" fill-opacity="0.55" stroke="none"/><path d="M395 448L387 459L377 451L380 441L385 431L396 440Z" fill="#808080"/><path d="M472 573L466 579L454 585L452 572L458 562L469 561Z" fill="#2e2e2e" fill-opacity="0.55" stroke="none"/><path d="M470 572L465 578L453 583L451 570L457 560L468 560Z" fill="#7f7f7f"/><path d="M440 445L442 437L452 436L457 444L452 452L444 451Z" fill="#2e2e2e" fill-opacity="0.55" stroke="none"/><path d="M438 444L441 435L451 435L456 443L451 450L443 450Z" fill="#7a7a7a"/><path d="M490 480L479 483L472 476L475 464L486 461L494 469Z" fill="#2e2e2e" fill-opacity="0.55" stroke="none"/><path d="M489 478L478 481L471 475L474 462L485 459L492 468Z" fill="#858585"/><path d="M427 456L419 452L424 445L430 446L435 453Z" fill="#2e2e2e" fill-opacity="0.55" stroke="none"/><path d="M426 454L418 450L423 444L429 444L434 451Z" fill="#7d7d7d"/><path d="M538 470L524 481L512 469L522 456L536 457Z" fill="#2e2e2e" fill-opacity="0.55" stroke="none"/><path d="M536 469L522 480L511 468L521 454L534 455Z" fill="#838383"/><path d="M444 438L437 447L425 446L413 435L426 425L440 421Z" fill="#2e2e2e" fill-opacity="0.55" stroke="none"/><path d="M443 436L436 446L424 444L412 433L425 423L438 419Z" fill="#838383"/><path d="M518 649L510 643L501 633L512 626L526 625L525 638Z" fill="#2e2e2e" fill-opacity="0.55" stroke="none"/><path d="M517 647L509 641L500 631L511 624L525 623L524 637Z" fill="#838383"/><path d="M423 653L420 646L424 639L433 641L431 650Z" fill="#2e2e2e" fill-opacity="0.55" stroke="none"/><path d="M421 651L418 645L423 637L431 640L430 648Z" fill="#7c7c7c"/><path d="M329 581L324 576L330 569L338 567L341 576L338 584Z" fill="#2e2e2e" fill-opacity="0.55" stroke="none"/><path d="M328 579L323 574L329 568L337 565L339 575L337 583Z" fill="#7e7e7e"/><path d="M367 646L363 629L375 622L386 628L383 644Z" fill="#2e2e2e" fill-opacity="0.55" stroke="none"/><path d="M366 644L362 627L374 621L384 627L382 643Z" fill="#818181"/><path d="M472 510L467 518L457 515L452 507L456 497L468 501Z" fill="#2e2e2e" fill-opacity="0.55" stroke="none"/><path d="M471 508L466 516L455 514L451 505L455 495L466 500Z" fill="#858585"/><path d="M474 585L467 585L461 576L471 570L480 577Z" fill="#2e2e2e" fill-opacity="0.55" stroke="none"/><path d="M473 583L465 583L460 574L470 569L479 575Z" fill="#848484"/><path d="M364 654L363 642L367 633L380 633L386 643L377 653Z" fill="#2e2e2e" fill-opacity="0.55" stroke="none"/><path d="M363 653L361 640L366 631L379 632L384 641L376 651Z" fill="#828282"/><path d="M514 451L501 452L485 447L493 435L508 424L515 438Z" fill="#2e2e2e" fill-opacity="0.55" stroke="none"/><path d="M513 450L500 451L484 445L492 433L507 423L514 436Z" fill="#7e7e7e"/><path d="M401 578L390 582L386 572L392 564L403 568Z" fill="#2e2e2e" fill-opacity="0.55" stroke="none"/><path d="M400 577L389 580L385 570L391 563L401 566Z" fill="#838383"/><path d="M358 609L347 617L332 614L335 600L343 591L351 598Z" fill="#2e2e2e" fill-opacity="0.55" stroke="none"/><path d="M356 607L346 615L331 612L334 598L341 589L349 596Z" fill="#7e7e7e"/><path d="M342 598L330 611L333 613L344 600Z" fill="#2e2e2e" fill-opacity="0.55" stroke="none"/><path d="M340 596L329 609L332 612L343 598Z" fill="#999999"/><path d="M344 448L334 449L326 445L327 437L334 430L340 432L349 437Z" fill="#2e2e2e" fill-opacity="0.55" stroke="none"/><path d="M343 446L333 447L325 444L326 435L333 429L339 430L347 436Z" fill="#828282"/><path d="M506 506L500 511L495 505L493 498L498 494L506 498Z" fill="#2e2e2e" fill-opacity="0.55" stroke="none"/><path d="M505 504L499 510L494 503L492 496L497 492L504 496Z" fill="#7b7b7b"/><path d="M448 548L440 540L442 530L449 526L459 528L458 537L459 547Z" fill="#2e2e2e" fill-opacity="0.55" stroke="none"/><path d="M447 547L439 538L440 529L448 524L458 526L456 536L457 545Z" fill="#7e7e7e"/><path d="M307 529L303 518L305 508L315 510L326 515L318 526Z" fill="#2e2e2e" fill-opacity="0.55" stroke="none"/><path d="M306 527L302 516L304 506L314 509L325 513L317 524Z" fill="#797979"/><path d="M461 545L454 551L445 548L446 541L456 537Z" fill="#2e2e2e" fill-opacity="0.55" stroke="none"/><path d="M460 543L453 550L444 547L445 539L454 535Z" fill="#828282"/><path d="M508 600L499 601L493 594L497 585L507 584L511 592Z" fill="#2e2e2e" fill-opacity="0.55" stroke="none"/><path d="M507 598L498 599L492 593L496 583L506 582L510 590Z" fill="#838383"/><path d="M476 633L472 621L485 613L496 621L498 634L485 642Z" fill="#2e2e2e" fill-opacity="0.55" stroke="none"/><path d="M475 631L470 619L484 611L495 619L497 632L484 640Z" fill="#7d7d7d"/><path d="M534 479L524 470L527 461L540 456L546 470Z" fill="#2e2e2e" fill-opacity="0.55" stroke="none"/><path d="M532 478L523 468L526 459L539 455L545 468Z" fill="#828282"/><path d="M352 533L349 540L343 539L335 538L339 530L345 524L353 525Z" fill="#2e2e2e" fill-opacity="0.55" stroke="none"/><path d="M351 532L348 538L341 538L334 537L338 528L343 522L352 523Z" fill="#818181"/><path d="M479 481L476 472L480 466L489 464L499 476L490 486Z" fill="#2e2e2e" fill-opacity="0.55" stroke="none"/><path d="M478 479L475 471L479 464L488 462L498 474L489 484Z" fill="#747474"/><path d="M387 474L380 466L389 457L402 454L406 467L401 478Z" fill="#2e2e2e" fill-opacity="0.55" stroke="none"/><path d="M386 472L379 465L387 455L401 452L405 466L400 477Z" fill="#7a7a7a"/><path d="M402 488L396 479L398 468L409 474L412 482Z" fill="#2e2e2e" fill-opacity="0.55" stroke="none"/><path d="M401 487L395 478L396 466L408 472L411 481Z" fill="#747474"/><path d="M422 682L418 666L426 657L437 658L446 667L438 676Z" fill="#2e2e2e" fill-opacity="0.55" stroke="none"/><path d="M421 681L417 665L425 655L436 657L444 666L437 674Z" fill="#787878"/><path d="M330 591L328 583L339 579L344 587L339 595L332 598Z" fill="#2e2e2e" fill-opacity="0.55" stroke="none"/><path d="M328 589L327 581L337 578L343 585L338 593L330 597Z" fill="#818181"/><path d="M325 586L343 602L347 597L328 582Z" fill="#2e2e2e" fill-opacity="0.55" stroke="none"/><path d="M323 585L342 600L346 596L327 581Z" fill="#9f9f9f"/><path d="M317 488L325 473L338 474L352 482L344 498L327 499Z" fill="#2e2e2e" fill-opacity="0.55" stroke="none"/><path d="M316 486L324 471L337 472L350 480L343 497L326 497Z" fill="#7e7e7e"/><path d="M328 643L327 633L336 633L344 635L345 645L336 651Z" fill="#2e2e2e" fill-opacity="0.55" stroke="none"/><path d="M327 641L326 632L335 631L343 634L344 643L335 649Z" fill="#757575"/><path d="M322 636L343 655L347 651L326 632Z" fill="#2e2e2e" fill-opacity="0.55" stroke="none"/><path d="M321 634L342 654L346 650L325 630Z" fill="#a6a6a6"/><path d="M451 681L456 670L467 671L466 683L457 688Z" fill="#2e2e2e" fill-opacity="0.55" stroke="none"/><path d="M449 679L454 668L466 670L465 682L456 686Z" fill="#7c7c7c"/><path d="M467 555L461 559L451 558L452 546L460 544L468 545Z" fill="#2e2e2e" fill-opacity="0.55" stroke="none"/><path d="M466 554L460 557L449 556L451 545L459 543L467 544Z" fill="#7a7a7a"/><path d="M358 644L359 631L377 624L379 639L371 651Z" fill="#2e2e2e" fill-opacity="0.55" stroke="none"/><path d="M357 642L357 630L375 623L378 637L370 650Z" fill="#808080"/><path d="M357 637L382 646L384 641L358 632Z" fill="#2e2e2e" fill-opacity="0.55" stroke="none"/><path d="M356 635L381 644L382 640L357 631Z" fill="#a7a7a7"/><path d="M531 460L525 474L508 472L506 459L515 450L528 449Z" fill="#2e2e2e" fill-opacity="0.55" stroke="none"/><path d="M530 458L524 472L507 471L505 458L514 449L527 447Z" fill="#777777"/><path d="M446 648L436 650L436 639L443 633L452 632L459 639L457 648Z" fill="#2e2e2e" fill-opacity="0.55" stroke="none"/><path d="M445 647L435 648L435 637L441 632L451 630L458 638L456 647Z" fill="#7a7a7a"/><path d="M423 580L423 569L430 566L437 569L438 576L432 582Z" fill="#2e2e2e" fill-opacity="0.55" stroke="none"/><path d="M422 578L421 568L429 564L436 567L437 574L431 580Z" fill="#7e7e7e"/><path d="M375 676L369 689L356 689L348 675L357 666L369 665Z" fill="#2e2e2e" fill-opacity="0.55" stroke="none"/><path d="M374 674L367 687L355 688L346 673L356 665L368 664Z" fill="#848484"/><path d="M500 682L490 679L492 669L503 668L507 677Z" fill="#2e2e2e" fill-opacity="0.55" stroke="none"/><path d="M499 680L489 677L491 667L502 666L506 675Z" fill="#848484"/><path d="M337 454L329 450L329 440L341 436L350 443L345 453Z" fill="#2e2e2e" fill-opacity="0.55" stroke="none"/><path d="M336 453L328 448L328 438L340 435L349 442L344 452Z" fill="#7d7d7d"/><path d="M353 696L341 692L340 680L344 668L359 674L362 686Z" fill="#2e2e2e" fill-opacity="0.55" stroke="none"/><path d="M352 694L340 691L339 678L343 667L358 672L361 685Z" fill="#858585"/><path d="M345 673L344 697L350 697L351 673Z" fill="#2e2e2e" fill-opacity="0.55" stroke="none"/><path d="M344 671L343 696L349 696L350 671Z" fill="#989898"/><path d="M416 441L425 434L433 430L436 441L433 448L424 447Z" fill="#2e2e2e" fill-opacity="0.55" stroke="none"/><path d="M414 440L424 432L432 428L435 439L432 447L423 445Z" fill="#7e7e7e"/><path d="M412 460L401 462L396 451L399 438L416 436L423 449Z" fill="#2e2e2e" fill-opacity="0.55" stroke="none"/><path d="M411 459L400 461L395 449L397 437L415 435L422 448Z" fill="#797979"/><path d="M399 570L388 574L379 575L374 565L378 554L391 551L398 560Z" fill="#2e2e2e" fill-opacity="0.55" stroke="none"/><path d="M398 569L387 573L378 573L373 564L377 552L390 549L396 559Z" fill="#757575"/><path d="M336 665L334 652L346 644L359 646L357 661L348 674Z" fill="#2e2e2e" fill-opacity="0.55" stroke="none"/><path d="M335 663L333 651L345 642L358 644L355 659L346 673Z" fill="#787878"/><path d="M484 592L484 581L485 570L495 570L503 575L503 584L499 595Z" fill="#2e2e2e" fill-opacity="0.55" stroke="none"/><path d="M483 591L483 579L484 569L494 568L501 574L502 582L498 594Z" fill="#747474"/><path d="M334 488L328 491L322 485L323 476L331 477L335 481Z" fill="#2e2e2e" fill-opacity="0.55" stroke="none"/><path d="M333 487L327 489L321 483L321 474L330 476L334 479Z" fill="#7d7d7d"/><path d="M430 469L435 457L445 456L453 465L447 471L439 472Z" fill="#2e2e2e" fill-opacity="0.55" stroke="none"/><path d="M429 467L434 456L444 454L452 463L446 469L438 471Z" fill="#787878"/><path d="M325 535L321 518L329 508L341 512L349 524L338 529Z" fill="#2e2e2e" fill-opacity="0.55" stroke="none"/><path d="M324 533L320 517L327 507L339 511L347 522L337 528Z" fill="#828282"/><path d="M363 589L370 580L376 576L385 581L388 591L378 595L371 597Z" fill="#2e2e2e" fill-opacity="0.55" stroke="none"/><path d="M362 588L369 579L374 574L384 579L387 589L377 593L369 595Z" fill="#7c7c7c"/><path d="M429 514L421 512L419 505L420 499L429 500L432 507Z" fill="#2e2e2e" fill-opacity="0.55" stroke="none"/><path d="M428 512L420 510L417 503L419 497L428 498L431 505Z" fill="#7a7a7a"/><path d="M453 530L444 524L446 514L452 508L461 511L467 516L464 526Z" fill="#2e2e2e" fill-opacity="0.55" stroke="none"/><path d="M452 528L443 523L445 512L450 506L460 509L465 515L462 524Z" fill="#7a7a7a"/><path d="M366 486L377 472L394 478L391 494L378 499Z" fill="#2e2e2e" fill-opacity="0.55" stroke="none"/><path d="M365 485L376 470L393 476L390 492L377 497Z" fill="#808080"/><path d="M483 574L473 562L482 548L499 554L495 568Z" fill="#2e2e2e" fill-opacity="0.55" stroke="none"/><path d="M482 573L471 561L481 546L498 552L494 567Z" fill="#747474"/><path d="M532 556L520 554L518 542L528 532L541 539L539 549Z" fill="#2e2e2e" fill-opacity="0.55" stroke="none"/><path d="M530 554L519 553L517 540L527 531L540 538L537 548Z" fill="#818181"/><path d="M408 665L392 666L393 650L402 640L415 645L422 661Z" fill="#2e2e2e" fill-opacity="0.55" stroke="none"/><path d="M407 664L391 664L391 648L401 638L414 643L421 659Z" fill="#777777"/><path d="M433 644L423 647L418 638L421 632L428 625L434 628L440 637Z" fill="#2e2e2e" fill-opacity="0.55" stroke="none"/><path d="M431 642L422 646L417 637L420 630L427 624L433 627L438 635Z" fill="#7a7a7a"/><path d="M422 629L436 647L440 644L426 626Z" fill="#2e2e2e" fill-opacity="0.55" stroke="none"/><path d="M421 628L435 645L439 642L425 625Z" fill="#9e9e9e"/><path d="M339 528L337 520L338 514L347 510L349 519L347 526Z" fill="#2e2e2e" fill-opacity="0.55" stroke="none"/><path d="M338 526L336 518L337 512L346 509L348 517L346 524Z" fill="#858585"/><path d="M396 686L391 669L403 661L416 670L409 684Z" fill="#2e2e2e" fill-opacity="0.55" stroke="none"/><path d="M395 685L390 667L402 660L415 669L408 682Z" fill="#838383"/><path d="M374 637L375 630L382 620L390 628L389 636L383 640Z" fill="#2e2e2e" fill-opacity="0.55" stroke="none"/><path d="M373 635L374 628L380 618L388 626L388 634L382 638Z" fill="#7d7d7d"/><path d="M388 616L377 639L380 640L391 617Z" fill="#2e2e2e" fill-opacity="0.55" stroke="none"/><path d="M387 614L375 637L378 639L390 616Z" fill="#9c9c9c"/><path d="M303 492L300 484L303 477L311 480L310 487Z" fill="#2e2e2e" fill-opacity="0.55" stroke="none"/><path d="M302 490L299 483L302 475L310 479L309 485Z" fill="#787878"/><path d="M309 542L305 535L311 526L316 530L322 535L316 540Z" fill="#2e2e2e" fill-opacity="0.55" stroke="none"/><path d="M308 540L304 533L309 525L315 528L321 534L315 538Z" fill="#797979"/><path d="M493 606L476 602L473 586L489 577L506 578L508 598Z" fill="#2e2e2e" fill-opacity="0.55" stroke="none"/><path d="M492 605L475 600L472 584L488 575L505 577L507 596Z" fill="#7a7a7a"/><path d="M445 628L437 635L429 631L426 623L434 620L439 621Z" fill="#2e2e2e" fill-opacity="0.55" stroke="none"/><path d="M444 627L436 633L427 629L424 622L433 618L438 620Z" fill="#7a7a7a"/><path d="M321 451L328 440L342 442L343 453L334 464Z" fill="#2e2e2e" fill-opacity="0.55" stroke="none"/><path d="M320 450L327 438L341 440L341 452L332 463Z" fill="#7e7e7e"/><path d="M277 460L279 448L283 439L298 435L307 445L302 458L292 465Z" fill="#2e2e2e" fill-opacity="0.55" stroke="none"/><path d="M275 458L278 446L282 437L297 434L306 443L301 457L291 463Z" fill="#747474"/><path d="M316 697L306 692L297 683L308 678L316 676L324 687Z" fill="#2e2e2e" fill-opacity="0.55" stroke="none"/><path d="M314 695L305 690L295 682L306 676L315 674L322 685Z" fill="#7d7d7d"/><path d="M558 505L546 517L533 516L520 504L533 495L546 496Z" fill="#2e2e2e" fill-opacity="0.55" stroke="none"/><path d="M556 503L545 516L531 515L519 503L532 494L545 494Z" fill="#7c7c7c"/><path d="M446 512L451 508L458 503L464 511L460 521L449 522Z" fill="#2e2e2e" fill-opacity="0.55" stroke="none"/><path d="M445 511L449 506L457 502L463 509L459 519L448 520Z" fill="#7b7b7b"/><path d="M492 663L488 656L494 652L499 648L504 652L507 659L500 665Z" fill="#2e2e2e" fill-opacity="0.55" stroke="none"/><path d="M491 662L487 655L493 650L498 646L503 651L506 657L498 663Z" fill="#7e7e7e"/><path d="M450 679L446 674L443 665L452 663L461 665L457 675Z" fill="#2e2e2e" fill-opacity="0.55" stroke="none"/><path d="M449 677L445 673L442 663L451 662L459 664L456 674Z" fill="#787878"/><path d="M443 600L435 600L433 593L437 585L446 587L448 595Z" fill="#2e2e2e" fill-opacity="0.55" stroke="none"/><path d="M441 599L434 598L432 591L436 584L445 585L447 593Z" fill="#848484"/><path d="M534 686L520 678L522 665L530 650L542 662L549 675Z" fill="#2e2e2e" fill-opacity="0.55" stroke="none"/><path d="M533 685L519 676L520 664L529 648L540 660L547 674Z" fill="#838383"/><path d="M458 459L449 454L452 444L460 442L467 448L464 455Z" fill="#2e2e2e" fill-opacity="0.55" stroke="none"/><path d="M457 457L448 453L451 443L459 441L466 446L463 453Z" fill="#767676"/><path d="M420 464L413 474L402 471L393 462L401 446L416 451Z" fill="#2e2e2e" fill-opacity="0.55" stroke="none"/><path d="M419 462L412 472L401 470L391 461L400 445L415 450Z" fill="#787878"/><path d="M304 647L308 629L318 621L331 627L333 641L321 651Z" fill="#2e2e2e" fill-opacity="0.55" stroke="none"/><path d="M303 645L306 627L317 619L330 625L332 640L320 650Z" fill="#808080"/><path d="M518 544L517 534L527 532L536 539L532 546L523 554Z" fill="#2e2e2e" fill-opacity="0.55" stroke="none"/><path d="M517 542L516 532L526 531L535 538L531 545L522 552Z" fill="#818181"/><path d="M503 681L489 681L487 664L499 664L506 672Z" fill="#2e2e2e" fill-opacity="0.55" stroke="none"/><path d="M502 680L488 679L486 662L498 662L505 670Z" fill="#7f7f7f"/><path d="M382 685L382 671L395 669L407 672L409 686L394 694Z" fill="#2e2e2e" fill-opacity="0.55" stroke="none"/><path d="M381 683L381 670L394 667L405 670L407 685L393 692Z" fill="#767676"/><path d="M514 504L521 490L536 492L541 503L539 514L524 515Z" fill="#2e2e2e" fill-opacity="0.55" stroke="none"/><path d="M513 502L520 489L535 491L540 502L538 512L523 514Z" fill="#848484"/><path d="M403 477L405 464L419 462L426 475L412 485Z" fill="#2e2e2e" fill-opacity="0.55" stroke="none"/><path d="M402 475L403 462L417 460L425 473L411 484Z" fill="#787878"/><path d="M438 517L428 512L436 500L446 504L445 514Z" fill="#2e2e2e" fill-opacity="0.55" stroke="none"/><path d="M436 515L427 510L435 498L445 502L444 512Z" fill="#777777"/><path d="M433 500L459 514L460 511L435 498Z" fill="#2e2e2e" fill-opacity="0.55" stroke="none"/><path d="M432 499L457 512L459 509L434 496Z" fill="#a4a4a4"/><path d="M446 659L434 647L445 631L459 638L460 651Z" fill="#2e2e2e" fill-opacity="0.55" stroke="none"/><path d="M445 657L432 645L443 629L457 636L459 650Z" fill="#858585"/><path d="M411 545L403 537L410 527L420 533L422 543Z" fill="#2e2e2e" fill-opacity="0.55" stroke="none"/><path d="M410 543L402 535L409 525L419 531L421 541Z" fill="#808080"/><path d="M345 496L340 500L333 493L337 485L344 490Z" fill="#2e2e2e" fill-opacity="0.55" stroke="none"/><path d="M344 494L338 498L332 492L335 484L343 488Z" fill="#808080"/><path d="M477 474L466 473L458 466L466 459L476 452L484 462Z" fill="#2e2e2e" fill-opacity="0.55" stroke="none"/><path d="M475 473L465 472L457 465L465 457L475 450L482 460Z" fill="#7d7d7d"/><path d="M433 491L430 482L436 477L441 480L448 483L444 491L439 495Z" fill="#2e2e2e" fill-opacity="0.55" stroke="none"/><path d="M431 489L429 480L435 475L440 478L447 482L443 489L438 494Z" fill="#787878"/><path d="M496 564L487 568L483 556L493 550L500 556Z" fill="#2e2e2e" fill-opacity="0.55" stroke="none"/><path d="M495 562L486 566L482 554L492 548L499 554Z" fill="#757575"/><path d="M494 548L496 567L500 567L497 548Z" fill="#2e2e2e" fill-opacity="0.55" stroke="none"/><path d="M493 547L495 566L498 565L496 546Z" fill="#9a9a9a"/><path d="M467 478L477 466L490 464L500 476L494 490L479 492Z" fill="#2e2e2e" fill-opacity="0.55" stroke="none"/><path d="M465 477L476 465L488 462L499 474L493 489L477 490Z" fill="#767676"/><path d="M521 559L509 560L502 552L503 538L515 542L524 547Z" fill="#2e2e2e" fill-opacity="0.55" stroke="none"/><path d="M520 557L508 559L501 550L502 537L514 540L523 546Z" fill="#7d7d7d"/><path d="M352 617L354 602L367 597L371 609L367 622Z" fill="#2e2e2e" fill-opacity="0.55" stroke="none"/><path d="M351 615L353 601L366 596L370 607L366 620Z" fill="#767676"/><path d="M350 609L365 619L367 616L353 606Z" fill="#2e2e2e" fill-opacity="0.55" stroke="none"/><path d="M349 607L364 618L366 615L351 604Z" fill="#9e9e9e"/><path d="M368 510L359 520L345 512L349 499L365 496Z" fill="#2e2e2e" fill-opacity="0.55" stroke="none"/><path d="M367 508L358 518L344 511L347 497L364 495Z" fill="#757575"/><path d="M331 448L322 450L319 444L321 435L328 433L335 439Z" fill="#2e2e2e" fill-opacity="0.55" stroke="none"/><path d="M330 446L321 448L318 442L320 434L327 431L334 438Z" fill="#7b7b7b"/><path d="M295 617L290 606L298 599L308 604L312 614L303 619Z" fill="#2e2e2e" fill-opacity="0.55" stroke="none"/><path d="M294 616L288 604L297 597L307 602L311 612L302 617Z" fill="#787878"/><path d="M357 692L359 681L364 673L371 676L379 682L378 692L366 696Z" fill="#2e2e2e" fill-opacity="0.55" stroke="none"/><path d="M356 690L358 680L363 672L370 674L378 681L377 690L365 694Z" fill="#7e7e7e"/><path d="M478 688L470 679L471 670L478 663L488 669L489 681Z" fill="#2e2e2e" fill-opacity="0.55" stroke="none"/><path d="M477 686L469 677L470 669L477 661L487 667L488 680Z" fill="#7f7f7f"/><path d="M484 534L470 548L455 537L458 517L475 516Z" fill="#2e2e2e" fill-opacity="0.55" stroke="none"/><path d="M483 533L469 546L453 536L457 516L474 514Z" fill="#808080"/><path d="M471 464L460 454L458 441L468 429L482 437L480 452Z" fill="#2e2e2e" fill-opacity="0.55" stroke="none"/><path d="M470 463L459 452L457 440L466 427L480 435L479 451Z" fill="#787878"/><path d="M516 676L515 666L523 664L531 667L525 676Z" fill="#2e2e2e" fill-opacity="0.55" stroke="none"/><path d="M515 674L513 664L521 662L529 666L524 674Z" fill="#828282"/><path d="M499 531L492 540L480 538L480 527L485 519L494 522Z" fill="#2e2e2e" fill-opacity="0.55" stroke="none"/><path d="M498 529L491 539L479 536L478 526L483 517L493 520Z" fill="#7e7e7e"/><path d="M309 504L294 498L301 482L315 480L321 494Z" fill="#2e2e2e" fill-opacity="0.55" stroke="none"/><path d="M308 502L292 497L300 480L313 478L319 493Z" fill="#848484"/><path d="M429 538L423 538L420 532L425 526L430 523L435 528L437 535Z" fill="#2e2e2e" fill-opacity="0.55" stroke="none"/><path d="M428 536L422 537L419 531L423 524L428 521L433 526L436 533Z" fill="#828282"/><path d="M479 567L471 563L471 554L476 550L482 551L485 559Z" fill="#2e2e2e" fill-opacity="0.55" stroke="none"/><path d="M478 566L469 562L470 553L475 548L481 549L484 557Z" fill="#7a7a7a"/><path d="M458 663L465 655L473 648L482 660L476 669L466 670Z" fill="#2e2e2e" fill-opacity="0.55" stroke="none"/><path d="M457 661L463 653L472 647L481 658L474 668L465 668Z" fill="#7b7b7b"/><path d="M464 652L485 673L488 671L467 649Z" fill="#2e2e2e" fill-opacity="0.55" stroke="none"/><path d="M463 650L484 672L486 669L466 648Z" fill="#a5a5a5"/><path d="M392 535L385 545L372 546L366 532L376 522L388 522Z" fill="#2e2e2e" fill-opacity="0.55" stroke="none"/><path d="M391 533L383 544L370 545L365 530L375 520L387 521Z" fill="#818181"/><path d="M451 455L443 463L438 452L441 442L452 445Z" fill="#2e2e2e" fill-opacity="0.55" stroke="none"/><path d="M450 454L441 461L437 450L440 440L451 443Z" fill="#767676"/><path d="M521 660L515 671L502 672L495 664L499 655L506 648L515 653Z" fill="#2e2e2e" fill-opacity="0.55" stroke="none"/><path d="M520 659L514 670L501 670L493 663L498 654L505 646L514 652Z" fill="#848484"/><path d="M345 634L352 625L362 623L368 632L363 640L354 644Z" fill="#2e2e2e" fill-opacity="0.55" stroke="none"/><path d="M344 633L351 623L361 622L367 630L361 638L353 642Z" fill="#838383"/><path d="M340 603L328 597L335 585L341 578L350 580L353 589L351 598Z" fill="#2e2e2e" fill-opacity="0.55" stroke="none"/><path d="M339 601L327 595L333 583L340 577L349 579L351 587L350 597Z" fill="#848484"/><path d="M452 554L456 541L472 543L472 555L461 564Z" fill="#2e2e2e" fill-opacity="0.55" stroke="none"/><path d="M451 552L455 540L470 541L471 554L460 563Z" fill="#818181"/><path d="M491 529L488 537L478 532L475 523L484 519L492 522Z" fill="#2e2e2e" fill-opacity="0.55" stroke="none"/><path d="M490 527L487 535L476 530L474 522L483 518L491 520Z" fill="#7e7e7e"/><path d="M401 664L387 670L373 657L379 647L387 641L402 639L408 650Z" fill="#2e2e2e" fill-opacity="0.55" stroke="none"/><path d="M400 662L386 668L372 655L378 646L386 639L400 638L407 649Z" fill="#7f7f7f"/><path d="M319 542L312 529L309 517L322 511L337 514L337 533Z" fill="#2e2e2e" fill-opacity="0.55" stroke="none"/><path d="M318 540L311 528L308 515L320 510L335 513L336 531Z" fill="#7c7c7c"/><path d="M466 519L460 518L457 515L453 509L459 506L464 507L468 511Z" fill="#2e2e2e" fill-opacity="0.55" stroke="none"/><path d="M465 517L459 516L455 513L452 508L458 505L463 506L467 509Z" fill="#787878"/><path d="M458 510L466 526L470 524L462 508Z" fill="#2e2e2e" fill-opacity="0.55" stroke="none"/><path d="M456 508L465 525L469 522L461 506Z" fill="#949494"/><path d="M451 507L455 498L462 497L465 503L462 511Z" fill="#2e2e2e" fill-opacity="0.55" stroke="none"/><path d="M449 505L453 496L461 495L463 501L461 509Z" fill="#7a7a7a"/><path d="M515 628L505 626L503 616L512 612L520 616L522 626Z" fill="#2e2e2e" fill-opacity="0.55" stroke="none"/><path d="M514 626L504 624L501 614L511 611L519 615L521 624Z" fill="#7e7e7e"/><path d="M431 455L426 466L410 461L404 450L414 440L427 444Z" fill="#2e2e2e" fill-opacity="0.55" stroke="none"/><path d="M430 453L425 465L409 459L402 449L413 438L426 442Z" fill="#747474"/><path d="M379 593L369 599L362 594L358 585L366 580L375 582Z" fill="#2e2e2e" fill-opacity="0.55" stroke="none"/><path d="M378 591L368 597L361 592L356 583L365 578L374 580Z" fill="#7a7a7a"/><path d="M377 561L372 564L363 562L361 554L370 547L379 551Z" fill="#2e2e2e" fill-opacity="0.55" stroke="none"/><path d="M376 560L370 563L362 561L360 552L369 545L378 549Z" fill="#808080"/><path d="M306 627L293 624L291 611L303 605L313 617Z" fill="#2e2e2e" fill-opacity="0.55" stroke="none"/><path d="M305 625L292 623L290 609L302 604L312 615Z" fill="#828282"/><path d="M404 511L394 518L384 512L382 499L394 492L405 499Z" fill="#2e2e2e" fill-opacity="0.55" stroke="none"/><path d="M403 510L393 516L383 511L381 498L393 490L404 498Z" fill="#767676"/><path d="M485 447L477 450L471 450L471 443L475 438L481 441Z" fill="#2e2e2e" fill-opacity="0.55" stroke="none"/><path d="M484 445L476 448L470 448L470 441L474 437L480 439Z" fill="#797979"/><path d="M358 582L347 578L350 569L356 562L366 562L377 572L369 583Z" fill="#2e2e2e" fill-opacity="0.55" stroke="none"/><path d="M357 580L346 576L349 568L355 560L365 561L375 571L367 581Z" fill="#838383"/><path d="M456 646L445 644L438 636L445 624L457 625L460 635Z" fill="#2e2e2e" fill-opacity="0.55" stroke="none"/><path d="M454 645L443 643L437 634L443 622L456 624L459 633Z" fill="#808080"/><path d="M425 497L427 488L430 484L435 485L442 490L438 495L432 499Z" fill="#2e2e2e" fill-opacity="0.55" stroke="none"/><path d="M424 495L426 487L429 483L434 484L441 488L437 493L430 498Z" fill="#808080"/><path d="M485 521L486 511L496 506L501 516L495 526Z" fill="#2e2e2e" fill-opacity="0.55" stroke="none"/><path d="M484 519L485 510L495 504L500 515L494 524Z" fill="#818181"/><path d="M374 464L367 466L361 460L366 454L376 456Z" fill="#2e2e2e" fill-opacity="0.55" stroke="none"/><path d="M373 463L366 464L360 458L365 452L374 454Z" fill="#7d7d7d"/><path d="M503 450L488 454L477 441L486 432L495 426L507 435Z" fill="#2e2e2e" fill-opacity="0.55" stroke="none"/><path d="M502 449L486 452L475 440L484 431L494 424L506 434Z" fill="#767676"/><path d="M387 666L373 669L369 650L382 640L396 645L396 659Z" fill="#2e2e2e" fill-opacity="0.55" stroke="none"/><path d="M386 665L372 667L368 648L381 638L395 643L395 658Z" fill="#7b7b7b"/><path d="M384 641L383 664L387 665L388 641Z" fill="#2e2e2e" fill-opacity="0.55" stroke="none"/><path d="M383 639L382 663L386 663L387 640Z" fill="#a6a6a6"/><path d="M405 561L396 568L386 557L393 548L403 547L408 552Z" fill="#2e2e2e" fill-opacity="0.55" stroke="none"/><path d="M403 560L395 566L384 556L391 546L402 545L407 550Z" fill="#818181"/><path d="M505 498L499 503L492 503L487 497L492 491L501 487Z" fill="#2e2e2e" fill-opacity="0.55" stroke="none"/><path d="M504 496L497 502L491 502L485 495L491 489L500 485Z" fill="#808080"/><path d="M439 568L433 568L431 561L435 554L443 556L442 564Z" fill="#2e2e2e" fill-opacity="0.55" stroke="none"/><path d="M438 567L432 566L429 559L434 552L442 555L441 563Z" fill="#7e7e7e"/><path d="M445 593L442 586L442 579L450 578L455 582L453 589Z" fill="#2e2e2e" fill-opacity="0.55" stroke="none"/><path d="M443 591L440 584L440 577L449 577L454 580L452 588Z" fill="#818181"/><path d="M417 551L407 549L404 541L410 534L416 538L419 543Z" fill="#2e2e2e" fill-opacity="0.55" stroke="none"/><path d="M415 550L406 548L403 540L408 532L415 536L418 542Z" fill="#787878"/><path d="M334 489L326 481L338 470L351 471L361 477L357 494L343 493Z" fill="#2e2e2e" fill-opacity="0.55" stroke="none"/><path d="M333 487L325 480L337 469L349 469L360 476L356 493L342 492Z" fill="#828282"/><path d="M542 442L533 447L527 438L528 431L533 423L545 426L549 437Z" fill="#2e2e2e" fill-opacity="0.55" stroke="none"/><path d="M540 441L532 445L525 437L527 430L532 421L544 425L548 435Z" fill="#7f7f7f"/><path d="M313 439L320 425L330 431L333 443L319 450Z" fill="#2e2e2e" fill-opacity="0.55" stroke="none"/><path d="M312 438L318 423L329 430L332 442L318 449Z" fill="#767676"/><path d="M447 689L439 695L434 687L433 680L439 678L446 680Z" fill="#2e2e2e" fill-opacity="0.55" stroke="none"/><path d="M446 687L438 693L433 685L432 678L438 677L445 678Z" fill="#808080"/><path d="M320 474L322 462L330 458L339 462L342 469L340 478L328 479Z" fill="#2e2e2e" fill-opacity="0.55" stroke="none"/><path d="M319 472L321 460L329 456L338 460L341 467L339 476L327 477Z" fill="#848484"/><path d="M542 674L534 681L526 677L526 668L533 662L543 665Z" fill="#2e2e2e" fill-opacity="0.55" stroke="none"/><path d="M540 673L533 679L525 676L525 666L532 661L542 664Z" fill="#747474"/><path d="M318 615L311 601L322 594L331 603L330 613Z" fill="#2e2e2e" fill-opacity="0.55" stroke="none"/><path d="M317 613L310 600L321 592L330 602L329 612Z" fill="#797979"/><path d="M491 650L481 658L470 655L469 640L478 630L491 637Z" fill="#2e2e2e" fill-opacity="0.55" stroke="none"/><path d="M490 648L479 657L469 653L468 638L477 628L490 635Z" fill="#858585"/><path d="M373 496L359 504L344 499L342 483L356 477L366 484Z" fill="#2e2e2e" fill-opacity="0.55" stroke="none"/><path d="M372 495L358 502L343 497L341 482L354 475L364 483Z" fill="#797979"/><path d="M347 470L360 497L363 496L351 469Z" fill="#2e2e2e" fill-opacity="0.55" stroke="none"/><path d="M346 469L358 496L362 494L349 467Z" fill="#a7a7a7"/><path d="M367 485L358 487L353 483L353 476L359 472L367 475Z" fill="#2e2e2e" fill-opacity="0.55" stroke="none"/><path d="M366 484L356 485L352 481L352 474L357 470L366 474Z" fill="#7f7f7f"/><path d="M459 592L457 584L456 574L466 574L469 582L470 590Z" fill="#2e2e2e" fill-opacity="0.55" stroke="none"/><path d="M458 590L456 582L455 573L464 572L468 580L469 588Z" fill="#797979"/><path d="M351 577L352 568L359 560L368 569L363 580Z" fill="#2e2e2e" fill-opacity="0.55" stroke="none"/><path d="M350 575L351 566L358 559L367 567L362 579Z" fill="#838383"/><path d="M377 490L369 489L361 486L361 480L366 473L376 473L380 482Z" fill="#2e2e2e" fill-opacity="0.55" stroke="none"/><path d="M376 488L368 488L359 485L360 478L365 471L375 471L379 480Z" fill="#818181"/><path d="M325 527L314 529L308 516L315 509L332 506L337 522Z" fill="#2e2e2e" fill-opacity="0.55" stroke="none"/><path d="M323 525L312 527L307 514L314 507L331 504L336 521Z" fill="#787878"/><path d="M445 611L437 620L426 624L418 616L418 606L430 602L442 601Z" fill="#2e2e2e" fill-opacity="0.55" stroke="none"/><path d="M444 610L436 619L425 622L416 615L417 604L429 601L441 599Z" fill="#7d7d7d"/><path d="M340 604L341 591L345 581L360 583L365 593L364 606L350 614Z" fill="#2e2e2e" fill-opacity="0.55" stroke="none"/><path d="M339 603L340 589L344 580L359 581L363 591L363 604L349 612Z" fill="#797979"/><path d="M520 552L503 558L495 544L502 530L518 535Z" fill="#2e2e2e" fill-opacity="0.55" stroke="none"/><path d="M518 551L502 557L494 543L501 529L516 533Z" fill="#858585"/><path d="M525 632L520 626L526 620L535 619L536 626L535 635Z" fill="#2e2e2e" fill-opacity="0.55" stroke="none"/><path d="M524 631L519 625L524 618L534 618L534 625L534 634Z" fill="#777777"/><path d="M342 456L332 459L329 451L327 443L336 444L341 449Z" fill="#2e2e2e" fill-opacity="0.55" stroke="none"/><path d="M341 455L331 458L327 450L326 441L335 442L340 447Z" fill="#808080"/><path d="M494 548L485 553L481 545L477 536L489 534L499 538Z" fill="#2e2e2e" fill-opacity="0.55" stroke="none"/><path d="M492 546L483 551L479 543L476 534L488 533L497 536Z" fill="#747474"/><path d="M294 625L294 613L306 615L316 620L312 633L299 633Z" fill="#2e2e2e" fill-opacity="0.55" stroke="none"/><path d="M293 623L292 612L305 614L315 618L311 631L298 631Z" fill="#797979"/><path d="M389 552L376 554L368 546L371 533L384 536L394 542Z" fill="#2e2e2e" fill-opacity="0.55" stroke="none"/><path d="M388 550L375 553L366 544L370 531L383 534L393 541Z" fill="#7c7c7c"/><path d="M330 641L324 630L329 616L343 615L351 628L343 639Z" fill="#2e2e2e" fill-opacity="0.55" stroke="none"/><path d="M329 639L323 629L328 615L341 614L350 627L342 638Z" fill="#7f7f7f"/><path d="M477 491L478 483L484 477L492 481L492 489L487 493Z" fill="#2e2e2e" fill-opacity="0.55" stroke="none"/><path d="M476 490L477 481L483 475L491 479L490 487L485 491Z" fill="#848484"/><path d="M444 660L436 652L433 644L439 636L449 635L459 641L455 653Z" fill="#2e2e2e" fill-opacity="0.55" stroke="none"/><path d="M443 658L435 651L432 642L438 635L448 633L457 640L454 651Z" fill="#7f7f7f"/><path d="M411 624L411 616L415 613L421 613L424 616L424 624L418 627Z" fill="#2e2e2e" fill-opacity="0.55" stroke="none"/><path d="M409 622L410 615L414 611L420 612L423 615L423 622L417 625Z" fill="#828282"/><path d="M318 690L308 697L297 690L301 677L316 674Z" fill="#2e2e2e" fill-opacity="0.55" stroke="none"/><path d="M317 688L307 695L295 689L300 676L314 673Z" fill="#828282"/><path d="M460 535L460 522L471 517L483 524L483 538L472 546Z" fill="#2e2e2e" fill-opacity="0.55" stroke="none"/><path d="M458 534L459 521L470 515L482 523L482 536L471 544Z" fill="#797979"/><path d="M289 454L290 443L303 433L313 450L299 459Z" fill="#2e2e2e" fill-opacity="0.55" stroke="none"/><path d="M288 452L288 441L302 431L311 449L298 457Z" fill="#747474"/><path d="M411 486L405 476L408 463L420 462L426 471L422 485Z" fill="#2e2e2e" fill-opacity="0.55" stroke="none"/><path d="M410 484L404 475L407 461L419 460L425 470L421 484Z" fill="#7f7f7f"/><path d="M413 470L413 485L419 485L419 470Z" fill="#2e2e2e" fill-opacity="0.55" stroke="none"/><path d="M412 469L412 483L417 483L418 469Z" fill="#909090"/><path d="M460 482L445 488L432 481L433 468L446 458L456 471Z" fill="#2e2e2e" fill-opacity="0.55" stroke="none"/><path d="M459 480L444 486L431 479L432 467L445 456L455 470Z" fill="#7c7c7c"/><path d="M384 577L369 591L357 576L358 563L372 561Z" fill="#2e2e2e" fill-opacity="0.55" stroke="none"/><path d="M383 576L368 589L355 574L357 562L371 560Z" fill="#848484"/><path d="M282 495L279 483L291 478L297 487L296 495L289 501Z" fill="#2e2e2e" fill-opacity="0.55" stroke="none"/><path d="M281 494L278 482L290 476L296 485L295 494L288 500Z" fill="#7f7f7f"/><path d="M410 449L405 436L413 431L422 426L430 434L430 446L419 448Z" fill="#2e2e2e" fill-opacity="0.55" stroke="none"/><path d="M409 447L403 434L411 429L421 425L429 432L429 444L418 446Z" fill="#7b7b7b"/><path d="M333 489L324 473L336 463L351 466L344 481Z" fill="#2e2e2e" fill-opacity="0.55" stroke="none"/><path d="M332 487L322 471L335 461L350 465L343 480Z" fill="#7e7e7e"/><path d="M438 505L425 503L428 490L435 482L450 484L447 500Z" fill="#2e2e2e" fill-opacity="0.55" stroke="none"/><path d="M437 504L424 502L427 488L434 481L449 483L446 498Z" fill="#7e7e7e"/><path d="M462 528L467 523L475 518L480 525L480 533L474 538L467 535Z" fill="#2e2e2e" fill-opacity="0.55" stroke="none"/><path d="M461 526L466 521L474 517L479 523L479 531L473 537L466 533Z" fill="#7c7c7c"/><path d="M364 647L364 631L379 626L390 637L379 654Z" fill="#2e2e2e" fill-opacity="0.55" stroke="none"/><path d="M363 645L363 630L377 624L389 636L378 653Z" fill="#858585"/><path d="M376 528L368 537L358 535L354 523L363 514L374 519Z" fill="#2e2e2e" fill-opacity="0.55" stroke="none"/><path d="M374 527L367 535L357 533L353 522L362 513L373 517Z" fill="#818181"/><path d="M368 513L369 539L373 539L371 513Z" fill="#2e2e2e" fill-opacity="0.55" stroke="none"/><path d="M366 511L368 538L371 537L370 511Z" fill="#9d9d9d"/><path d="M423 447L418 440L426 434L434 434L437 443L430 447Z" fill="#2e2e2e" fill-opacity="0.55" stroke="none"/><path d="M422 445L417 439L425 433L433 432L435 441L429 446Z" fill="#818181"/><path d="M332 521L332 513L334 505L341 506L346 514L341 519Z" fill="#2e2e2e" fill-opacity="0.55" stroke="none"/><path d="M330 520L331 512L333 504L340 505L344 512L340 518Z" fill="#828282"/><path d="M478 485L463 480L463 466L476 465L485 475Z" fill="#2e2e2e" fill-opacity="0.55" stroke="none"/><path d="M477 483L462 478L462 464L475 464L484 474Z" fill="#7c7c7c"/><path d="M391 685L392 678L399 674L408 676L411 686L402 690L394 691Z" fill="#2e2e2e" fill-opacity="0.55" stroke="none"/><path d="M390 683L391 676L398 672L407 674L410 684L401 689L393 689Z" fill="#757575"/><path d="M325 513L316 509L313 501L315 488L324 491L334 496L334 509Z" fill="#2e2e2e" fill-opacity="0.55" stroke="none"/><path d="M324 511L314 508L312 499L314 487L323 490L333 494L333 508Z" fill="#848484"/><path d="M360 690L355 679L367 672L377 680L374 691Z" fill="#2e2e2e" fill-opacity="0.55" stroke="none"/><path d="M358 689L354 677L365 670L376 678L373 690Z" fill="#757575"/><path d="M438 583L440 577L442 572L448 572L453 577L451 584L445 584Z" fill="#2e2e2e" fill-opacity="0.55" stroke="none"/><path d="M437 581L439 575L441 571L447 571L451 575L449 583L444 582Z" fill="#7b7b7b"/><path d="M378 615L372 619L363 613L366 605L369 597L378 599L379 607Z" fill="#2e2e2e" fill-opacity="0.55" stroke="none"/><path d="M377 613L371 617L362 612L365 603L368 595L377 597L378 606Z" fill="#787878"/><path d="M430 444L418 448L406 440L415 428L427 424L435 433Z" fill="#2e2e2e" fill-opacity="0.55" stroke="none"/><path d="M429 443L417 447L404 438L414 427L426 422L434 432Z" fill="#747474"/><path d="M312 670L303 662L303 654L312 653L316 659Z" fill="#2e2e2e" fill-opacity="0.55" stroke="none"/><path d="M311 668L302 661L302 652L310 651L315 658Z" fill="#828282"/><path d="M287 572L297 557L309 559L313 570L312 582L298 579Z" fill="#2e2e2e" fill-opacity="0.55" stroke="none"/><path d="M286 570L296 556L308 558L312 568L310 580L297 577Z" fill="#858585"/><path d="M517 556L507 558L499 556L495 543L505 538L513 542L518 547Z" fill="#2e2e2e" fill-opacity="0.55" stroke="none"/><path d="M516 554L506 556L497 554L494 541L503 537L512 540L516 545Z" fill="#808080"/><path d="M382 562L370 562L368 551L377 543L386 552Z" fill="#2e2e2e" fill-opacity="0.55" stroke="none"/><path d="M381 560L369 560L366 549L376 542L385 550Z" fill="#777777"/><path d="M305 473L293 468L296 457L300 446L309 454L314 464Z" fill="#2e2e2e" fill-opacity="0.55" stroke="none"/><path d="M303 471L292 466L295 456L299 444L308 453L312 463Z" fill="#858585"/><path d="M304 454L293 458L284 448L284 436L298 433L308 442Z" fill="#2e2e2e" fill-opacity="0.55" stroke="none"/><path d="M303 453L292 456L283 447L282 435L297 431L307 441Z" fill="#7f7f7f"/><path d="M322 622L321 614L327 606L335 608L343 615L335 626Z" fill="#2e2e2e" fill-opacity="0.55" stroke="none"/><path d="M320 621L320 612L326 605L334 606L342 613L334 625Z" fill="#7d7d7d"/><path d="M342 607L327 610L328 614L343 611Z" fill="#2e2e2e" fill-opacity="0.55" stroke="none"/><path d="M341 605L326 608L327 612L342 609Z" fill="#9c9c9c"/><path d="M279 460L282 449L289 438L298 448L299 460L291 466Z" fill="#2e2e2e" fill-opacity="0.55" stroke="none"/><path d="M278 459L281 448L288 436L297 447L298 458L290 464Z" fill="#808080"/><path d="M503 615L493 609L495 599L501 589L516 595L514 610Z" fill="#2e2e2e" fill-opacity="0.55" stroke="none"/><path d="M502 614L491 608L494 597L500 587L515 593L513 608Z" fill="#797979"/><path d="M351 493L337 506L324 498L325 485L336 484Z" fill="#2e2e2e" fill-opacity="0.55" stroke="none"/><path d="M349 491L336 504L323 496L324 484L335 482Z" fill="#7b7b7b"/><path d="M351 494L323 496L323 499L351 497Z" fill="#2e2e2e" fill-opacity="0.55" stroke="none"/><path d="M350 493L322 495L322 498L350 496Z" fill="#9a9a9a"/><path d="M474 676L470 683L462 677L464 669L472 669Z" fill="#2e2e2e" fill-opacity="0.55" stroke="none"/><path d="M473 674L469 681L460 676L463 668L471 667Z" fill="#787878"/><path d="M455 449L446 444L444 436L448 425L460 430L466 442Z" fill="#2e2e2e" fill-opacity="0.55" stroke="none"/><path d="M454 447L445 442L442 434L447 423L458 428L465 440Z" fill="#747474"/><path d="M529 491L523 497L517 490L517 482L525 476L533 482Z" fill="#2e2e2e" fill-opacity="0.55" stroke="none"/><path d="M528 490L522 496L516 488L516 480L524 474L532 481Z" fill="#828282"/><path d="M470 570L466 574L462 577L455 571L456 565L462 562L468 564Z" fill="#2e2e2e" fill-opacity="0.55" stroke="none"/><path d="M469 568L465 572L460 575L454 570L455 564L461 561L467 563Z" fill="#7a7a7a"/><path d="M476 558L454 560L454 566L477 564Z" fill="#2e2e2e" fill-opacity="0.55" stroke="none"/><path d="M475 556L453 558L453 564L476 562Z" fill="#a5a5a5"/><path d="M495 491L484 477L489 462L504 460L510 469L509 484Z" fill="#2e2e2e" fill-opacity="0.55" stroke="none"/><path d="M493 489L483 476L488 460L503 458L509 468L508 483Z" fill="#787878"/><path d="M509 463L497 475L500 477L512 465Z" fill="#2e2e2e" fill-opacity="0.55" stroke="none"/><path d="M508 461L496 473L498 476L511 464Z" fill="#aeaeae"/><path d="M327 585L324 577L327 566L340 564L345 575L338 584Z" fill="#2e2e2e" fill-opacity="0.55" stroke="none"/><path d="M326 584L323 576L325 565L338 563L344 573L337 583Z" fill="#7c7c7c"/><path d="M331 564L319 573L323 578L334 568Z" fill="#2e2e2e" fill-opacity="0.55" stroke="none"/><path d="M330 562L318 572L321 576L333 567Z" fill="#a8a8a8"/><path d="M506 436L515 428L526 425L530 435L527 446L515 447Z" fill="#2e2e2e" fill-opacity="0.55" stroke="none"/><path d="M505 435L514 427L525 423L529 433L526 445L513 445Z" fill="#7d7d7d"/><path d="M504 505L501 497L505 488L516 485L524 491L523 505L514 506Z" fill="#2e2e2e" fill-opacity="0.55" stroke="none"/><path d="M503 503L500 495L504 487L515 483L523 489L522 504L513 505Z" fill="#848484"/><path d="M517 640L505 657L492 645L486 629L505 630Z" fill="#2e2e2e" fill-opacity="0.55" stroke="none"/><path d="M515 638L504 655L491 643L485 627L504 628Z" fill="#7d7d7d"/><path d="M464 573L451 559L461 546L474 539L479 553L477 563Z" fill="#2e2e2e" fill-opacity="0.55" stroke="none"/><path d="M463 571L450 558L460 544L473 538L478 552L476 561Z" fill="#787878"/><path d="M351 652L347 645L354 637L361 643L361 650L358 658Z" fill="#2e2e2e" fill-opacity="0.55" stroke="none"/><path d="M350 651L346 644L353 636L360 641L360 649L357 656Z" fill="#7d7d7d"/><path d="M295 507L293 489L302 473L317 486L312 498Z" fill="#2e2e2e" fill-opacity="0.55" stroke="none"/><path d="M294 505L292 488L301 472L316 484L311 497Z" fill="#858585"/><path d="M464 454L457 443L458 435L466 424L477 430L480 442L476 450Z" fill="#2e2e2e" fill-opacity="0.55" stroke="none"/><path d="M463 453L456 441L457 434L464 423L476 428L478 440L475 448Z" fill="#858585"/><path d="M420 498L417 504L411 499L409 493L414 490L421 490Z" fill="#2e2e2e" fill-opacity="0.55" stroke="none"/><path d="M419 496L416 502L409 498L408 491L413 488L420 488Z" fill="#777777"/><path d="M395 488L420 501L422 497L397 484Z" fill="#2e2e2e" fill-opacity="0.55" stroke="none"/><path d="M394 486L419 499L421 495L396 482Z" fill="#949494"/><path d="M426 559L412 556L407 542L409 528L426 527L431 543Z" fill="#2e2e2e" fill-opacity="0.55" stroke="none"/><path d="M425 557L411 554L406 541L407 526L425 526L430 542Z" fill="#787878"/><path d="M427 533L411 540L412 543L429 536Z" fill="#2e2e2e" fill-opacity="0.55" stroke="none"/><path d="M426 532L410 538L411 541L428 535Z" fill="#adadad"/><path d="M404 479L392 482L378 475L384 461L399 455L405 467Z" fill="#2e2e2e" fill-opacity="0.55" stroke="none"/><path d="M403 477L391 481L377 473L383 459L398 453L404 465Z" fill="#828282"/><path d="M376 615L365 612L366 598L379 598L385 607Z" fill="#2e2e2e" fill-opacity="0.55" stroke="none"/><path d="M375 614L364 610L365 596L378 597L384 606Z" fill="#858585"/><path d="M503 543L492 545L483 531L492 516L507 522L517 534Z" fill="#2e2e2e" fill-opacity="0.55" stroke="none"/><path d="M501 541L491 543L482 529L491 514L506 520L516 533Z" fill="#7c7c7c"/><path d="M326 624L313 626L303 613L309 601L324 597L331 613Z" fill="#2e2e2e" fill-opacity="0.55" stroke="none"/><path d="M325 623L311 625L302 612L308 599L323 595L330 612Z" fill="#7f7f7f"/><path d="M524 676L520 666L528 660L541 657L543 673L533 677Z" fill="#2e2e2e" fill-opacity="0.55" stroke="none"/><path d="M523 675L519 665L527 658L540 655L541 671L532 676Z" fill="#797979"/><path d="M412 472L404 482L393 471L387 458L401 454L414 456Z" fill="#2e2e2e" fill-opacity="0.55" stroke="none"/><path d="M410 470L403 480L391 469L386 457L400 452L413 454Z" fill="#7a7a7a"/><path d="M517 450L511 437L524 433L535 434L539 449L526 461Z" fill="#2e2e2e" fill-opacity="0.55" stroke="none"/><path d="M515 448L510 436L522 431L534 433L538 447L524 459Z" fill="#757575"/><path d="M409 597L406 605L397 604L393 595L398 586L408 589Z" fill="#2e2e2e" fill-opacity="0.55" stroke="none"/><path d="M408 596L404 604L395 603L392 593L397 585L406 587Z" fill="#7b7b7b"/><path d="M374 688L364 690L353 688L352 675L362 670L373 675Z" fill="#2e2e2e" fill-opacity="0.55" stroke="none"/><path d="M373 686L362 688L351 686L350 674L361 669L372 673Z" fill="#848484"/><path d="M354 685L377 690L378 686L355 681Z" fill="#2e2e2e" fill-opacity="0.55" stroke="none"/><path d="M352 683L375 689L376 685L353 679Z" fill="#999999"/><path d="M346 523L335 514L340 503L351 491L359 502L362 516Z" fill="#2e2e2e" fill-opacity="0.55" stroke="none"/><path d="M345 521L334 512L339 501L350 489L357 501L361 515Z" fill="#848484"/><path d="M524 606L512 604L508 590L521 581L532 589L538 603Z" fill="#2e2e2e" fill-opacity="0.55" stroke="none"/><path d="M523 605L511 603L507 588L520 580L530 587L537 601Z" fill="#7f7f7f"/><path d="M509 685L516 676L525 675L535 682L527 694L516 693Z" fill="#2e2e2e" fill-opacity="0.55" stroke="none"/><path d="M508 683L515 675L524 673L533 680L526 692L515 692Z" fill="#808080"/><path d="M526 635L518 632L512 627L515 619L524 620L529 625Z" fill="#2e2e2e" fill-opacity="0.55" stroke="none"/><path d="M525 634L517 630L510 625L514 617L523 619L528 624Z" fill="#777777"/><path d="M449 489L442 484L441 477L444 470L454 472L454 479Z" fill="#2e2e2e" fill-opacity="0.55" stroke="none"/><path d="M448 487L440 482L440 475L443 468L453 470L452 478Z" fill="#7c7c7c"/><path d="M450 460L428 476L432 481L453 464Z" fill="#2e2e2e" fill-opacity="0.55" stroke="none"/><path d="M448 458L427 475L430 479L452 463Z" fill="#9e9e9e"/><path d="M426 563L426 555L430 547L439 548L440 558L435 564Z" fill="#2e2e2e" fill-opacity="0.55" stroke="none"/><path d="M425 562L425 554L428 546L437 547L438 557L434 562Z" fill="#848484"/><path d="M425 562L416 565L413 557L418 549L429 554Z" fill="#2e2e2e" fill-opacity="0.55" stroke="none"/><path d="M424 561L415 564L412 555L417 548L428 552Z" fill="#747474"/><path d="M310 667L306 673L300 669L296 664L300 659L305 657L313 657Z" fill="#2e2e2e" fill-opacity="0.55" stroke="none"/><path d="M308 665L305 671L299 668L295 663L299 657L304 655L312 656Z" fill="#787878"/><path d="M427 673L424 666L428 656L438 659L442 666L438 675Z" fill="#2e2e2e" fill-opacity="0.55" stroke="none"/><path d="M426 672L422 665L427 654L437 658L441 665L437 673Z" fill="#858585"/><path d="M524 538L526 525L533 519L543 526L537 536Z" fill="#2e2e2e" fill-opacity="0.55" stroke="none"/><path d="M523 536L524 524L532 517L542 524L536 534Z" fill="#7e7e7e"/><path d="M528 515L529 534L533 533L532 515Z" fill="#2e2e2e" fill-opacity="0.55" stroke="none"/><path d="M527 514L528 532L532 532L530 513Z" fill="#9c9c9c"/><path d="M460 603L456 596L463 584L474 591L476 602L469 609Z" fill="#2e2e2e" fill-opacity="0.55" stroke="none"/><path d="M459 601L455 594L462 582L472 590L474 600L468 608Z" fill="#858585"/><path d="M495 579L488 575L487 568L491 565L499 563L500 572Z" fill="#2e2e2e" fill-opacity="0.55" stroke="none"/><path d="M494 578L487 574L485 566L490 563L498 562L498 570Z" fill="#747474"/><path d="M500 569L481 574L482 577L501 572Z" fill="#2e2e2e" fill-opacity="0.55" stroke="none"/><path d="M499 568L480 573L481 576L500 571Z" fill="#acacac"/><path d="M324 584L315 584L313 574L321 570L328 576Z" fill="#2e2e2e" fill-opacity="0.55" stroke="none"/><path d="M322 582L314 582L312 573L319 568L327 574Z" fill="#858585"/><path d="M478 504L473 488L488 481L499 487L498 501L490 507Z" fill="#2e2e2e" fill-opacity="0.55" stroke="none"/><path d="M477 502L471 487L487 480L498 485L497 499L489 505Z" fill="#808080"/><path d="M369 548L363 552L355 545L358 537L365 528L371 535L373 542Z" fill="#2e2e2e" fill-opacity="0.55" stroke="none"/><path d="M368 547L362 550L354 543L357 535L364 526L370 533L372 541Z" fill="#828282"/><path d="M364 676L354 688L340 686L338 671L344 660L359 664Z" fill="#2e2e2e" fill-opacity="0.55" stroke="none"/><path d="M363 674L353 686L338 685L337 670L343 658L358 662Z" fill="#818181"/><path d="M314 630L302 627L303 616L314 609L324 617L325 627Z" fill="#2e2e2e" fill-opacity="0.55" stroke="none"/><path d="M312 629L301 625L302 614L312 608L322 615L323 625Z" fill="#7e7e7e"/><path d="M336 511L320 512L313 499L320 486L336 490L340 500Z" fill="#2e2e2e" fill-opacity="0.55" stroke="none"/><path d="M335 509L319 511L312 497L319 485L334 489L339 498Z" fill="#7f7f7f"/><path d="M324 498L321 515L324 515L327 499Z" fill="#2e2e2e" fill-opacity="0.55" stroke="none"/><path d="M322 497L319 513L323 514L326 497Z" fill="#8e8e8e"/><path d="M411 594L416 588L421 586L429 591L427 601L416 602Z" fill="#2e2e2e" fill-opacity="0.55" stroke="none"/><path d="M410 593L414 586L420 584L428 590L426 600L415 600Z" fill="#828282"/><path d="M327 668L321 681L309 671L306 658L315 650L330 656Z" fill="#2e2e2e" fill-opacity="0.55" stroke="none"/><path d="M326 667L320 679L308 669L305 657L313 648L328 654Z" fill="#7c7c7c"/><path d="M515 482L511 484L504 482L505 474L510 473L518 473Z" fill="#2e2e2e" fill-opacity="0.55" stroke="none"/><path d="M514 480L510 482L503 480L504 473L509 472L517 472Z" fill="#7a7a7a"/><path d="M440 562L438 553L444 548L451 553L453 559L448 567Z" fill="#2e2e2e" fill-opacity="0.55" stroke="none"/><path d="M439 561L436 552L443 547L450 552L452 558L447 565Z" fill="#7c7c7c"/><path d="M447 557L454 575L459 573L453 555Z" fill="#2e2e2e" fill-opacity="0.55" stroke="none"/><path d="M446 555L452 573L458 571L451 553Z" fill="#929292"/><path d="M421 612L413 599L426 588L444 591L434 606Z" fill="#2e2e2e" fill-opacity="0.55" stroke="none"/><path d="M419 610L412 598L424 586L443 590L433 605Z" fill="#7b7b7b"/><path d="M358 670L353 662L360 657L368 652L374 661L367 670Z" fill="#2e2e2e" fill-opacity="0.55" stroke="none"/><path d="M357 669L351 660L359 655L367 651L373 660L366 669Z" fill="#797979"/><path d="M518 641L514 650L506 651L503 643L501 635L508 632L516 633Z" fill="#2e2e2e" fill-opacity="0.55" stroke="none"/><path d="M517 640L513 648L505 650L501 642L499 633L507 630L515 632Z" fill="#7a7a7a"/><path d="M316 547L309 544L305 535L314 528L324 529L328 538L323 547Z" fill="#2e2e2e" fill-opacity="0.55" stroke="none"/><path d="M315 546L308 543L303 533L313 526L323 527L327 536L322 545Z" fill="#7f7f7f"/><path d="M472 494L468 489L468 484L474 478L480 485L482 490L478 494Z" fill="#2e2e2e" fill-opacity="0.55" stroke="none"/><path d="M471 492L467 488L466 482L472 477L479 483L481 489L477 493Z" fill="#828282"/><path d="M289 692L285 681L295 670L306 677L312 691L300 695Z" fill="#2e2e2e" fill-opacity="0.55" stroke="none"/><path d="M288 690L283 679L293 668L305 676L311 689L299 694Z" fill="#858585"/><path d="M434 584L425 576L419 568L429 564L438 567L442 574Z" fill="#2e2e2e" fill-opacity="0.55" stroke="none"/><path d="M433 582L424 574L418 567L428 562L436 566L440 573Z" fill="#777777"/><path d="M442 486L426 490L417 473L423 460L439 457L445 469Z" fill="#2e2e2e" fill-opacity="0.55" stroke="none"/><path d="M441 484L425 489L416 472L421 458L437 455L444 468Z" fill="#828282"/><path d="M399 631L388 630L376 622L387 613L397 609L403 619Z" fill="#2e2e2e" fill-opacity="0.55" stroke="none"/><path d="M398 629L387 628L375 620L386 611L396 607L401 618Z" fill="#838383"/><path d="M406 616L399 612L397 604L404 602L413 602L414 612Z" fill="#2e2e2e" fill-opacity="0.55" stroke="none"/><path d="M405 615L398 611L396 603L403 600L412 600L413 610Z" fill="#848484"/><path d="M311 526L302 522L302 513L309 509L315 514L318 521Z" fill="#2e2e2e" fill-opacity="0.55" stroke="none"/><path d="M309 524L301 520L301 511L308 508L314 512L317 520Z" fill="#777777"/><path d="M377 662L372 654L380 646L389 648L396 656L388 661Z" fill="#2e2e2e" fill-opacity="0.55" stroke="none"/><path d="M376 660L371 653L379 645L388 647L395 655L386 659Z" fill="#7e7e7e"/><path d="M334 471L332 459L344 452L350 462L346 470Z" fill="#2e2e2e" fill-opacity="0.55" stroke="none"/><path d="M333 469L331 457L342 451L349 460L345 468Z" fill="#797979"/><path d="M423 595L414 591L412 585L414 576L422 579L428 585Z" fill="#2e2e2e" fill-opacity="0.55" stroke="none"/><path d="M422 593L413 589L411 583L413 574L421 577L427 584Z" fill="#7f7f7f"/><path d="M391 552L377 546L370 535L379 524L390 524L400 537Z" fill="#2e2e2e" fill-opacity="0.55" stroke="none"/><path d="M390 551L376 544L368 534L378 523L389 522L399 535Z" fill="#787878"/><path d="M532 536L525 538L521 533L523 526L529 523L538 529Z" fill="#2e2e2e" fill-opacity="0.55" stroke="none"/><path d="M530 535L523 537L520 531L521 524L528 521L537 527Z" fill="#7f7f7f"/><path d="M515 680L511 671L519 663L530 663L534 675L525 680Z" fill="#2e2e2e" fill-opacity="0.55" stroke="none"/><path d="M513 679L510 670L518 661L528 662L533 673L524 679Z" fill="#848484"/><path d="M484 454L474 452L478 442L485 443L493 449Z" fill="#2e2e2e" fill-opacity="0.55" stroke="none"/><path d="M483 452L473 450L477 441L483 441L491 448Z" fill="#7e7e7e"/><path d="M456 660L443 665L434 655L443 644L452 648Z" fill="#2e2e2e" fill-opacity="0.55" stroke="none"/><path d="M455 658L442 664L433 653L441 643L451 646Z" fill="#7e7e7e"/><path d="M347 654L344 661L337 660L331 652L339 647L345 648Z" fill="#2e2e2e" fill-opacity="0.55" stroke="none"/><path d="M346 652L343 659L335 658L329 650L337 645L344 646Z" fill="#7b7b7b"/><path d="M346 642L325 658L329 663L350 647Z" fill="#2e2e2e" fill-opacity="0.55" stroke="none"/><path d="M345 641L324 657L328 661L349 645Z" fill="#919191"/><path d="M335 654L334 644L338 636L347 635L354 645L346 652Z" fill="#2e2e2e" fill-opacity="0.55" stroke="none"/><path d="M333 653L332 643L336 635L345 633L353 644L345 651Z" fill="#7b7b7b"/><path d="M393 563L391 554L401 553L409 559L400 568Z" fill="#2e2e2e" fill-opacity="0.55" stroke="none"/><path d="M392 561L390 552L400 552L408 558L399 566Z" fill="#7c7c7c"/><path d="M309 638L300 642L293 640L285 632L294 624L304 630Z" fill="#2e2e2e" fill-opacity="0.55" stroke="none"/><path d="M308 636L299 641L291 639L284 630L293 622L303 629Z" fill="#7a7a7a"/><path d="M365 561L357 575L340 575L333 562L343 545L360 550Z" fill="#2e2e2e" fill-opacity="0.55" stroke="none"/><path d="M364 560L356 573L339 574L332 561L342 543L358 548Z" fill="#777777"/><path d="M365 558L336 561L336 564L365 561Z" fill="#2e2e2e" fill-opacity="0.55" stroke="none"/><path d="M363 556L335 559L335 562L364 559Z" fill="#a8a8a8"/><path d="M391 559L378 564L367 564L364 553L375 544L388 547Z" fill="#2e2e2e" fill-opacity="0.55" stroke="none"/><path d="M389 557L376 562L365 562L363 551L374 542L387 545Z" fill="#7f7f7f"/><path d="M336 571L327 574L322 562L328 556L336 554L345 558L344 566Z" fill="#2e2e2e" fill-opacity="0.55" stroke="none"/><path d="M335 569L325 573L321 560L327 555L335 552L344 556L342 565Z" fill="#828282"/><path d="M354 564L349 555L354 546L363 547L369 555L366 565Z" fill="#2e2e2e" fill-opacity="0.55" stroke="none"/><path d="M353 563L348 553L353 545L362 545L368 553L365 563Z" fill="#757575"/><path d="M479 658L461 658L455 637L471 628L489 642Z" fill="#2e2e2e" fill-opacity="0.55" stroke="none"/><path d="M478 656L460 657L453 636L469 627L488 640Z" fill="#767676"/><path d="M418 565L406 560L408 543L422 539L428 551L429 561Z" fill="#2e2e2e" fill-opacity="0.55" stroke="none"/><path d="M417 564L405 558L407 542L420 537L427 549L427 560Z" fill="#777777"/><path d="M418 645L402 649L393 641L397 625L410 631Z" fill="#2e2e2e" fill-opacity="0.55" stroke="none"/><path d="M417 644L401 648L392 640L395 623L409 630Z" fill="#797979"/><path d="M510 462L505 471L498 465L496 455L507 453Z" fill="#2e2e2e" fill-opacity="0.55" stroke="none"/><path d="M509 460L503 469L497 463L495 453L505 451Z" fill="#747474"/><path d="M514 446L513 439L516 433L522 432L527 439L522 446Z" fill="#2e2e2e" fill-opacity="0.55" stroke="none"/><path d="M513 444L512 437L514 431L520 431L526 437L521 444Z" fill="#7e7e7e"/><path d="M530 427L505 443L508 447L532 432Z" fill="#2e2e2e" fill-opacity="0.55" stroke="none"/><path d="M528 426L504 441L507 446L531 430Z" fill="#939393"/><path d="M338 554L333 557L327 556L324 550L329 544L335 541L342 549Z" fill="#2e2e2e" fill-opacity="0.55" stroke="none"/><path d="M336 553L332 555L326 554L322 549L328 543L334 540L341 547Z" fill="#7e7e7e"/><path d="M360 498L347 491L337 480L347 474L360 470L364 485Z" fill="#2e2e2e" fill-opacity="0.55" stroke="none"/><path d="M359 497L346 490L336 478L346 472L359 469L363 483Z" fill="#7d7d7d"/><path d="M439 689L425 676L442 668L456 671L457 691Z" fill="#2e2e2e" fill-opacity="0.55" stroke="none"/><path d="M438 687L424 674L441 666L455 670L456 690Z" fill="#818181"/><path d="M389 515L388 508L391 504L398 504L400 509L397 516Z" fill="#2e2e2e" fill-opacity="0.55" stroke="none"/><path d="M387 514L386 507L390 502L397 502L399 507L396 514Z" fill="#808080"/><path d="M421 500L409 505L399 502L402 488L413 491Z" fill="#2e2e2e" fill-opacity="0.55" stroke="none"/><path d="M420 499L408 504L398 500L401 487L412 490Z" fill="#747474"/><path d="M484 687L475 680L480 670L489 667L499 672L496 688Z" fill="#2e2e2e" fill-opacity="0.55" stroke="none"/><path d="M483 685L474 678L478 669L487 665L497 671L495 686Z" fill="#7c7c7c"/><path d="M415 551L418 543L429 542L429 552L420 557Z" fill="#2e2e2e" fill-opacity="0.55" stroke="none"/><path d="M414 550L416 541L428 541L428 550L419 556Z" fill="#7f7f7f"/><path d="M346 527L334 523L335 513L344 508L352 513L356 523Z" fill="#2e2e2e" fill-opacity="0.55" stroke="none"/><path d="M345 525L332 521L334 512L343 507L351 511L355 521Z" fill="#747474"/><path d="M353 518L343 527L345 530L355 520Z" fill="#2e2e2e" fill-opacity="0.55" stroke="none"/><path d="M352 516L341 526L343 528L354 519Z" fill="#9d9d9d"/><path d="M522 608L517 603L516 593L524 592L530 594L531 604Z" fill="#2e2e2e" fill-opacity="0.55" stroke="none"/><path d="M521 607L516 601L515 591L523 591L529 592L530 602Z" fill="#797979"/><path d="M537 688L522 692L509 692L507 674L522 666L536 672Z" fill="#2e2e2e" fill-opacity="0.55" stroke="none"/><path d="M535 686L521 691L508 691L506 673L521 664L534 670Z" fill="#828282"/><path d="M398 654L388 659L377 662L376 648L375 636L389 636L397 644Z" fill="#2e2e2e" fill-opacity="0.55" stroke="none"/><path d="M397 652L387 657L376 660L375 646L374 635L388 635L396 642Z" fill="#767676"/><path d="M333 692L326 691L322 686L321 678L330 677L335 685Z" fill="#2e2e2e" fill-opacity="0.55" stroke="none"/><path d="M332 690L325 689L321 685L320 677L329 675L334 683Z" fill="#808080"/><path d="M421 581L425 570L435 566L440 577L431 587Z" fill="#2e2e2e" fill-opacity="0.55" stroke="none"/><path d="M420 580L424 568L434 564L439 575L430 585Z" fill="#7b7b7b"/><path d="M490 464L481 454L482 443L489 432L499 441L505 455Z" fill="#2e2e2e" fill-opacity="0.55" stroke="none"/><path d="M489 463L480 452L481 441L488 431L498 440L503 454Z" fill="#828282"/><path d="M361 534L360 522L367 513L377 516L388 528L374 535Z" fill="#2e2e2e" fill-opacity="0.55" stroke="none"/><path d="M359 533L358 521L366 512L376 514L387 526L373 533Z" fill="#7e7e7e"/><path d="M373 443L380 433L391 429L395 440L393 450L381 449Z" fill="#2e2e2e" fill-opacity="0.55" stroke="none"/><path d="M372 441L379 432L390 428L394 438L392 449L380 447Z" fill="#818181"/><path d="M307 526L299 517L307 508L316 509L320 518L317 528Z" fill="#2e2e2e" fill-opacity="0.55" stroke="none"/><path d="M306 524L297 515L306 507L315 507L319 517L316 526Z" fill="#828282"/><path d="M326 503L304 521L307 524L329 507Z" fill="#2e2e2e" fill-opacity="0.55" stroke="none"/><path d="M325 501L303 519L306 523L328 505Z" fill="#a0a0a0"/><path d="M374 631L363 623L373 612L385 613L390 626Z" fill="#2e2e2e" fill-opacity="0.55" stroke="none"/><path d="M373 630L361 622L372 610L383 612L389 624Z" fill="#7d7d7d"/><path d="M431 677L415 667L424 648L442 648L442 665Z" fill="#2e2e2e" fill-opacity="0.55" stroke="none"/><path d="M430 675L413 665L422 646L441 646L441 664Z" fill="#7d7d7d"/><path d="M427 473L422 467L422 461L430 461L434 465L432 470Z" fill="#2e2e2e" fill-opacity="0.55" stroke="none"/><path d="M426 471L421 466L421 459L429 460L433 464L431 469Z" fill="#797979"/><path d="M373 611L371 598L376 590L387 589L397 594L400 606L386 615Z" fill="#2e2e2e" fill-opacity="0.55" stroke="none"/><path d="M372 610L370 596L375 588L386 587L395 592L398 605L384 614Z" fill="#767676"/><path d="M411 604L396 612L392 599L392 587L404 577L416 586L422 597Z" fill="#2e2e2e" fill-opacity="0.55" stroke="none"/><path d="M410 602L395 610L391 598L391 586L402 575L415 584L421 596Z" fill="#7d7d7d"/><path d="M491 639L486 629L490 617L503 621L504 634Z" fill="#2e2e2e" fill-opacity="0.55" stroke="none"/><path d="M489 638L485 627L489 616L502 620L503 632Z" fill="#808080"/><path d="M513 661L504 667L492 670L488 657L495 647L506 638L516 649Z" fill="#2e2e2e" fill-opacity="0.55" stroke="none"/><path d="M512 659L503 666L491 668L486 655L494 645L505 637L515 648Z" fill="#7d7d7d"/><path d="M437 664L446 650L461 653L465 663L466 678L450 673Z" fill="#2e2e2e" fill-opacity="0.55" stroke="none"/><path d="M436 662L445 649L460 651L464 661L465 676L449 672Z" fill="#797979"/><path d="M342 625L341 618L342 608L350 610L354 617L353 627Z" fill="#2e2e2e" fill-opacity="0.55" stroke="none"/><path d="M341 624L339 616L340 606L349 608L353 615L352 626Z" fill="#767676"/><path d="M509 546L495 541L484 533L494 520L507 521L511 533Z" fill="#2e2e2e" fill-opacity="0.55" stroke="none"/><path d="M508 545L494 539L483 531L493 518L506 519L510 531Z" fill="#7c7c7c"/><path d="M539 660L527 657L527 643L536 635L546 638L554 647L547 657Z" fill="#2e2e2e" fill-opacity="0.55" stroke="none"/><path d="M537 658L526 656L525 642L535 634L545 637L553 646L546 655Z" fill="#7b7b7b"/><path d="M356 549L351 543L356 536L364 537L368 541L370 548L363 549Z" fill="#2e2e2e" fill-opacity="0.55" stroke="none"/><path d="M355 548L350 541L355 534L362 535L367 539L369 546L362 547Z" fill="#777777"/><path d="M483 653L465 657L456 647L467 634L479 638Z" fill="#2e2e2e" fill-opacity="0.55" stroke="none"/><path d="M482 651L464 656L454 645L466 632L478 636Z" fill="#777777"/><path d="M455 614L457 603L471 605L472 618L461 621Z" fill="#2e2e2e" fill-opacity="0.55" stroke="none"/><path d="M454 613L456 602L470 603L471 616L460 619Z" fill="#858585"/><path d="M340 457L339 450L345 445L352 449L351 456L347 463Z" fill="#2e2e2e" fill-opacity="0.55" stroke="none"/><path d="M339 456L337 448L344 444L351 447L350 455L346 461Z" fill="#7d7d7d"/><path d="M526 686L522 674L531 668L537 669L543 677L537 683Z" fill="#2e2e2e" fill-opacity="0.55" stroke="none"/><path d="M525 684L520 673L529 667L536 668L542 675L535 682Z" fill="#818181"/><path d="M520 666L542 685L546 681L524 662Z" fill="#2e2e2e" fill-opacity="0.55" stroke="none"/><path d="M519 665L541 684L545 679L523 660Z" fill="#989898"/><path d="M466 538L461 538L455 534L457 525L464 523L468 528L472 533Z" fill="#2e2e2e" fill-opacity="0.55" stroke="none"/><path d="M465 536L459 536L454 532L456 523L463 521L467 526L471 532Z" fill="#777777"/><path d="M317 645L305 647L296 643L288 632L301 621L312 621L323 630Z" fill="#2e2e2e" fill-opacity="0.55" stroke="none"/><path d="M316 644L304 646L295 642L287 630L300 619L311 619L321 628Z" fill="#858585"/><path d="M477 525L467 506L479 497L493 500L496 517Z" fill="#2e2e2e" fill-opacity="0.55" stroke="none"/><path d="M476 523L465 504L478 496L492 498L495 515Z" fill="#747474"/><path d="M494 670L483 683L466 684L462 668L472 656L482 658Z" fill="#2e2e2e" fill-opacity="0.55" stroke="none"/><path d="M493 669L481 681L464 682L461 667L471 654L481 657Z" fill="#808080"/><path d="M549 674L538 675L532 667L537 660L550 660Z" fill="#2e2e2e" fill-opacity="0.55" stroke="none"/><path d="M548 673L537 673L530 665L535 658L549 658Z" fill="#7a7a7a"/><path d="M391 655L385 658L377 659L378 651L382 644L388 649Z" fill="#2e2e2e" fill-opacity="0.55" stroke="none"/><path d="M390 653L384 657L376 658L377 650L380 643L387 647Z" fill="#808080"/><path d="M521 541L514 551L501 549L503 537L507 526L517 532Z" fill="#2e2e2e" fill-opacity="0.55" stroke="none"/><path d="M520 540L513 549L500 547L502 535L506 525L515 531Z" fill="#747474"/><path d="M374 633L371 624L379 617L387 622L383 630Z" fill="#2e2e2e" fill-opacity="0.55" stroke="none"/><path d="M372 632L370 622L378 615L386 620L382 628Z" fill="#797979"/><path d="M451 560L446 567L440 559L441 553L446 549L453 552Z" fill="#2e2e2e" fill-opacity="0.55" stroke="none"/><path d="M450 559L444 565L439 558L439 551L445 548L452 551Z" fill="#818181"/><path d="M507 502L502 495L511 488L520 490L529 496L522 504L513 509Z" fill="#2e2e2e" fill-opacity="0.55" stroke="none"/><path d="M506 501L501 493L510 486L519 488L527 494L521 503L512 507Z" fill="#7c7c7c"/><path d="M299 550L290 546L287 535L297 525L310 534L313 546Z" fill="#2e2e2e" fill-opacity="0.55" stroke="none"/><path d="M298 548L289 544L286 533L296 524L309 533L312 544Z" fill="#7d7d7d"/><path d="M520 652L511 651L505 647L503 641L509 637L516 638L519 643Z" fill="#2e2e2e" fill-opacity="0.55" stroke="none"/><path d="M519 650L509 649L504 645L502 639L508 635L515 636L517 642Z" fill="#797979"/><path d="M410 491L410 480L423 475L433 484L429 496L417 496Z" fill="#2e2e2e" fill-opacity="0.55" stroke="none"/><path d="M409 489L409 478L422 474L431 482L428 495L416 494Z" fill="#797979"/><path d="M387 674L383 666L385 662L390 657L397 661L396 668L392 671Z" fill="#2e2e2e" fill-opacity="0.55" stroke="none"/><path d="M385 672L382 665L384 661L388 655L396 659L394 666L391 669Z" fill="#858585"/><path d="M476 589L482 577L496 574L499 587L489 593Z" fill="#2e2e2e" fill-opacity="0.55" stroke="none"/><path d="M475 587L481 575L495 572L498 585L488 591Z" fill="#7f7f7f"/><path d="M436 510L432 499L437 489L450 493L452 506Z" fill="#2e2e2e" fill-opacity="0.55" stroke="none"/><path d="M435 508L431 498L436 488L449 491L451 505Z" fill="#7d7d7d"/><path d="M389 557L379 563L374 555L371 546L380 542L388 548Z" fill="#2e2e2e" fill-opacity="0.55" stroke="none"/><path d="M388 555L377 562L373 553L369 544L379 540L386 546Z" fill="#787878"/><path d="M461 550L453 558L438 559L431 547L439 534L452 540Z" fill="#2e2e2e" fill-opacity="0.55" stroke="none"/><path d="M460 549L452 557L436 557L430 546L438 533L451 539Z" fill="#757575"/><path d="M519 620L512 624L505 621L507 612L513 608L518 613Z" fill="#2e2e2e" fill-opacity="0.55" stroke="none"/><path d="M518 619L511 622L504 619L506 610L512 607L517 611Z" fill="#7d7d7d"/><path d="M324 543L311 548L306 539L309 530L319 531Z" fill="#2e2e2e" fill-opacity="0.55" stroke="none"/><path d="M323 541L310 546L305 537L308 528L318 530Z" fill="#838383"/><path d="M455 558L445 550L449 541L456 535L470 539L466 551Z" fill="#2e2e2e" fill-opacity="0.55" stroke="none"/><path d="M454 557L444 549L448 539L455 533L469 538L464 550Z" fill="#858585"/><path d="M323 453L315 457L306 451L310 441L314 436L322 436L325 443Z" fill="#2e2e2e" fill-opacity="0.55" stroke="none"/><path d="M322 451L314 455L305 449L309 439L313 435L321 434L323 441Z" fill="#747474"/><path d="M409 517L403 518L401 513L402 508L407 502L412 507L413 512Z" fill="#2e2e2e" fill-opacity="0.55" stroke="none"/><path d="M408 515L402 516L400 511L401 507L405 500L410 506L412 511Z" fill="#767676"/><path d="M323 516L314 526L302 517L298 504L309 495L318 505Z" fill="#2e2e2e" fill-opacity="0.55" stroke="none"/><path d="M322 515L313 525L301 516L297 502L307 493L317 503Z" fill="#7e7e7e"/><path d="M490 476L484 475L480 467L485 461L494 464L497 472Z" fill="#2e2e2e" fill-opacity="0.55" stroke="none"/><path d="M489 474L483 473L479 466L484 459L493 462L495 471Z" fill="#838383"/><path d="M356 586L346 591L336 592L335 582L335 573L344 574L352 575Z" fill="#2e2e2e" fill-opacity="0.55" stroke="none"/><path d="M354 584L345 589L335 590L334 580L333 571L342 572L350 573Z" fill="#7e7e7e"/><path d="M358 571L334 577L335 581L359 575Z" fill="#2e2e2e" fill-opacity="0.55" stroke="none"/><path d="M356 570L333 576L334 580L357 574Z" fill="#acacac"/><path d="M363 674L351 669L346 657L357 650L371 654L376 666Z" fill="#2e2e2e" fill-opacity="0.55" stroke="none"/><path d="M362 672L350 668L344 655L356 648L369 652L374 664Z" fill="#767676"/><path d="M491 527L484 528L480 522L481 516L488 516L497 519Z" fill="#2e2e2e" fill-opacity="0.55" stroke="none"/><path d="M490 526L483 526L479 520L480 514L487 514L495 517Z" fill="#747474"/><path d="M309 612L301 604L306 595L314 595L328 597L322 607L317 619Z" fill="#2e2e2e" fill-opacity="0.55" stroke="none"/><path d="M308 610L300 603L305 594L313 594L327 595L321 605L316 618Z" fill="#747474"/><path d="M397 677L395 667L407 663L412 667L412 675L405 681Z" fill="#2e2e2e" fill-opacity="0.55" stroke="none"/><path d="M396 675L394 665L405 661L411 665L411 673L404 680Z" fill="#7b7b7b"/><path d="M373 608L366 599L360 591L368 585L375 579L385 587L382 600Z" fill="#2e2e2e" fill-opacity="0.55" stroke="none"/><path d="M371 606L365 597L358 589L367 583L374 578L384 586L381 598Z" fill="#7b7b7b"/><path d="M296 593L285 581L295 569L307 567L312 578L307 591Z" fill="#2e2e2e" fill-opacity="0.55" stroke="none"/><path d="M295 591L284 579L294 568L306 565L311 577L306 590Z" fill="#7c7c7c"/><path d="M331 656L333 648L339 641L346 645L351 650L347 658L339 658Z" fill="#2e2e2e" fill-opacity="0.55" stroke="none"/><path d="M330 654L332 646L338 640L345 644L350 648L345 657L338 657Z" fill="#838383"/><path d="M360 587L361 577L371 575L377 581L379 590L369 595Z" fill="#2e2e2e" fill-opacity="0.55" stroke="none"/><path d="M359 585L360 575L370 574L376 579L378 589L368 593Z" fill="#7f7f7f"/><path d="M408 697L405 687L411 678L425 669L427 685L426 699Z" fill="#2e2e2e" fill-opacity="0.55" stroke="none"/><path d="M407 695L404 686L409 676L423 668L425 683L424 697Z" fill="#7d7d7d"/><path d="M375 536L362 537L355 528L358 514L369 513L377 522Z" fill="#2e2e2e" fill-opacity="0.55" stroke="none"/><path d="M374 534L361 536L354 526L357 513L368 511L376 521Z" fill="#777777"/><path d="M313 548L304 544L297 534L306 528L318 530L319 541Z" fill="#2e2e2e" fill-opacity="0.55" stroke="none"/><path d="M312 547L303 542L295 532L305 526L316 529L318 539Z" fill="#818181"/><path d="M298 616L300 606L305 600L312 605L315 613L307 617Z" fill="#2e2e2e" fill-opacity="0.55" stroke="none"/><path d="M297 615L299 605L303 598L310 604L314 612L306 615Z" fill="#777777"/><path d="M327 499L322 504L315 503L311 498L313 490L320 489L328 493Z" fill="#2e2e2e" fill-opacity="0.55" stroke="none"/><path d="M326 497L320 502L314 501L310 496L311 489L319 487L326 492Z" fill="#828282"/><path d="M379 618L375 607L386 599L395 609L399 620L387 623Z" fill="#2e2e2e" fill-opacity="0.55" stroke="none"/><path d="M378 617L374 605L385 598L394 607L398 618L386 621Z" fill="#808080"/><path d="M473 668L473 655L484 646L499 644L498 657L494 667L483 677Z" fill="#2e2e2e" fill-opacity="0.55" stroke="none"/><path d="M471 666L472 653L483 645L497 642L497 655L493 666L482 676Z" fill="#787878"/><path d="M354 596L350 591L352 587L359 583L364 590L361 598Z" fill="#2e2e2e" fill-opacity="0.55" stroke="none"/><path d="M353 595L348 590L351 585L358 582L363 589L359 597Z" fill="#777777"/><path d="M442 611L430 611L424 604L427 594L437 591L444 599Z" fill="#2e2e2e" fill-opacity="0.55" stroke="none"/><path d="M440 610L429 609L423 602L426 592L436 589L443 597Z" fill="#777777"/><path d="M416 596L419 583L433 582L441 594L429 603Z" fill="#2e2e2e" fill-opacity="0.55" stroke="none"/><path d="M415 595L418 582L432 580L439 592L427 602Z" fill="#767676"/><path d="M367 488L372 474L384 476L386 485L379 494Z" fill="#2e2e2e" fill-opacity="0.55" stroke="none"/><path d="M366 486L371 472L383 475L385 484L378 492Z" fill="#7c7c7c"/><path d="M379 465L372 476L363 470L359 460L365 451L375 458Z" fill="#2e2e2e" fill-opacity="0.55" stroke="none"/><path d="M378 464L371 474L362 468L357 458L364 450L374 456Z" fill="#808080"/><path d="M393 619L388 630L375 627L371 615L382 611L393 609Z" fill="#2e2e2e" fill-opacity="0.55" stroke="none"/><path d="M391 617L387 628L373 625L370 614L381 609L392 607Z" fill="#7c7c7c"/><path d="M404 632L389 632L384 620L392 611L400 610L407 620Z" fill="#2e2e2e" fill-opacity="0.55" stroke="none"/><path d="M403 630L388 631L383 618L391 609L399 609L405 618Z" fill="#787878"/><path d="M352 605L341 598L348 585L361 581L372 592L365 602Z" fill="#2e2e2e" fill-opacity="0.55" stroke="none"/><path d="M351 603L340 596L347 583L360 579L371 590L364 601Z" fill="#818181"/><path d="M350 634L344 628L344 618L355 616L361 624L359 633Z" fill="#2e2e2e" fill-opacity="0.55" stroke="none"/><path d="M349 632L343 627L342 616L354 614L359 623L358 631Z" fill="#7b7b7b"/><path d="M473 583L460 575L457 561L468 556L484 557L482 571Z" fill="#2e2e2e" fill-opacity="0.55" stroke="none"/><path d="M472 581L459 573L456 560L467 554L483 556L481 570Z" fill="#747474"/><path d="M301 494L289 493L280 484L284 468L300 472L305 483Z" fill="#2e2e2e" fill-opacity="0.55" stroke="none"/><path d="M300 492L288 491L278 482L283 467L299 470L304 482Z" fill="#747474"/><path d="M333 673L324 680L315 681L311 674L314 666L322 659L330 664Z" fill="#2e2e2e" fill-opacity="0.55" stroke="none"/><path d="M331 672L323 679L314 680L310 673L313 664L321 657L329 662Z" fill="#7a7a7a"/><path d="M406 647L398 647L392 645L389 636L397 629L404 635L411 641Z" fill="#2e2e2e" fill-opacity="0.55" stroke="none"/><path d="M405 646L396 646L391 643L387 635L396 627L403 633L410 640Z" fill="#808080"/><path d="M457 642L467 632L483 628L483 646L468 652Z" fill="#2e2e2e" fill-opacity="0.55" stroke="none"/><path d="M456 640L465 631L482 627L482 644L467 651Z" fill="#818181"/><path d="M532 692L522 691L519 685L521 675L531 676L536 682Z" fill="#2e2e2e" fill-opacity="0.55" stroke="none"/><path d="M531 690L521 690L518 683L519 673L530 675L535 681Z" fill="#7f7f7f"/><path d="M338 568L337 546L352 542L362 554L357 566Z" fill="#2e2e2e" fill-opacity="0.55" stroke="none"/><path d="M336 567L336 545L350 541L361 553L356 564Z" fill="#7c7c7c"/><path d="M300 519L299 507L308 497L321 505L319 519L309 531Z" fill="#2e2e2e" fill-opacity="0.55" stroke="none"/><path d="M299 518L297 505L307 495L320 503L318 518L308 530Z" fill="#7e7e7e"/><path d="M328 497L322 505L312 502L303 496L313 487L323 486Z" fill="#2e2e2e" fill-opacity="0.55" stroke="none"/><path d="M327 495L321 503L311 500L302 494L311 485L322 484Z" fill="#757575"/><path d="M422 570L411 572L408 561L412 553L422 552L430 562Z" fill="#2e2e2e" fill-opacity="0.55" stroke="none"/><path d="M421 569L409 571L407 560L411 551L421 551L429 560Z" fill="#767676"/><path d="M377 585L382 575L393 573L400 579L396 591L384 597Z" fill="#2e2e2e" fill-opacity="0.55" stroke="none"/><path d="M375 583L381 573L392 571L399 577L395 589L382 595Z" fill="#818181"/><path d="M496 555L482 555L478 540L491 528L500 542Z" fill="#2e2e2e" fill-opacity="0.55" stroke="none"/><path d="M495 554L480 553L477 539L489 527L499 540Z" fill="#7a7a7a"/><path d="M487 539L478 561L481 563L490 540Z" fill="#2e2e2e" fill-opacity="0.55" stroke="none"/><path d="M486 537L477 560L480 561L489 539Z" fill="#a0a0a0"/><path d="M351 546L346 552L340 552L333 545L337 539L344 535L351 538Z" fill="#2e2e2e" fill-opacity="0.55" stroke="none"/><path d="M350 544L344 550L339 551L332 544L336 537L343 533L350 536Z" fill="#7d7d7d"/><path d="M335 546L357 548L358 543L336 541Z" fill="#2e2e2e" fill-opacity="0.55" stroke="none"/><path d="M334 544L356 547L357 542L334 540Z" fill="#8d8d8d"/><path d="M518 543L512 546L507 545L502 540L507 536L512 532L518 537Z" fill="#2e2e2e" fill-opacity="0.55" stroke="none"/><path d="M516 542L511 544L506 544L501 538L506 534L510 530L516 535Z" fill="#808080"/><path d="M550 590L538 598L527 591L525 576L536 564L548 576Z" fill="#2e2e2e" fill-opacity="0.55" stroke="none"/><path d="M549 588L537 596L525 589L523 575L535 563L547 575Z" fill="#808080"/><path d="M405 543L397 547L390 542L392 534L400 536Z" fill="#2e2e2e" fill-opacity="0.55" stroke="none"/><path d="M404 541L395 545L389 540L390 532L399 534Z" fill="#787878"/><path d="M441 604L428 591L435 578L451 576L462 587L452 600Z" fill="#2e2e2e" fill-opacity="0.55" stroke="none"/><path d="M440 603L427 589L434 577L450 574L460 586L450 598Z" fill="#7a7a7a"/><path d="M453 586L448 599L451 601L456 588Z" fill="#2e2e2e" fill-opacity="0.55" stroke="none"/><path d="M452 585L447 598L450 599L455 586Z" fill="#aaaaaa"/><path d="M499 676L497 665L505 659L515 663L518 673L509 676Z" fill="#2e2e2e" fill-opacity="0.55" stroke="none"/><path d="M498 675L496 663L504 658L514 662L516 671L508 674Z" fill="#7d7d7d"/><path d="M340 500L329 505L316 496L323 485L332 477L346 485Z" fill="#2e2e2e" fill-opacity="0.55" stroke="none"/><path d="M339 499L328 503L314 494L322 483L331 476L345 483Z" fill="#858585"/><path d="M375 453L368 443L380 434L390 441L387 455Z" fill="#2e2e2e" fill-opacity="0.55" stroke="none"/><path d="M373 452L367 441L379 432L388 439L386 454Z" fill="#808080"/><path d="M357 568L351 563L349 555L357 550L366 554L368 560L367 569Z" fill="#2e2e2e" fill-opacity="0.55" stroke="none"/><path d="M356 567L350 562L348 553L356 549L365 552L367 558L366 567Z" fill="#828282"/><path d="M506 457L504 447L513 441L524 441L530 453L523 460L515 465Z" fill="#2e2e2e" fill-opacity="0.55" stroke="none"/><path d="M505 456L503 446L512 440L523 439L528 451L522 458L514 464Z" fill="#858585"/><path d="M546 442L540 445L532 446L533 438L535 432L544 431L547 437Z" fill="#2e2e2e" fill-opacity="0.55" stroke="none"/><path d="M545 440L539 444L531 444L532 437L534 430L542 429L545 435Z" fill="#848484"/><path d="M427 587L419 596L409 588L409 577L419 574L427 576Z" fill="#2e2e2e" fill-opacity="0.55" stroke="none"/><path d="M426 586L417 594L408 586L408 575L418 572L426 574Z" fill="#828282"/><path d="M510 695L498 693L498 682L506 677L512 685Z" fill="#2e2e2e" fill-opacity="0.55" stroke="none"/><path d="M509 693L497 691L496 680L505 675L511 683Z" fill="#7a7a7a"/><path d="M521 473L515 469L520 462L527 458L530 464L529 472Z" fill="#2e2e2e" fill-opacity="0.55" stroke="none"/><path d="M520 472L514 467L519 460L526 456L529 463L528 470Z" fill="#797979"/><path d="M468 616L473 600L489 603L495 615L483 623Z" fill="#2e2e2e" fill-opacity="0.55" stroke="none"/><path d="M467 615L472 598L488 601L494 613L482 622Z" fill="#797979"/><path d="M488 594L482 615L487 616L492 595Z" fill="#2e2e2e" fill-opacity="0.55" stroke="none"/><path d="M486 593L481 613L485 614L491 594Z" fill="#909090"/><path d="M494 494L486 495L479 491L482 482L488 477L493 481L497 487Z" fill="#2e2e2e" fill-opacity="0.55" stroke="none"/><path d="M493 492L484 493L478 489L481 480L487 475L492 480L496 485Z" fill="#828282"/><path d="M379 548L366 549L354 544L361 533L368 527L376 535Z" fill="#2e2e2e" fill-opacity="0.55" stroke="none"/><path d="M378 546L365 548L353 543L359 532L367 525L374 534Z" fill="#757575"/><path d="M343 484L333 489L319 483L322 473L330 467L339 470Z" fill="#2e2e2e" fill-opacity="0.55" stroke="none"/><path d="M342 482L332 488L318 482L321 471L329 466L338 469Z" fill="#7b7b7b"/><path d="M495 553L494 540L506 539L511 546L511 555L506 561L499 558Z" fill="#2e2e2e" fill-opacity="0.55" stroke="none"/><path d="M494 551L493 538L505 538L510 545L510 553L505 559L498 557Z" fill="#838383"/><path d="M363 537L355 534L360 525L365 521L371 527L372 534Z" fill="#2e2e2e" fill-opacity="0.55" stroke="none"/><path d="M362 535L354 533L359 524L364 519L370 525L371 533Z" fill="#838383"/><path d="M361 502L358 491L356 478L373 479L378 489L372 498Z" fill="#2e2e2e" fill-opacity="0.55" stroke="none"/><path d="M359 500L356 489L355 476L371 478L377 488L371 496Z" fill="#757575"/><path d="M437 627L430 631L427 626L427 619L432 615L439 621Z" fill="#2e2e2e" fill-opacity="0.55" stroke="none"/><path d="M435 626L429 629L425 624L426 618L431 614L437 619Z" fill="#808080"/><path d="M314 643L305 649L298 646L296 635L304 632L313 634Z" fill="#2e2e2e" fill-opacity="0.55" stroke="none"/><path d="M313 641L304 647L296 644L295 633L303 630L311 633Z" fill="#808080"/><path d="M460 665L455 645L475 635L486 650L475 664Z" fill="#2e2e2e" fill-opacity="0.55" stroke="none"/><path d="M459 663L454 644L473 633L484 648L474 663Z" fill="#818181"/><path d="M299 685L289 693L282 682L279 672L288 667L301 672Z" fill="#2e2e2e" fill-opacity="0.55" stroke="none"/><path d="M298 684L288 691L280 680L278 670L287 665L300 671Z" fill="#747474"/><path d="M517 691L508 681L506 672L513 661L522 670L526 679Z" fill="#2e2e2e" fill-opacity="0.55" stroke="none"/><path d="M516 689L506 680L505 671L512 659L521 669L524 678Z" fill="#757575"/><path d="M334 593L332 589L333 584L339 584L342 588L340 592Z" fill="#2e2e2e" fill-opacity="0.55" stroke="none"/><path d="M333 592L330 587L332 582L338 582L341 586L339 591Z" fill="#848484"/><path d="M337 684L339 676L345 670L353 673L354 684L345 689Z" fill="#2e2e2e" fill-opacity="0.55" stroke="none"/><path d="M336 682L338 674L343 668L352 671L353 683L344 687Z" fill="#838383"/><path d="M430 568L426 563L427 558L432 552L436 559L435 565Z" fill="#2e2e2e" fill-opacity="0.55" stroke="none"/><path d="M429 566L425 562L426 556L430 550L435 558L434 564Z" fill="#858585"/><path d="M488 453L480 438L486 424L506 421L507 437L503 447Z" fill="#2e2e2e" fill-opacity="0.55" stroke="none"/><path d="M487 451L479 436L484 422L505 420L506 435L502 446Z" fill="#7f7f7f"/><path d="M436 453L430 438L442 429L455 438L450 450Z" fill="#2e2e2e" fill-opacity="0.55" stroke="none"/><path d="M435 451L429 436L441 428L453 437L448 449Z" fill="#797979"/><path d="M424 621L416 611L422 603L431 599L436 608L435 617Z" fill="#2e2e2e" fill-opacity="0.55" stroke="none"/><path d="M423 619L415 609L421 601L429 597L435 607L433 615Z" fill="#808080"/><path d="M321 458L317 449L326 444L336 448L331 457Z" fill="#2e2e2e" fill-opacity="0.55" stroke="none"/><path d="M320 456L316 448L325 443L335 447L330 456Z" fill="#808080"/><path d="M425 688L431 679L439 676L450 679L448 690L441 693L430 697Z" fill="#2e2e2e" fill-opacity="0.55" stroke="none"/><path d="M424 687L429 677L438 674L449 678L447 688L440 692L429 695Z" fill="#7a7a7a"/><path d="M388 487L379 491L375 482L377 471L389 469L393 480Z" fill="#2e2e2e" fill-opacity="0.55" stroke="none"/><path d="M387 486L378 489L374 480L376 470L388 467L392 478Z" fill="#858585"/><path d="M543 463L529 459L530 446L536 435L551 436L552 453Z" fill="#2e2e2e" fill-opacity="0.55" stroke="none"/><path d="M542 462L528 458L528 444L535 434L550 435L551 451Z" fill="#787878"/><path d="M302 517L296 509L297 496L309 497L318 510L313 522Z" fill="#2e2e2e" fill-opacity="0.55" stroke="none"/><path d="M301 515L295 508L296 495L308 496L317 508L312 521Z" fill="#7f7f7f"/><path d="M404 468L407 457L415 450L427 453L427 468L416 470Z" fill="#2e2e2e" fill-opacity="0.55" stroke="none"/><path d="M403 466L406 455L414 449L426 451L426 466L415 469Z" fill="#7c7c7c"/><path d="M475 664L467 674L451 671L454 658L465 653Z" fill="#2e2e2e" fill-opacity="0.55" stroke="none"/><path d="M474 663L466 673L450 670L453 656L464 651Z" fill="#757575"/><path d="M303 602L302 592L312 584L321 592L318 602L310 610Z" fill="#2e2e2e" fill-opacity="0.55" stroke="none"/><path d="M302 600L301 590L311 583L320 590L317 601L308 608Z" fill="#7a7a7a"/><path d="M372 562L364 558L365 549L373 545L378 551L381 562Z" fill="#2e2e2e" fill-opacity="0.55" stroke="none"/><path d="M371 560L363 556L364 548L372 543L377 550L379 560Z" fill="#787878"/><path d="M364 549L382 564L385 560L367 545Z" fill="#2e2e2e" fill-opacity="0.55" stroke="none"/><path d="M363 548L381 562L384 559L366 544Z" fill="#a2a2a2"/><path d="M296 457L294 462L284 465L283 456L287 451L293 449Z" fill="#2e2e2e" fill-opacity="0.55" stroke="none"/><path d="M295 455L292 460L283 463L282 454L286 449L292 448Z" fill="#7f7f7f"/><path d="M433 666L425 660L427 652L431 646L442 646L442 655L440 661Z" fill="#2e2e2e" fill-opacity="0.55" stroke="none"/><path d="M432 665L424 658L426 651L429 644L441 644L441 653L439 660Z" fill="#7c7c7c"/><path d="M352 479L352 467L366 465L371 481L358 487Z" fill="#2e2e2e" fill-opacity="0.55" stroke="none"/><path d="M350 477L351 466L365 464L370 479L357 485Z" fill="#828282"/><path d="M451 647L443 641L443 632L452 627L462 630L463 637L458 645Z" fill="#2e2e2e" fill-opacity="0.55" stroke="none"/><path d="M450 645L442 639L442 631L450 625L461 628L462 636L457 643Z" fill="#7a7a7a"/><path d="M474 654L464 662L451 655L453 644L461 640L471 643Z" fill="#2e2e2e" fill-opacity="0.55" stroke="none"/><path d="M473 652L463 661L450 654L452 643L460 638L469 642Z" fill="#757575"/><path d="M549 596L542 604L536 600L536 592L543 590Z" fill="#2e2e2e" fill-opacity="0.55" stroke="none"/><path d="M547 595L541 602L535 598L534 590L542 588Z" fill="#7b7b7b"/><path d="M431 599L438 583L455 576L456 593L446 609Z" fill="#2e2e2e" fill-opacity="0.55" stroke="none"/><path d="M430 598L437 582L454 575L455 591L445 608Z" fill="#858585"/><path d="M512 636L500 630L496 622L505 615L514 623Z" fill="#2e2e2e" fill-opacity="0.55" stroke="none"/><path d="M511 634L499 628L495 621L504 613L513 621Z" fill="#767676"/><path d="M504 584L495 584L488 575L492 566L503 567L508 575Z" fill="#2e2e2e" fill-opacity="0.55" stroke="none"/><path d="M503 582L494 583L487 574L491 564L502 565L507 574Z" fill="#808080"/><path d="M491 515L479 508L484 497L495 488L505 500L501 511Z" fill="#2e2e2e" fill-opacity="0.55" stroke="none"/><path d="M490 513L478 506L483 495L494 487L504 498L500 509Z" fill="#767676"/><path d="M541 687L528 693L518 691L512 678L523 668L538 671Z" fill="#2e2e2e" fill-opacity="0.55" stroke="none"/><path d="M540 685L527 691L517 689L511 676L522 666L537 669Z" fill="#838383"/><path d="M359 620L346 618L349 607L356 598L367 604L364 614Z" fill="#2e2e2e" fill-opacity="0.55" stroke="none"/><path d="M358 618L345 616L348 605L354 596L366 603L363 612Z" fill="#828282"/><path d="M348 607L362 617L365 613L351 603Z" fill="#2e2e2e" fill-opacity="0.55" stroke="none"/><path d="M347 606L361 615L363 611L350 602Z" fill="#a0a0a0"/><path d="M542 680L536 692L522 684L526 672L539 668Z" fill="#2e2e2e" fill-opacity="0.55" stroke="none"/><path d="M541 679L535 691L521 683L525 670L538 666Z" fill="#7d7d7d"/><path d="M308 591L309 577L318 568L327 580L322 594Z" fill="#2e2e2e" fill-opacity="0.55" stroke="none"/><path d="M306 589L308 576L317 567L326 578L321 592Z" fill="#7f7f7f"/><path d="M424 678L417 681L415 674L413 666L421 661L431 666L431 675Z" fill="#2e2e2e" fill-opacity="0.55" stroke="none"/><path d="M423 677L416 680L414 672L412 665L420 659L430 665L430 673Z" fill="#858585"/><path d="M473 470L474 459L483 455L490 460L488 467L482 474Z" fill="#2e2e2e" fill-opacity="0.55" stroke="none"/><path d="M472 468L473 458L482 454L488 459L487 466L481 472Z" fill="#858585"/><path d="M306 459L304 446L315 434L328 439L334 454L321 461Z" fill="#2e2e2e" fill-opacity="0.55" stroke="none"/><path d="M305 458L303 444L313 432L327 437L333 453L320 460Z" fill="#797979"/><path d="M311 445L325 449L327 445L312 440Z" fill="#2e2e2e" fill-opacity="0.55" stroke="none"/><path d="M310 444L324 448L325 443L311 439Z" fill="#939393"/><path d="M480 576L477 571L478 566L484 563L487 570L487 579Z" fill="#2e2e2e" fill-opacity="0.55" stroke="none"/><path d="M479 575L476 570L476 564L483 561L486 569L486 577Z" fill="#757575"/><path d="M547 499L536 507L526 504L518 492L530 478L541 488Z" fill="#2e2e2e" fill-opacity="0.55" stroke="none"/><path d="M546 497L535 505L525 503L517 490L529 477L540 486Z" fill="#858585"/><path d="M496 632L485 638L477 641L471 632L473 624L479 615L490 624Z" fill="#2e2e2e" fill-opacity="0.55" stroke="none"/><path d="M495 630L484 636L475 639L470 631L472 622L478 614L489 622Z" fill="#7f7f7f"/><path d="M461 510L461 500L470 494L477 505L471 515Z" fill="#2e2e2e" fill-opacity="0.55" stroke="none"/><path d="M460 509L459 498L468 492L475 503L470 513Z" fill="#7b7b7b"/><path d="M465 495L464 510L470 510L471 496Z" fill="#2e2e2e" fill-opacity="0.55" stroke="none"/><path d="M464 494L463 508L469 509L470 494Z" fill="#a8a8a8"/><path d="M396 678L382 680L375 668L380 656L393 655L402 663Z" fill="#2e2e2e" fill-opacity="0.55" stroke="none"/><path d="M395 677L381 678L374 666L379 654L392 654L400 662Z" fill="#838383"/><path d="M513 533L504 540L493 535L489 525L499 521L510 521Z" fill="#2e2e2e" fill-opacity="0.55" stroke="none"/><path d="M512 531L503 538L492 533L487 524L498 520L509 519Z" fill="#7e7e7e"/><path d="M505 525L489 530L491 536L507 530Z" fill="#2e2e2e" fill-opacity="0.55" stroke="none"/><path d="M503 523L488 529L490 534L505 529Z" fill="#a4a4a4"/><path d="M287 565L291 548L308 541L317 556L316 572L300 573Z" fill="#2e2e2e" fill-opacity="0.55" stroke="none"/><path d="M286 564L289 546L307 539L316 554L315 570L299 572Z" fill="#747474"/><path d="M423 638L413 636L409 629L408 616L417 615L429 619L430 629Z" fill="#2e2e2e" fill-opacity="0.55" stroke="none"/><path d="M422 636L412 634L408 628L407 615L416 614L428 617L429 627Z" fill="#848484"/><path d="M492 663L485 665L480 663L475 658L481 653L486 651L491 655Z" fill="#2e2e2e" fill-opacity="0.55" stroke="none"/><path d="M491 661L484 664L479 661L474 656L480 651L485 650L490 654Z" fill="#747474"/><path d="M308 603L305 592L311 584L323 587L329 597L324 611Z" fill="#2e2e2e" fill-opacity="0.55" stroke="none"/><path d="M307 601L304 591L310 582L322 585L328 596L323 609Z" fill="#767676"/><path d="M528 531L520 527L526 521L531 518L535 524L534 530Z" fill="#2e2e2e" fill-opacity="0.55" stroke="none"/><path d="M527 529L519 526L525 520L530 516L534 522L533 529Z" fill="#7e7e7e"/><path d="M527 515L539 530L543 526L531 512Z" fill="#2e2e2e" fill-opacity="0.55" stroke="none"/><path d="M525 514L537 528L541 525L529 510Z" fill="#949494"/><path d="M509 686L505 678L511 673L518 677L518 685Z" fill="#2e2e2e" fill-opacity="0.55" stroke="none"/><path d="M508 684L504 676L510 671L517 675L517 683Z" fill="#848484"/><path d="M345 577L337 566L346 557L356 559L355 569Z" fill="#2e2e2e" fill-opacity="0.55" stroke="none"/><path d="M344 576L335 564L345 555L355 557L353 567Z" fill="#7b7b7b"/><path d="M441 614L443 602L458 595L465 609L462 621L447 623Z" fill="#2e2e2e" fill-opacity="0.55" stroke="none"/><path d="M439 612L442 600L457 594L464 608L461 620L446 622Z" fill="#7d7d7d"/><path d="M413 499L404 504L397 498L391 489L400 483L411 483L416 490Z" fill="#2e2e2e" fill-opacity="0.55" stroke="none"/><path d="M412 498L403 503L396 496L390 487L399 482L410 482L414 488Z" fill="#828282"/><path d="M340 688L331 677L331 666L341 662L350 667L350 676Z" fill="#2e2e2e" fill-opacity="0.55" stroke="none"/><path d="M339 686L330 675L330 665L340 661L349 665L348 675Z" fill="#7d7d7d"/><path d="M388 460L381 456L385 451L391 450L398 454L393 459Z" fill="#2e2e2e" fill-opacity="0.55" stroke="none"/><path d="M387 458L380 455L384 450L390 448L397 453L392 458Z" fill="#828282"/><path d="M333 516L321 521L307 522L305 507L315 499L327 505Z" fill="#2e2e2e" fill-opacity="0.55" stroke="none"/><path d="M332 515L320 519L306 521L304 506L313 497L326 504Z" fill="#848484"/><path d="M342 580L334 584L326 585L324 573L333 567L342 572Z" fill="#2e2e2e" fill-opacity="0.55" stroke="none"/><path d="M340 578L333 583L325 583L323 571L332 566L341 570Z" fill="#838383"/><path d="M300 645L290 639L289 628L296 619L305 627L309 638Z" fill="#2e2e2e" fill-opacity="0.55" stroke="none"/><path d="M299 643L288 637L288 626L295 617L304 625L308 636Z" fill="#848484"/><path d="M468 462L467 448L477 442L486 446L487 455L480 463Z" fill="#2e2e2e" fill-opacity="0.55" stroke="none"/><path d="M467 460L466 447L476 441L485 444L486 454L479 462Z" fill="#777777"/><path d="M417 531L419 518L432 515L441 528L432 536L423 539Z" fill="#2e2e2e" fill-opacity="0.55" stroke="none"/><path d="M416 529L417 516L431 513L440 527L430 535L422 538Z" fill="#7e7e7e"/><path d="M482 531L475 525L470 515L482 507L490 517L496 530Z" fill="#2e2e2e" fill-opacity="0.55" stroke="none"/><path d="M481 529L474 524L469 513L481 506L489 515L494 528Z" fill="#7b7b7b"/><path d="M508 568L499 572L489 569L486 557L495 550L502 556Z" fill="#2e2e2e" fill-opacity="0.55" stroke="none"/><path d="M507 566L498 570L488 567L485 556L494 548L500 555Z" fill="#7c7c7c"/><path d="M460 524L450 521L447 507L461 504L468 509L476 521Z" fill="#2e2e2e" fill-opacity="0.55" stroke="none"/><path d="M459 522L449 519L446 506L459 502L467 508L475 519Z" fill="#7e7e7e"/><path d="M534 589L528 587L522 581L529 575L536 580Z" fill="#2e2e2e" fill-opacity="0.55" stroke="none"/><path d="M533 587L526 585L520 579L528 574L535 579Z" fill="#858585"/><path d="M522 597L516 603L505 598L507 586L515 578L525 588Z" fill="#2e2e2e" fill-opacity="0.55" stroke="none"/><path d="M521 595L515 602L504 596L506 584L514 577L524 586Z" fill="#7d7d7d"/><path d="M525 577L503 597L506 600L527 579Z" fill="#2e2e2e" fill-opacity="0.55" stroke="none"/><path d="M524 576L502 596L504 598L526 578Z" fill="#acacac"/><path d="M536 606L528 603L522 594L528 587L538 582L547 588L546 601Z" fill="#2e2e2e" fill-opacity="0.55" stroke="none"/><path d="M535 604L527 601L521 592L527 585L536 580L545 586L545 600Z" fill="#828282"/><path d="M421 627L423 615L437 611L447 623L438 633L427 634Z" fill="#2e2e2e" fill-opacity="0.55" stroke="none"/><path d="M419 625L422 614L436 609L446 621L437 632L426 633Z" fill="#7e7e7e"/><path d="M443 651L447 641L455 640L461 649L451 655Z" fill="#2e2e2e" fill-opacity="0.55" stroke="none"/><path d="M442 649L445 639L454 639L459 647L450 654Z" fill="#848484"/><path d="M487 691L480 704L469 696L461 681L473 673L489 675Z" fill="#2e2e2e" fill-opacity="0.55" stroke="none"/><path d="M486 689L479 702L468 695L459 680L472 672L488 674Z" fill="#838383"/><path d="M527 525L513 516L521 501L534 506L535 516Z" fill="#2e2e2e" fill-opacity="0.55" stroke="none"/><path d="M526 523L512 514L519 500L533 504L534 515Z" fill="#858585"/><path d="M520 501L535 516L537 514L522 499Z" fill="#2e2e2e" fill-opacity="0.55" stroke="none"/><path d="M518 500L534 515L536 512L521 497Z" fill="#a4a4a4"/><path d="M326 683L316 679L318 671L327 669L333 677Z" fill="#2e2e2e" fill-opacity="0.55" stroke="none"/><path d="M325 681L315 678L317 669L326 668L332 676Z" fill="#858585"/><path d="M384 575L378 573L374 567L378 559L385 561L392 565L389 572Z" fill="#2e2e2e" fill-opacity="0.55" stroke="none"/><path d="M383 574L376 571L373 566L377 558L384 560L391 564L387 571Z" fill="#858585"/><path d="M383 576L380 568L381 559L390 561L393 569L393 577Z" fill="#2e2e2e" fill-opacity="0.55" stroke="none"/><path d="M382 575L379 567L380 558L388 559L392 567L392 576Z" fill="#848484"/><path d="M550 608L539 618L527 608L526 590L546 589Z" fill="#2e2e2e" fill-opacity="0.55" stroke="none"/><path d="M549 606L537 617L526 607L525 588L545 587Z" fill="#818181"/></g><path d="M426.7,653.5L435.4,649.1 M308,459.6L312.8,459.6L316.8,456.9 M501.9,655L497.6,659.9L499,666.3 M344,496.2L334.8,503.7 M351,454.1L356.4,452.2L360.1,447.8 M388.5,638.2L400.4,640.6 M391.3,465.1L384.4,468.4 M386.4,519.9L390.2,526 M440.3,491L439,489L439.8,486.7L441.8,485.3 M306.2,543.6L309.4,542.3L311,539.3L314.3,538.2 M310.9,482.2L308.1,481.3L306.7,478.7L305,476.4 M411.5,603.9L415.9,601.2L420.9,600.1L426.1,600.3 M436.1,495.4L435.4,500.2L438.7,503.8 M334.2,460L333,453.8L333.9,447.4 M499.1,598.9L504.2,608 M383.2,594L385,592.6L387.2,592.2L389.1,591.1 M313.3,454L311.3,451.4L308,450.6L305.2,448.8 M401.1,550.6L413.4,545.5 M384.3,663.8L377.1,662.7 M318.1,588.6L321,584.9L325.6,584.1L328,580.1 M352.3,493.7L345.3,499.1 M496.7,644.2L496.3,639.5L497.9,635.1 M359,650.3L355.5,648.1L351.5,647.9 M441.5,506.9L440.2,503.4L439.4,499.6L437.8,496.1 M510.6,590L523.1,580.4 M411.9,607.5L407.5,613.8 M360.5,670.3L364.1,672.5L366.5,676.1L367.1,680.3 M462.5,459.8L454,469.2 M367.6,529L363.9,535.5L367.2,542.2 M328,674.8L338.3,680.4 M415,525L417.1,528.3L417.9,532.1L421.5,533.6 M337.1,550.3L332,550L326.9,550.2 M336.6,476.2L332.9,478.1L331,481.8L326.9,482.3 M307,550.3L308.1,564.4 M367.3,453.7L358,445.4 M401,662.1L400.3,658L396.6,656.3L395.9,652.3 M383.9,608.7L386.9,601 M502.3,549.7L498.6,543.5L494.6,537.4 M346.1,613.6L348.8,620.6 M512.8,605.4L517.8,605.7L520.5,609.9" fill="none" stroke="#dadada" stroke-width="1.1" stroke-opacity="0.7" stroke-linecap="round" stroke-linejoin="round"/><ellipse cx="520.9" cy="660.5" rx="1.2" ry="0.9" transform="rotate(129 520.9 660.5)" fill="#1a1a1a" opacity="0.7"/><ellipse cx="430.9" cy="651" rx="2.3" ry="1.5" transform="rotate(139 430.9 651)" fill="#1a1a1a" opacity="0.7"/><ellipse cx="480.9" cy="641.3" rx="1.1" ry="1.3" transform="rotate(88 480.9 641.3)" fill="#1a1a1a" opacity="0.7"/><ellipse cx="356.7" cy="560.6" rx="1" ry="1.2" transform="rotate(178 356.7 560.6)" fill="#1a1a1a" opacity="0.7"/><ellipse cx="392.4" cy="548.8" rx="2" ry="1.5" transform="rotate(157 392.4 548.8)" fill="#1a1a1a" opacity="0.7"/><ellipse cx="395.9" cy="476.7" rx="2.4" ry="1.4" transform="rotate(77 395.9 476.7)" fill="#1a1a1a" opacity="0.7"/></g></g>
<g clip-path="url(#c2)"><g filter="url(#soft)"><rect x="539" y="446" width="229.2" height="229" fill="#7e7e7e"/><g stroke="#b0b0b0" stroke-width="1.0" stroke-opacity="0.28" stroke-linejoin="round"><path d="M754 512L738 534L709 535L695 517L688 491L712 469L737 484Z" fill="#2e2e2e" fill-opacity="0.1" stroke="none"/><path d="M752 510L737 532L707 534L694 516L687 489L711 468L735 482Z" fill="#808080"/><path d="M745 644L724 623L724 603L736 584L761 588L783 606L769 629Z" fill="#2e2e2e" fill-opacity="0.1" stroke="none"/><path d="M744 643L723 621L723 601L735 583L760 586L782 605L767 627Z" fill="#7b7b7b"/><path d="M597 622L597 587L625 576L640 605L626 625Z" fill="#2e2e2e" fill-opacity="0.1" stroke="none"/><path d="M596 621L595 585L624 574L639 603L624 623Z" fill="#7f7f7f"/><path d="M576 624L555 633L537 638L523 620L528 595L552 582L576 598Z" fill="#2e2e2e" fill-opacity="0.1" stroke="none"/><path d="M575 622L554 631L536 636L522 619L527 593L551 580L574 596Z" fill="#7d7d7d"/><path d="M524 533L521 510L530 490L561 494L559 517L552 541Z" fill="#2e2e2e" fill-opacity="0.1" stroke="none"/><path d="M523 532L520 508L529 488L560 493L558 515L551 540Z" fill="#818181"/><path d="M603 472L580 461L584 437L605 428L623 442L622 463Z" fill="#2e2e2e" fill-opacity="0.1" stroke="none"/><path d="M602 470L579 460L583 435L603 426L622 441L620 462Z" fill="#7b7b7b"/><path d="M589 506L545 490L534 457L568 425L608 432L610 473Z" fill="#2e2e2e" fill-opacity="0.1" stroke="none"/><path d="M588 504L543 488L533 456L567 424L607 431L608 471Z" fill="#808080"/><path d="M583 636L573 608L580 581L608 569L641 592L630 624L615 640Z" fill="#2e2e2e" fill-opacity="0.1" stroke="none"/><path d="M582 634L571 606L578 580L607 567L640 590L629 622L614 638Z" fill="#808080"/><path d="M720 563L696 557L676 543L692 523L716 523L730 541Z" fill="#2e2e2e" fill-opacity="0.1" stroke="none"/><path d="M719 561L694 555L675 542L691 522L715 522L729 539Z" fill="#818181"/><path d="M722 529L701 522L692 490L711 468L751 484L747 512Z" fill="#2e2e2e" fill-opacity="0.1" stroke="none"/><path d="M721 528L699 520L691 489L710 467L750 483L746 510Z" fill="#808080"/><path d="M760 660L745 638L750 612L784 609L796 633L781 652Z" fill="#2e2e2e" fill-opacity="0.1" stroke="none"/><path d="M758 659L744 636L749 610L783 608L794 632L780 650Z" fill="#7c7c7c"/><path d="M611 508L606 479L629 466L654 462L664 483L663 508L638 512Z" fill="#2e2e2e" fill-opacity="0.1" stroke="none"/><path d="M609 506L605 477L628 464L653 460L663 482L662 506L637 510Z" fill="#7c7c7c"/><path d="M664 700L651 681L665 659L688 658L697 682L688 702Z" fill="#2e2e2e" fill-opacity="0.1" stroke="none"/><path d="M662 698L650 680L664 657L687 657L696 681L686 700Z" fill="#7f7f7f"/><path d="M535 709L520 674L543 647L583 660L568 698Z" fill="#2e2e2e" fill-opacity="0.1" stroke="none"/><path d="M534 707L518 673L542 645L582 658L567 696Z" fill="#818181"/><path d="M582 551L579 524L605 520L617 540L605 566Z" fill="#2e2e2e" fill-opacity="0.1" stroke="none"/><path d="M581 549L578 522L604 519L616 538L604 564Z" fill="#7d7d7d"/><path d="M790 680L773 704L737 707L713 678L736 642L776 639Z" fill="#2e2e2e" fill-opacity="0.1" stroke="none"/><path d="M788 678L771 702L736 705L711 676L735 640L775 638Z" fill="#7f7f7f"/><path d="M671 660L663 630L688 611L708 630L713 649L693 670Z" fill="#2e2e2e" fill-opacity="0.1" stroke="none"/><path d="M669 659L662 628L687 609L707 629L711 647L692 668Z" fill="#7f7f7f"/><path d="M630 634L605 656L578 648L571 617L590 601L616 613Z" fill="#2e2e2e" fill-opacity="0.1" stroke="none"/><path d="M629 632L603 654L577 647L570 615L589 599L614 611Z" fill="#7d7d7d"/><path d="M717 576L680 546L698 512L737 509L762 550Z" fill="#2e2e2e" fill-opacity="0.1" stroke="none"/><path d="M716 575L679 545L697 510L736 507L760 548Z" fill="#7e7e7e"/><path d="M800 471L776 485L759 468L761 440L784 432L800 449Z" fill="#2e2e2e" fill-opacity="0.1" stroke="none"/><path d="M798 470L775 484L758 467L760 438L782 431L799 448Z" fill="#7d7d7d"/><path d="M597 628L585 596L603 567L630 575L655 599L631 621Z" fill="#2e2e2e" fill-opacity="0.1" stroke="none"/><path d="M596 626L584 594L602 565L629 574L654 598L630 619Z" fill="#7c7c7c"/><path d="M630 535L613 521L620 503L639 495L652 511L647 531Z" fill="#2e2e2e" fill-opacity="0.1" stroke="none"/><path d="M629 534L612 519L619 502L638 493L650 510L646 530Z" fill="#818181"/><path d="M695 685L677 708L650 701L639 676L642 646L673 641L702 656Z" fill="#2e2e2e" fill-opacity="0.1" stroke="none"/><path d="M694 684L676 707L649 700L638 674L641 644L672 639L701 655Z" fill="#818181"/><path d="M588 678L556 687L548 661L551 631L581 639L600 655Z" fill="#2e2e2e" fill-opacity="0.1" stroke="none"/><path d="M587 676L555 685L547 660L550 629L580 637L599 654Z" fill="#7b7b7b"/><path d="M751 594L722 622L679 627L669 591L696 556L735 560Z" fill="#2e2e2e" fill-opacity="0.1" stroke="none"/><path d="M750 592L721 620L678 625L668 589L695 554L734 558Z" fill="#7e7e7e"/><path d="M586 673L564 667L556 643L568 622L593 623L612 641L606 661Z" fill="#2e2e2e" fill-opacity="0.1" stroke="none"/><path d="M585 672L563 665L554 641L566 620L591 621L611 640L605 659Z" fill="#818181"/><path d="M694 570L701 537L734 542L767 568L741 597L710 594Z" fill="#2e2e2e" fill-opacity="0.1" stroke="none"/><path d="M693 568L700 536L732 541L765 566L739 595L709 593Z" fill="#808080"/><path d="M717 489L690 503L663 475L680 440L709 455Z" fill="#2e2e2e" fill-opacity="0.1" stroke="none"/><path d="M716 487L689 502L662 474L679 438L708 454Z" fill="#7c7c7c"/><path d="M567 697L532 677L541 642L569 623L598 643L603 675Z" fill="#2e2e2e" fill-opacity="0.1" stroke="none"/><path d="M566 695L531 676L540 641L568 622L597 642L602 673Z" fill="#818181"/><path d="M540 573L541 541L545 506L582 504L598 540L600 573L574 590Z" fill="#2e2e2e" fill-opacity="0.1" stroke="none"/><path d="M539 571L539 539L544 505L581 502L597 538L599 571L573 588Z" fill="#7b7b7b"/><path d="M674 561L668 536L678 521L694 521L707 536L695 552Z" fill="#2e2e2e" fill-opacity="0.1" stroke="none"/><path d="M672 560L667 535L677 519L692 519L706 534L694 550Z" fill="#7f7f7f"/><path d="M525 675L532 647L563 630L581 652L588 688L553 698Z" fill="#2e2e2e" fill-opacity="0.1" stroke="none"/><path d="M524 674L531 645L562 629L580 650L587 686L552 696Z" fill="#7e7e7e"/><path d="M690 590L706 562L740 564L759 591L740 612L711 613Z" fill="#2e2e2e" fill-opacity="0.1" stroke="none"/><path d="M689 588L704 560L739 562L758 589L739 611L710 611Z" fill="#7d7d7d"/><path d="M667 489L640 520L611 502L597 470L625 448L658 454Z" fill="#2e2e2e" fill-opacity="0.1" stroke="none"/><path d="M666 488L639 518L610 500L596 468L624 446L657 453Z" fill="#7f7f7f"/><path d="M699 628L681 601L690 578L724 581L728 616Z" fill="#2e2e2e" fill-opacity="0.1" stroke="none"/><path d="M698 627L679 600L689 577L722 580L726 615Z" fill="#818181"/><path d="M669 566L680 515L722 497L750 540L717 569Z" fill="#2e2e2e" fill-opacity="0.1" stroke="none"/><path d="M668 565L678 514L721 495L749 538L716 567Z" fill="#818181"/><path d="M825 492L788 518L753 517L726 485L759 453L792 456Z" fill="#2e2e2e" fill-opacity="0.1" stroke="none"/><path d="M824 490L787 516L751 516L725 483L758 451L791 454Z" fill="#7e7e7e"/><path d="M584 584L559 577L549 546L573 520L601 523L622 546L624 582Z" fill="#2e2e2e" fill-opacity="0.1" stroke="none"/><path d="M583 582L558 576L548 544L572 518L599 522L621 544L623 580Z" fill="#7c7c7c"/><path d="M695 667L667 666L672 633L683 606L716 614L733 635L720 665Z" fill="#2e2e2e" fill-opacity="0.1" stroke="none"/><path d="M694 666L666 665L670 632L682 604L715 613L732 634L718 663Z" fill="#7e7e7e"/><path d="M743 609L700 627L670 582L702 547L744 560Z" fill="#2e2e2e" fill-opacity="0.1" stroke="none"/><path d="M742 607L699 625L669 581L701 545L743 559Z" fill="#7b7b7b"/><path d="M640 513L643 497L660 491L679 493L685 520L664 529L642 536Z" fill="#2e2e2e" fill-opacity="0.1" stroke="none"/><path d="M638 511L641 495L659 489L678 491L684 519L663 527L641 534Z" fill="#7d7d7d"/><path d="M626 494L601 477L603 443L632 442L653 469Z" fill="#2e2e2e" fill-opacity="0.1" stroke="none"/><path d="M624 492L600 475L602 442L630 441L652 467Z" fill="#7d7d7d"/><path d="M747 701L741 658L769 636L806 647L812 688L790 715Z" fill="#2e2e2e" fill-opacity="0.1" stroke="none"/><path d="M746 699L739 656L767 635L805 646L811 687L789 714Z" fill="#7c7c7c"/><path d="M579 554L565 572L542 558L546 532L562 517L587 529Z" fill="#2e2e2e" fill-opacity="0.1" stroke="none"/><path d="M578 552L564 570L541 557L545 531L560 515L586 528Z" fill="#7b7b7b"/><path d="M713 471L689 475L668 460L684 431L707 426L720 448Z" fill="#2e2e2e" fill-opacity="0.1" stroke="none"/><path d="M711 469L688 474L667 458L683 430L706 424L719 447Z" fill="#7d7d7d"/><path d="M622 480L587 509L549 509L544 473L562 445L593 444Z" fill="#2e2e2e" fill-opacity="0.1" stroke="none"/><path d="M620 478L586 507L548 508L543 472L561 443L592 443Z" fill="#7f7f7f"/><path d="M639 585L632 552L652 538L678 544L666 576Z" fill="#2e2e2e" fill-opacity="0.1" stroke="none"/><path d="M638 583L631 550L651 536L677 542L665 574Z" fill="#7b7b7b"/><path d="M754 675L740 662L749 643L763 634L784 642L786 665L778 680Z" fill="#2e2e2e" fill-opacity="0.1" stroke="none"/><path d="M753 673L739 660L748 641L762 632L783 640L785 664L777 679Z" fill="#7f7f7f"/><path d="M609 569L594 592L564 591L550 563L571 544L595 542Z" fill="#2e2e2e" fill-opacity="0.1" stroke="none"/><path d="M608 568L593 591L563 589L549 562L570 543L594 540Z" fill="#808080"/><path d="M711 646L704 602L737 581L774 594L755 643Z" fill="#2e2e2e" fill-opacity="0.1" stroke="none"/><path d="M709 645L703 601L736 580L773 592L754 642Z" fill="#818181"/><path d="M664 547L642 545L635 522L648 509L665 510L681 526Z" fill="#2e2e2e" fill-opacity="0.1" stroke="none"/><path d="M663 545L641 544L634 520L647 508L664 508L680 525Z" fill="#7f7f7f"/><path d="M715 556L679 555L665 530L688 506L718 519Z" fill="#2e2e2e" fill-opacity="0.1" stroke="none"/><path d="M714 554L678 554L664 529L687 505L717 517Z" fill="#7b7b7b"/><path d="M768 531L747 534L720 521L735 499L754 489L774 504Z" fill="#2e2e2e" fill-opacity="0.1" stroke="none"/><path d="M767 529L745 532L719 519L734 497L753 488L773 503Z" fill="#7b7b7b"/><path d="M532 632L522 616L523 593L547 590L562 606L552 627Z" fill="#2e2e2e" fill-opacity="0.1" stroke="none"/><path d="M531 631L521 614L521 591L546 588L561 604L551 625Z" fill="#7b7b7b"/><path d="M582 582L593 546L625 531L651 558L660 590L645 618L617 609Z" fill="#2e2e2e" fill-opacity="0.1" stroke="none"/><path d="M581 581L592 544L623 530L650 556L659 589L644 616L616 608Z" fill="#818181"/><path d="M563 679L542 647L568 615L606 630L600 678Z" fill="#2e2e2e" fill-opacity="0.1" stroke="none"/><path d="M562 677L540 646L567 614L604 629L599 677Z" fill="#7e7e7e"/><path d="M727 586L740 562L766 558L773 584L754 599Z" fill="#2e2e2e" fill-opacity="0.1" stroke="none"/><path d="M726 584L739 561L765 556L772 582L752 597Z" fill="#7d7d7d"/><path d="M678 650L645 655L630 622L662 598L692 617Z" fill="#2e2e2e" fill-opacity="0.1" stroke="none"/><path d="M677 648L644 653L628 620L660 597L691 615Z" fill="#808080"/><path d="M771 625L758 609L757 587L772 576L797 584L805 601L791 619Z" fill="#2e2e2e" fill-opacity="0.1" stroke="none"/><path d="M770 623L757 607L756 585L770 575L796 583L803 599L789 618Z" fill="#7f7f7f"/><path d="M755 513L744 537L717 528L708 509L726 495L747 494Z" fill="#2e2e2e" fill-opacity="0.1" stroke="none"/><path d="M753 511L742 535L716 526L707 507L724 493L746 493Z" fill="#7f7f7f"/><path d="M786 551L767 568L744 561L741 528L759 514L792 524Z" fill="#2e2e2e" fill-opacity="0.1" stroke="none"/><path d="M784 549L766 566L743 559L740 527L758 512L791 522Z" fill="#818181"/><path d="M739 570L753 538L786 523L816 556L792 587L767 596Z" fill="#2e2e2e" fill-opacity="0.1" stroke="none"/><path d="M738 569L752 536L785 521L815 555L791 586L766 594Z" fill="#818181"/><path d="M567 595L538 616L500 602L496 568L536 543L572 559Z" fill="#2e2e2e" fill-opacity="0.1" stroke="none"/><path d="M566 594L537 615L498 600L495 566L534 542L570 557Z" fill="#7e7e7e"/><path d="M566 447L545 455L522 448L523 429L534 406L559 425Z" fill="#2e2e2e" fill-opacity="0.1" stroke="none"/><path d="M565 446L544 453L521 447L522 427L533 405L558 423Z" fill="#7c7c7c"/><path d="M772 621L749 624L729 611L722 582L745 563L773 578L782 596Z" fill="#2e2e2e" fill-opacity="0.1" stroke="none"/><path d="M771 619L748 622L727 609L721 581L744 562L772 577L781 595Z" fill="#7b7b7b"/><path d="M551 593L527 578L544 551L575 552L571 582Z" fill="#2e2e2e" fill-opacity="0.1" stroke="none"/><path d="M550 591L526 576L543 550L574 551L570 581Z" fill="#7c7c7c"/><path d="M666 614L625 613L605 578L636 548L674 545L697 581Z" fill="#2e2e2e" fill-opacity="0.1" stroke="none"/><path d="M665 613L624 612L604 576L635 546L673 544L696 580Z" fill="#7f7f7f"/><path d="M745 524L751 480L795 464L822 500L790 539Z" fill="#2e2e2e" fill-opacity="0.1" stroke="none"/><path d="M744 522L750 478L794 462L821 498L788 538Z" fill="#7f7f7f"/><path d="M652 512L628 504L619 477L650 464L670 468L688 487L672 511Z" fill="#2e2e2e" fill-opacity="0.1" stroke="none"/><path d="M651 511L627 503L618 475L649 463L669 466L687 485L670 509Z" fill="#7c7c7c"/><path d="M712 509L673 521L646 504L657 466L685 446L707 468Z" fill="#2e2e2e" fill-opacity="0.1" stroke="none"/><path d="M711 507L671 520L644 502L656 465L684 445L706 467Z" fill="#7e7e7e"/></g><path d="M723.2,553.1L726.1,553.7L727.3,556.3L729.5,558.1 M736.4,552.3L729.5,541.5 M556.9,640.9L550.8,640L544.7,639.7L539,637.2 M631.2,619.3L625,611 M754.6,619.3L757.7,619L760.2,620.8L761.6,623.5 M674.9,545.8L679.9,537.5 M742.9,590.6L740.4,595.3L738.9,600.3 M625.1,663L623,658.5L618.8,655.7 M583.7,660.5L584.8,677 M709.1,494.1L705.4,497.3L703.8,501.9L706.2,506.2 M658.2,614.3L655.5,632.8 M736.5,594.5L733.5,603.3L734.5,612.5 M606.8,610.3L596.8,600.2 M579.9,475.2L580,481L582.9,486 M740.2,635L734.5,643.8L725.6,649.3 M664,469.5L656.8,456.2 M722.4,640.3L721.1,646.3L724.7,651.2L726,657.2 M719.8,486.9L735.7,482.8 M583.3,613.4L576.5,598.6 M741.8,489.7L747.3,494L752.7,498.5 M757.2,668.3L748.7,669.9L740.1,670 M543,579.1L535.3,569.8 M554,461.2L574.5,454.5 M574.4,553.9L578.3,553.8L581.9,552.6L585.6,553.5 M625,478.2L628.4,479.7L630.6,482.7L631.4,486.3" fill="none" stroke="#b4b4b4" stroke-width="1.1" stroke-opacity="0.55" stroke-linecap="round" stroke-linejoin="round"/><ellipse cx="700.3" cy="554.4" rx="2.2" ry="1.6" fill="#2a2a2a" opacity="0.7"/><ellipse cx="724.9" cy="617.3" rx="2.2" ry="1.6" fill="#2a2a2a" opacity="0.7"/><ellipse cx="753.3" cy="581.5" rx="2.2" ry="1.6" fill="#2a2a2a" opacity="0.7"/><ellipse cx="593.8" cy="665.2" rx="2.2" ry="1.6" fill="#2a2a2a" opacity="0.7"/><ellipse cx="659.3" cy="481.8" rx="2.2" ry="1.6" fill="#2a2a2a" opacity="0.7"/><ellipse cx="560.6" cy="638" rx="2.2" ry="1.6" fill="#2a2a2a" opacity="0.7"/><ellipse cx="672.3" cy="496.1" rx="2.2" ry="1.6" fill="#2a2a2a" opacity="0.7"/><ellipse cx="641.9" cy="663" rx="2.2" ry="1.6" fill="#2a2a2a" opacity="0.7"/><ellipse cx="740.8" cy="516.1" rx="2.2" ry="1.6" fill="#2a2a2a" opacity="0.7"/><ellipse cx="662.8" cy="515.5" rx="2.2" ry="1.6" fill="#2a2a2a" opacity="0.7"/><ellipse cx="755.1" cy="604.4" rx="2.2" ry="1.6" fill="#2a2a2a" opacity="0.7"/><ellipse cx="620.9" cy="589.8" rx="2.2" ry="1.6" fill="#2a2a2a" opacity="0.7"/><ellipse cx="547.8" cy="528.8" rx="2.2" ry="1.6" fill="#2a2a2a" opacity="0.7"/><ellipse cx="626.6" cy="665.6" rx="2.2" ry="1.6" fill="#2a2a2a" opacity="0.7"/><ellipse cx="609.4" cy="517.4" rx="2.2" ry="1.6" fill="#2a2a2a" opacity="0.7"/><ellipse cx="652.3" cy="518.4" rx="2.2" ry="1.6" fill="#2a2a2a" opacity="0.7"/><ellipse cx="547.4" cy="609.1" rx="2.2" ry="1.6" fill="#2a2a2a" opacity="0.7"/><ellipse cx="746.3" cy="654" rx="2.2" ry="1.6" fill="#2a2a2a" opacity="0.7"/><ellipse cx="591.5" cy="628.4" rx="2.2" ry="1.6" fill="#2a2a2a" opacity="0.7"/><ellipse cx="714.4" cy="470.4" rx="2.2" ry="1.6" fill="#2a2a2a" opacity="0.7"/><ellipse cx="704.4" cy="569.1" rx="2.2" ry="1.6" fill="#2a2a2a" opacity="0.7"/><ellipse cx="711" cy="506.9" rx="2.2" ry="1.6" fill="#2a2a2a" opacity="0.7"/><path d="M700.3,554.4L705.5,549.9M700.3,554.4L701.4,562.2M700.3,554.4L691.6,551.9M724.9,617.3L729,616.7M724.9,617.3L720.4,625.1M724.9,617.3L723.7,609.5M753.3,581.5L750.6,574.5M753.3,581.5L757,583.5M753.3,581.5L746.4,582.8M593.8,665.2L599.3,668.2M593.8,665.2L585.6,670.3M593.8,665.2L595.9,657.1M659.3,481.8L652.1,484.8M659.3,481.8L663,473.6M659.3,481.8L664,485.6M560.6,638L568.8,635.2M560.6,638L559.7,643.3M560.6,638L555.1,636.3M672.3,496.1L663.3,494.9M672.3,496.1L677.9,493.3M672.3,496.1L673.2,503.9M641.9,663L634.1,663.2M641.9,663L642.4,658M641.9,663L645.8,666M740.8,516.1L743,520.6M740.8,516.1L731.2,515.6M740.8,516.1L747,513.2M662.8,515.5L657.3,510.9M662.8,515.5L667.4,514.2M662.8,515.5L662,524.1M755.1,604.4L758.2,601.6M755.1,604.4L755.3,610.1M755.1,604.4L747.5,598.6M620.9,589.8L616.8,596.1M620.9,589.8L614.6,583.2M620.9,589.8L628.6,587.5M547.8,528.8L539.4,529.4M547.8,528.8L554.7,522.5M547.8,528.8L553.7,535.7M626.6,665.6L636.1,668.4M626.6,665.6L624.1,669M626.6,665.6L626.6,659.1M609.4,517.4L608.5,513.4M609.4,517.4L613.8,522.8M609.4,517.4L605.6,520.9M652.3,518.4L645.3,514.7M652.3,518.4L658.8,512.9M652.3,518.4L650.4,526.1M547.4,609.1L541.8,605.6M547.4,609.1L550.9,606.4M547.4,609.1L548.2,618.4M746.3,654L747.9,649.9M746.3,654L752.3,661M746.3,654L738.2,652.8M591.5,628.4L588,632.7M591.5,628.4L588.6,621.8M591.5,628.4L600.1,628M714.4,470.4L710,470.2M714.4,470.4L715.6,465.8M714.4,470.4L718.3,475.2M704.4,569.1L705,559.7M704.4,569.1L707.3,572.9M704.4,569.1L698.5,570M711,506.9L709.8,514.7M711,506.9L706.9,500.8M711,506.9L714.7,505.4" stroke="#c0c0c0" stroke-width="1.5" stroke-opacity="0.55" fill="none" stroke-linecap="round"/><path d="M552.2,573.8L551.1,569.4L547.3,567.1 M566.4,599.4L568.4,604.1 M743.3,490.5L743.7,481.7 M752.9,622.3L750.5,623.3L747.9,623.6L745.6,624.9 M682.5,644.5L685.6,644.1L688.7,644 M632.5,582.2L630.6,584.3L630.4,587.1L629.6,589.9 M648.8,557.6L646.5,559.7L646.1,562.8L647.4,565.6 M759.5,610.5L763.8,608.8L768.5,608.1 M542.2,674.5L537.4,676.9L532.2,677.7 M758.7,641.1L753.6,643.3L748.2,641.9 M681.4,606.4L686.4,604.2 M764.1,600.3L769.7,601.4 M643.3,464.3L650.1,459.2 M613.5,643.6L611.3,643.3L609.3,642.4L607.9,640.7 M666.7,457.4L665.1,460.3L666.3,463.3L665.9,466.5 M705.1,540.8L707.4,530.7 M684.8,454.6L684.4,457.2L683.9,459.8 M562.7,618.5L565,618.3L567.4,617.9L568.6,615.9 M646.3,547.3L649.9,546.9L653.2,545.5L656.5,546.8 M767.5,672.8L769.9,673.6L770.6,676L769.8,678.4 M636.4,482.4L638.5,483.5L639.6,485.6L640.4,487.8 M622.5,647.6L627.1,647L630.8,644.1 M603.9,517.1L609.6,520.1 M699.2,521.5L697,521.5L695.1,522.4L693,522.9 M550.1,557.3L553.2,556.4L555.7,554.2" fill="none" stroke="#505050" stroke-width="1.0" stroke-opacity="0.45" stroke-linecap="round" stroke-linejoin="round"/><ellipse cx="642.5" cy="637.7" rx="2.6" ry="1.5" transform="rotate(90 642.5 637.7)" fill="#2a2a2a" opacity="0.75"/><ellipse cx="746.8" cy="659.8" rx="3.3" ry="1.8" transform="rotate(54 746.8 659.8)" fill="#2a2a2a" opacity="0.75"/><ellipse cx="640.6" cy="610.7" rx="1.5" ry="1.1" transform="rotate(100 640.6 610.7)" fill="#2a2a2a" opacity="0.75"/><ellipse cx="610.9" cy="485.4" rx="1.8" ry="1.7" transform="rotate(87 610.9 485.4)" fill="#2a2a2a" opacity="0.75"/><ellipse cx="605.1" cy="532.9" rx="3" ry="1.9" transform="rotate(16 605.1 532.9)" fill="#2a2a2a" opacity="0.75"/><ellipse cx="714.8" cy="612.2" rx="2.4" ry="1.5" transform="rotate(16 714.8 612.2)" fill="#2a2a2a" opacity="0.75"/><ellipse cx="713.6" cy="518" rx="1" ry="0.9" transform="rotate(22 713.6 518)" fill="#2a2a2a" opacity="0.75"/><ellipse cx="692.5" cy="476.3" rx="2.2" ry="1.8" transform="rotate(127 692.5 476.3)" fill="#2a2a2a" opacity="0.75"/><ellipse cx="744.6" cy="485.1" rx="3.2" ry="1.9" transform="rotate(34 744.6 485.1)" fill="#2a2a2a" opacity="0.75"/><ellipse cx="607" cy="613.7" rx="1.3" ry="0.8" transform="rotate(98 607 613.7)" fill="#2a2a2a" opacity="0.75"/><ellipse cx="614.4" cy="654.9" rx="1.3" ry="0.9" transform="rotate(5 614.4 654.9)" fill="#2a2a2a" opacity="0.75"/><ellipse cx="545.9" cy="637.7" rx="2.2" ry="1.3" transform="rotate(19 545.9 637.7)" fill="#2a2a2a" opacity="0.75"/><ellipse cx="712.7" cy="504.4" rx="1.5" ry="1.4" transform="rotate(40 712.7 504.4)" fill="#2a2a2a" opacity="0.75"/><ellipse cx="670.6" cy="556.9" rx="2" ry="1.5" transform="rotate(49 670.6 556.9)" fill="#2a2a2a" opacity="0.75"/><path d="M539,505 L557,523 L598,509 L602,479 M598,509 L629,497" fill="none" stroke="#b8b8b8" stroke-width="4.2" stroke-linejoin="round"/><path d="M540,507 L557,524 L598,510 L601,481" fill="none" stroke="#5c5c5c" stroke-width="1.3" stroke-opacity="0.6" stroke-linejoin="round"/><ellipse cx="755" cy="467" rx="17" ry="11" fill="#c8c8c8" opacity="0.45"/><ellipse cx="760" cy="468" rx="9" ry="5" fill="#dedede" opacity="0.5"/></g></g>
<g clip-path="url(#c3)"><g filter="url(#soft)"><rect x="780.2" y="446" width="229.8" height="229" fill="#757575"/><rect x="780.2" y="446" width="229.8" height="229" fill="#fff" filter="url(#fine4)" opacity="0.18"/><rect x="780.2" y="446" width="229.8" height="229" fill="#fff" filter="url(#noise4b)" opacity="0.75"/><rect x="780.2" y="446" width="229.8" height="229" fill="#fff" filter="url(#noise4)" opacity="0.85"/><ellipse cx="972" cy="470" rx="1.4" ry="1.2" transform="rotate(64 972 470)" fill="#3a3a3a" opacity="0.55"/><ellipse cx="920.2" cy="536.2" rx="1.2" ry="0.9" transform="rotate(127 920.2 536.2)" fill="#3a3a3a" opacity="0.55"/><ellipse cx="1000.9" cy="550.6" rx="0.9" ry="0.9" transform="rotate(39 1000.9 550.6)" fill="#3a3a3a" opacity="0.55"/><ellipse cx="1000.2" cy="662" rx="1.9" ry="1.3" transform="rotate(38 1000.2 662)" fill="#3a3a3a" opacity="0.55"/><ellipse cx="926.5" cy="477.9" rx="1.6" ry="1" transform="rotate(46 926.5 477.9)" fill="#3a3a3a" opacity="0.55"/><ellipse cx="933" cy="643.6" rx="1" ry="0.7" transform="rotate(28 933 643.6)" fill="#3a3a3a" opacity="0.55"/><ellipse cx="819.9" cy="469.8" rx="1" ry="0.8" transform="rotate(143 819.9 469.8)" fill="#3a3a3a" opacity="0.55"/><ellipse cx="1007.9" cy="630.3" rx="1.2" ry="0.9" transform="rotate(10 1007.9 630.3)" fill="#3a3a3a" opacity="0.55"/><ellipse cx="943.6" cy="462.6" rx="2" ry="1.3" transform="rotate(150 943.6 462.6)" fill="#3a3a3a" opacity="0.55"/><ellipse cx="943.4" cy="605.7" rx="2.3" ry="1.3" transform="rotate(17 943.4 605.7)" fill="#3a3a3a" opacity="0.55"/><ellipse cx="885.1" cy="558.8" rx="0.7" ry="0.7" transform="rotate(177 885.1 558.8)" fill="#3a3a3a" opacity="0.55"/><ellipse cx="842.6" cy="651.4" rx="0.7" ry="0.7" transform="rotate(57 842.6 651.4)" fill="#3a3a3a" opacity="0.55"/><ellipse cx="850.8" cy="542.7" rx="1.2" ry="0.9" transform="rotate(17 850.8 542.7)" fill="#3a3a3a" opacity="0.55"/><ellipse cx="963.6" cy="507.5" rx="2.3" ry="1.3" transform="rotate(2 963.6 507.5)" fill="#3a3a3a" opacity="0.55"/><ellipse cx="976.4" cy="600.7" rx="0.7" ry="0.6" transform="rotate(101 976.4 600.7)" fill="#3a3a3a" opacity="0.55"/><ellipse cx="916.7" cy="601.9" rx="1.9" ry="1.1" transform="rotate(132 916.7 601.9)" fill="#3a3a3a" opacity="0.55"/><ellipse cx="951.4" cy="470.9" rx="1.7" ry="1" transform="rotate(3 951.4 470.9)" fill="#3a3a3a" opacity="0.55"/><ellipse cx="822.2" cy="471.8" rx="1.1" ry="1.3" transform="rotate(89 822.2 471.8)" fill="#3a3a3a" opacity="0.55"/><ellipse cx="895.8" cy="621.1" rx="1.5" ry="0.9" transform="rotate(53 895.8 621.1)" fill="#3a3a3a" opacity="0.55"/><ellipse cx="906.8" cy="459.2" rx="1.6" ry="1.1" transform="rotate(133 906.8 459.2)" fill="#3a3a3a" opacity="0.55"/><ellipse cx="802.9" cy="525" rx="1.1" ry="1.2" transform="rotate(0 802.9 525)" fill="#3a3a3a" opacity="0.55"/><ellipse cx="841.7" cy="606.1" rx="1" ry="0.9" transform="rotate(38 841.7 606.1)" fill="#3a3a3a" opacity="0.55"/><ellipse cx="852.1" cy="530.8" rx="1" ry="0.7" transform="rotate(91 852.1 530.8)" fill="#3a3a3a" opacity="0.55"/><ellipse cx="977.2" cy="446.1" rx="1.9" ry="1.2" transform="rotate(11 977.2 446.1)" fill="#3a3a3a" opacity="0.55"/><ellipse cx="879" cy="525.4" rx="1.6" ry="1.3" transform="rotate(46 879 525.4)" fill="#3a3a3a" opacity="0.55"/><ellipse cx="807.1" cy="587.1" rx="1.2" ry="0.9" transform="rotate(65 807.1 587.1)" fill="#3a3a3a" opacity="0.55"/><ellipse cx="1005.6" cy="538.9" rx="1.8" ry="1.2" transform="rotate(48 1005.6 538.9)" fill="#3a3a3a" opacity="0.55"/><ellipse cx="895.3" cy="538.7" rx="1.4" ry="1.2" transform="rotate(158 895.3 538.7)" fill="#3a3a3a" opacity="0.55"/><ellipse cx="886.1" cy="660.3" rx="1.4" ry="1.3" transform="rotate(87 886.1 660.3)" fill="#3a3a3a" opacity="0.55"/><ellipse cx="873.2" cy="671.9" rx="1.1" ry="1" transform="rotate(80 873.2 671.9)" fill="#3a3a3a" opacity="0.55"/><ellipse cx="820" cy="577.2" rx="2" ry="1.2" transform="rotate(142 820 577.2)" fill="#3a3a3a" opacity="0.55"/><ellipse cx="891.6" cy="517.5" rx="1.6" ry="1.2" transform="rotate(70 891.6 517.5)" fill="#3a3a3a" opacity="0.55"/><ellipse cx="885.8" cy="586.9" rx="1" ry="0.7" transform="rotate(99 885.8 586.9)" fill="#3a3a3a" opacity="0.55"/><ellipse cx="892.1" cy="571.8" rx="1.3" ry="1.4" transform="rotate(94 892.1 571.8)" fill="#3a3a3a" opacity="0.55"/><ellipse cx="942.5" cy="569.3" rx="1.4" ry="0.9" transform="rotate(128 942.5 569.3)" fill="#3a3a3a" opacity="0.55"/><ellipse cx="826.8" cy="671" rx="1" ry="1.2" transform="rotate(100 826.8 671)" fill="#3a3a3a" opacity="0.55"/><ellipse cx="955.4" cy="501.8" rx="1" ry="1.2" transform="rotate(14 955.4 501.8)" fill="#3a3a3a" opacity="0.55"/><ellipse cx="956.8" cy="670.8" rx="1.1" ry="1" transform="rotate(54 956.8 670.8)" fill="#3a3a3a" opacity="0.55"/><ellipse cx="828.1" cy="458.1" rx="1.2" ry="1.4" transform="rotate(91 828.1 458.1)" fill="#3a3a3a" opacity="0.55"/><ellipse cx="873.8" cy="577.6" rx="1" ry="1.1" transform="rotate(87 873.8 577.6)" fill="#3a3a3a" opacity="0.55"/><ellipse cx="810.1" cy="510.5" rx="1.2" ry="0.7" transform="rotate(29 810.1 510.5)" fill="#3a3a3a" opacity="0.55"/><ellipse cx="966" cy="587.4" rx="1.4" ry="0.9" transform="rotate(4 966 587.4)" fill="#3a3a3a" opacity="0.55"/><ellipse cx="862.9" cy="525.8" rx="0.8" ry="0.8" transform="rotate(122 862.9 525.8)" fill="#3a3a3a" opacity="0.55"/><ellipse cx="982.1" cy="631.2" rx="1" ry="0.7" transform="rotate(115 982.1 631.2)" fill="#3a3a3a" opacity="0.55"/><ellipse cx="991" cy="589.6" rx="1.3" ry="1.3" transform="rotate(99 991 589.6)" fill="#3a3a3a" opacity="0.55"/><ellipse cx="891" cy="539.6" rx="1.4" ry="1.2" transform="rotate(97 891 539.6)" fill="#3a3a3a" opacity="0.55"/><ellipse cx="895.8" cy="672" rx="1.1" ry="0.7" transform="rotate(54 895.8 672)" fill="#3a3a3a" opacity="0.55"/><ellipse cx="946.8" cy="535.3" rx="1.6" ry="1.3" transform="rotate(55 946.8 535.3)" fill="#3a3a3a" opacity="0.55"/><ellipse cx="877.2" cy="580" rx="1" ry="1.1" transform="rotate(62 877.2 580)" fill="#3a3a3a" opacity="0.55"/><ellipse cx="817.9" cy="614.6" rx="1.2" ry="0.8" transform="rotate(76 817.9 614.6)" fill="#3a3a3a" opacity="0.55"/><ellipse cx="918.3" cy="534" rx="1.8" ry="1.1" transform="rotate(24 918.3 534)" fill="#3a3a3a" opacity="0.55"/><ellipse cx="957.5" cy="598.3" rx="1.6" ry="0.9" transform="rotate(142 957.5 598.3)" fill="#3a3a3a" opacity="0.55"/><ellipse cx="815.5" cy="551" rx="2" ry="1.2" transform="rotate(151 815.5 551)" fill="#3a3a3a" opacity="0.55"/><ellipse cx="1000" cy="511.8" rx="1.4" ry="1.3" transform="rotate(56 1000 511.8)" fill="#3a3a3a" opacity="0.55"/><ellipse cx="934.3" cy="495.3" rx="1.6" ry="0.9" transform="rotate(153 934.3 495.3)" fill="#3a3a3a" opacity="0.55"/><ellipse cx="938.5" cy="481.4" rx="1.6" ry="1.2" transform="rotate(112 938.5 481.4)" fill="#3a3a3a" opacity="0.55"/><ellipse cx="913.8" cy="520.2" rx="0.7" ry="0.8" transform="rotate(159 913.8 520.2)" fill="#3a3a3a" opacity="0.55"/><ellipse cx="829.7" cy="533.8" rx="1.2" ry="0.7" transform="rotate(89 829.7 533.8)" fill="#3a3a3a" opacity="0.55"/><ellipse cx="845.3" cy="489.3" rx="1.8" ry="1.1" transform="rotate(151 845.3 489.3)" fill="#3a3a3a" opacity="0.55"/><ellipse cx="984.5" cy="463.8" rx="1" ry="1.1" transform="rotate(6 984.5 463.8)" fill="#3a3a3a" opacity="0.55"/><ellipse cx="891.5" cy="647.7" rx="2.2" ry="1.3" transform="rotate(171 891.5 647.7)" fill="#3a3a3a" opacity="0.55"/><ellipse cx="991.4" cy="644.5" rx="1.2" ry="1.3" transform="rotate(26 991.4 644.5)" fill="#3a3a3a" opacity="0.55"/><ellipse cx="991" cy="570.9" rx="1.2" ry="0.9" transform="rotate(74 991 570.9)" fill="#3a3a3a" opacity="0.55"/><ellipse cx="785.8" cy="461.2" rx="1.5" ry="1" transform="rotate(40 785.8 461.2)" fill="#3a3a3a" opacity="0.55"/><ellipse cx="850" cy="580.2" rx="2.4" ry="1.3" transform="rotate(20 850 580.2)" fill="#3a3a3a" opacity="0.55"/><ellipse cx="859.9" cy="473" rx="1.7" ry="1.2" transform="rotate(60 859.9 473)" fill="#3a3a3a" opacity="0.55"/><ellipse cx="790.5" cy="506.7" rx="1" ry="0.6" transform="rotate(30 790.5 506.7)" fill="#3a3a3a" opacity="0.55"/><ellipse cx="966.8" cy="514.4" rx="1" ry="0.9" transform="rotate(85 966.8 514.4)" fill="#3a3a3a" opacity="0.55"/><ellipse cx="876.2" cy="605.4" rx="0.8" ry="0.6" transform="rotate(2 876.2 605.4)" fill="#3a3a3a" opacity="0.55"/><ellipse cx="1003.9" cy="650.7" rx="1.4" ry="1.1" transform="rotate(76 1003.9 650.7)" fill="#3a3a3a" opacity="0.55"/><path d="M841,640.2L838.2,638.2L835.2,636.3L833.9,633.1 M782.2,649L777.6,650.3L773.4,648.1 M849.2,628.2L853.6,626.7L858.2,626.1L861.7,629.1 M783.4,669.5L779.1,665.3L774,662.2 M841.2,639.2L844.9,635.8L844.4,630.7L841.2,626.8 M800.9,623.8L813.8,621.1 M800.2,633.7L797.4,636.5L793.4,636.2L789.7,637.5 M850.1,661.4L842.5,665.8L838.2,673.6 M837.1,636.4L819.9,635.1 M802.5,659.4L793.5,661.5 M802.3,672.4L786.8,668.6 M822.9,644.9L829.3,641.6L836.5,642.1" fill="none" stroke="#c8c8c8" stroke-width="1.2" stroke-opacity="0.75" stroke-linecap="round" stroke-linejoin="round"/><path d="M927.9,581L932.9,575.1 M983.8,650.3L983.5,655.3L980,658.8 M992.7,529.3L991.8,531.4L990.1,532.9 M880.5,468L877.1,468.7L874.9,471.4 M811.2,499.2L811.4,501L811.3,502.8L811.4,504.5 M993,592.5L991.2,594L990,596.1L990.8,598.3 M810.1,669.3L811.7,670.2L813.5,670.4L815.2,671.3 M943.9,543L946.9,544.9L950,546.5 M909.7,648.7L913.4,651.1L916.7,654.1 M1009.2,480.3L1006.6,479.6L1004.3,481L1001.6,480.9 M859,516.7L861.2,514.9L864,514.2L866.5,515.6 M913.5,575L910.7,572.8L910.4,569.3 M913.6,674.8L913,671.9L914.8,669.7L917.2,668 M872.5,482.7L873.6,479.5L872.9,476.2 M994.9,488.4L993.2,486.3L990.6,485.6L987.9,485.1 M799.5,450.2L806,447.1 M930.6,630.7L923.7,626.4 M789.6,614.4L788.8,613.2L788.3,612L788.3,610.5 M959.4,629.3L955,628.4 M834.7,516.9L835.7,515.1L837.4,513.9L839.2,512.9 M868.5,644.6L868.1,642.5L867.4,640.6L867.2,638.5 M870.2,447.9L872.5,451.4L876.1,453.6 M780.8,543.9L783.1,548L787.7,549.2 M824.6,670.9L817.1,670.7 M899.8,646.3L897.2,647.8L894.3,646.9L893.2,644.1 M899,650.9L897.8,649.5L898.1,647.6L899.3,646.2 M891.4,488.6L891.5,486.6L889.9,485.4L888.4,484 M827.3,595.4L828.6,596.5L829.4,598L829,599.6 M953.2,638.5L947.1,630.6 M987.1,533.5L986.5,530.9L984.7,528.9L983.2,526.8" fill="none" stroke="#aaaaaa" stroke-width="1.0" stroke-opacity="0.55" stroke-linecap="round" stroke-linejoin="round"/></g></g>
<text x="103.0" y="483.6" font-family="&apos;Liberation Sans&apos;, sans-serif" font-size="27.5" fill="#fff" stroke="#fff" stroke-width="0.4">1 mAh cm<tspan dy="-8.5" font-size="16">-2</tspan></text>
<rect x="221.0" y="659.8" width="53.7" height="3.9" fill="#fff"/>
<text x="343.6" y="483.6" font-family="&apos;Liberation Sans&apos;, sans-serif" font-size="27.5" fill="#fff" stroke="#fff" stroke-width="0.4">2 mAh cm<tspan dy="-8.5" font-size="16">-2</tspan></text>
<rect x="461.6" y="659.8" width="53.7" height="3.9" fill="#fff"/>
<text x="584.5" y="483.6" font-family="&apos;Liberation Sans&apos;, sans-serif" font-size="27.5" fill="#fff" stroke="#fff" stroke-width="0.4">5 mAh cm<tspan dy="-8.5" font-size="16">-2</tspan></text>
<rect x="702.5" y="659.8" width="53.7" height="3.9" fill="#fff"/>
<text x="817.7" y="483.6" font-family="&apos;Liberation Sans&apos;, sans-serif" font-size="27.5" fill="#fff" stroke="#fff" stroke-width="0.4">10 mAh cm<tspan dy="-8.5" font-size="16">-2</tspan></text>
<rect x="943.7" y="659.8" width="53.7" height="3.9" fill="#fff"/>
<rect x="57.3" y="697.2" width="952" height="193.8" fill="#f8f7be"/>
<path d="M361.5,774.7 A135.2,23 0 1 0 310,776.7 L381.5,809.4 Z" fill="#fff" stroke="#82bd55" stroke-width="2.4" stroke-linejoin="miter"/>
<text x="219.8" y="763.8" font-family="&apos;Liberation Sans&apos;, sans-serif" font-weight="bold" font-size="21" fill="#b8111a" stroke="#b8111a" stroke-width="0.35" textLength="175.4" lengthAdjust="spacingAndGlyphs">Initial Zn-Plating</text>
<path d="M705.5,777.2 A135.5,23.3 0 1 0 655,778.8 L723.3,817 Z" fill="#fff" stroke="#82bd55" stroke-width="2.4" stroke-linejoin="miter"/>
<text x="562" y="763.8" font-family="&apos;Liberation Sans&apos;, sans-serif" font-weight="bold" font-size="21" fill="#b8111a" stroke="#b8111a" stroke-width="0.35" textLength="192.7" lengthAdjust="spacingAndGlyphs">Further Zn-plating</text>
<rect x="98.9" y="873.1" width="221.2" height="8.6" fill="#d25d18"/>
<rect x="408.9" y="873.1" width="220.8" height="8.6" fill="#d25d18"/>
<rect x="727.7" y="873.1" width="232.3" height="8.6" fill="#d25d18"/>
<polygon points="124,815.2 155.2,823.4 156.8,856.2 142.7,872.6 107.6,870.3 102.2,839.8" fill="#a4a4a8" stroke="#2d2d2d" stroke-width="1.1" stroke-linejoin="round" />
<path d="M124,815.2L137.8,829.6 M137.8,829.6L155.2,823.4 M137.8,829.6L116.7,852.5 M116.7,852.5L102.2,839.8 M116.7,852.5L107.6,870.3 M116.7,852.5L143.6,859.5 M143.6,859.5L156.8,856.2 M143.6,859.5L142,873 M137.8,829.6L143.6,859.5" stroke="#2d2d2d" stroke-width="0.9" fill="none" stroke-opacity="1" stroke-linecap="round"/>
<polygon points="167.1,819.6 199.3,822.6 210.4,844.8 201.6,873 165.3,873 150.1,846.6" fill="#a4a4a8" stroke="#2d2d2d" stroke-width="1.1" stroke-linejoin="round" />
<path d="M167.1,819.6L168.2,836.6 M168.2,836.6L150.1,846.6 M168.2,836.6L198.7,840.2 M198.7,840.2L199.3,822.6 M198.7,840.2L210.4,844.8 M168.2,836.6L184.1,863.6 M198.7,840.2L184.1,863.6 M184.1,863.6L172,873 M184.1,863.6L196,873" stroke="#2d2d2d" stroke-width="0.9" fill="none" stroke-opacity="1" stroke-linecap="round"/>
<polygon points="222.3,821.4 253.9,816.7 263.9,830.2 263.3,860 257.4,870.6 223.4,873 207.6,849" fill="#a4a4a8" stroke="#2d2d2d" stroke-width="1.1" stroke-linejoin="round" />
<path d="M222.3,821.4L225.2,840.7 M225.2,840.7L207.6,849 M225.2,840.7L256.3,836.6 M256.3,836.6L253.9,816.7 M256.3,836.6L263.9,830.2 M225.2,840.7L241.6,863.6 M256.3,836.6L241.6,863.6 M241.6,863.6L231,873 M241.6,863.6L257.4,870.6" stroke="#2d2d2d" stroke-width="0.9" fill="none" stroke-opacity="1" stroke-linecap="round"/>
<polygon points="282.6,813.8 312.5,823.2 317.2,854.2 298.4,873 264.5,867.1 260.4,836.1" fill="#a4a4a8" stroke="#2d2d2d" stroke-width="1.1" stroke-linejoin="round" />
<path d="M282.6,813.8L295.5,827.9 M295.5,827.9L312.5,823.2 M295.5,827.9L274.4,850.1 M260.4,836.1L274.4,850.1 M274.4,850.1L264.5,867.1 M274.4,850.1L300.2,858.3 M300.2,858.3L317.2,854.2 M300.2,858.3L298.4,873 M295.5,827.9L300.2,858.3" stroke="#2d2d2d" stroke-width="0.9" fill="none" stroke-opacity="1" stroke-linecap="round"/>
<polygon points="441,816.4 473.8,826.2 476,857 461.4,872.7 424.6,871.5 419.2,839.8" fill="#8e9db3" stroke="#2d3340" stroke-width="1.1" stroke-linejoin="round" />
<path d="M441,816.4L456.2,831.6 M456.2,831.6L473.8,826.2 M456.2,831.6L434.7,853.4 M419.2,839.8L434.7,853.4 M434.7,853.4L424.6,871.5 M434.7,853.4L462.8,861.4 M462.8,861.4L476,857 M462.8,861.4L461.4,872.7 M456.2,831.6L462.8,861.4" stroke="#2d3340" stroke-width="0.9" fill="none" stroke-opacity="1" stroke-linecap="round"/>
<polygon points="478.5,822.3 510.1,822.3 518.3,835.2 520,852 512,872.7 489,872.7 463.7,852.7" fill="#8e9db3" stroke="#2d3340" stroke-width="1.1" stroke-linejoin="round" />
<path d="M478.5,822.3L480.9,840.3 M480.9,840.3L463.7,852.7 M480.9,840.3L511.3,840.3 M511.3,840.3L510.1,822.3 M511.3,840.3L518.3,835.2 M480.9,840.3L498,865.2 M511.3,840.3L498,865.2 M498,865.2L489,873 M498,865.2L510,873" stroke="#2d3340" stroke-width="0.9" fill="none" stroke-opacity="1" stroke-linecap="round"/>
<polygon points="521.4,823.4 552.3,819.2 566.4,831.6 566,862 562,872.5 528.4,872.7 512,856.2" fill="#8e9db3" stroke="#2d3340" stroke-width="1.1" stroke-linejoin="round" />
<path d="M521.4,823.4L527.7,842.2 M527.7,842.2L512,856.2 M527.7,842.2L555.8,837 M555.8,837L552.3,819.2 M555.8,837L566.4,831.6 M527.7,842.2L547.6,863.7 M555.8,837L547.6,863.7 M547.6,863.7L537,873 M547.6,863.7L562,872.5" stroke="#2d3340" stroke-width="0.9" fill="none" stroke-opacity="1" stroke-linecap="round"/>
<polygon points="580.9,816.4 613.7,825.3 620.3,856.2 606.2,872.7 567.6,871.5 560.5,839.8" fill="#8e9db3" stroke="#2d3340" stroke-width="1.1" stroke-linejoin="round" />
<path d="M580.9,816.4L596.4,831.6 M596.4,831.6L613.7,825.3 M596.4,831.6L575.3,853.4 M560.5,839.8L575.3,853.4 M575.3,853.4L567.6,871.5 M575.3,853.4L602.7,861.4 M602.7,861.4L620.3,856.2 M602.7,861.4L606.2,872.7 M596.4,831.6L602.7,861.4" stroke="#2d3340" stroke-width="0.9" fill="none" stroke-opacity="1" stroke-linecap="round"/>
<defs><linearGradient id="g3in" x1="0" y1="0" x2="1" y2="1"><stop offset="0" stop-color="#c9dbee"/><stop offset="0.55" stop-color="#adc4de"/><stop offset="1" stop-color="#a3bcd9"/></linearGradient><linearGradient id="g3out" x1="0" y1="0" x2="0" y2="1"><stop offset="0" stop-color="#d3e3f2"/><stop offset="1" stop-color="#c4d7eb"/></linearGradient></defs>
<polygon points="752.4,802.6 793,814 793.6,856 779.7,871.2 732.7,867.4 727,829.3" fill="url(#g3out)" stroke="#b5cde2" stroke-width="1.0" stroke-linejoin="round" fill-opacity="0.95"/>
<polygon points="754.3,809 788.6,819.1 788.6,848.3 775.9,868.6 739,861 734,833" fill="url(#g3in)" stroke="none" stroke-width="0" stroke-linejoin="round" fill-opacity="0.9"/>
<path d="M754.3,809L766.4,837.8 M766.4,837.8L788.6,848.3 M766.4,837.8L739,861" stroke="#d6e4f2" stroke-width="1.1" fill="none" stroke-opacity="0.5" stroke-linecap="round"/>
<polygon points="800.6,805.8 841.9,805.8 848.2,816.6 847,856 839.3,871.2 807.6,871.2 784.7,839.4" fill="url(#g3out)" stroke="#b5cde2" stroke-width="1.0" stroke-linejoin="round" fill-opacity="0.95"/>
<polygon points="807.6,812.8 839.3,812.8 841.9,852.1 828,870 809,861 796.2,836.9" fill="url(#g3in)" stroke="none" stroke-width="0" stroke-linejoin="round" fill-opacity="0.9"/>
<path d="M807.6,812.8L823.3,838.9 M823.3,838.9L841.9,852.1 M823.3,838.9L809,861" stroke="#d6e4f2" stroke-width="1.1" fill="none" stroke-opacity="0.5" stroke-linecap="round"/>
<polygon points="849.6,808.3 887.7,804 896.6,814.1 901.6,858.6 892.8,871.3 864.8,872.5 836.9,847.1" fill="url(#g3out)" stroke="#b5cde2" stroke-width="1.0" stroke-linejoin="round" fill-opacity="0.95"/>
<polygon points="856,813.5 885,810 892,852 880,870 862,864 845,843" fill="url(#g3in)" stroke="none" stroke-width="0" stroke-linejoin="round" fill-opacity="0.9"/>
<path d="M856,813.5L873,840.1 M873,840.1L892,852 M873,840.1L862,864" stroke="#d6e4f2" stroke-width="1.1" fill="none" stroke-opacity="0.5" stroke-linecap="round"/>
<polygon points="924.5,798.1 959.3,817.9 958.8,852.2 935.9,872.5 903,866.2 890.2,817.9" fill="url(#g3out)" stroke="#b5cde2" stroke-width="1.0" stroke-linejoin="round" fill-opacity="0.95"/>
<polygon points="925,806 952,821 951,848 932,866 906,858 898,822" fill="url(#g3in)" stroke="none" stroke-width="0" stroke-linejoin="round" fill-opacity="0.9"/>
<path d="M925,806L930.3,834.8 M930.3,834.8L951,848 M930.3,834.8L906,858" stroke="#d6e4f2" stroke-width="1.1" fill="none" stroke-opacity="0.5" stroke-linecap="round"/>
<line x1="336" y1="843.9" x2="399.5" y2="843.9" stroke="#b0150e" stroke-width="2.8"/>
<polyline points="393,839.6 401,843.9 393,848.2" fill="none" stroke="#b0150e" stroke-width="2.8" stroke-linejoin="miter"/>
<line x1="643.7" y1="844.6" x2="707.1" y2="844.6" stroke="#b0150e" stroke-width="2.8"/>
<polyline points="700.6,840.3 708.6,844.6 700.6,848.9" fill="none" stroke="#b0150e" stroke-width="2.8" stroke-linejoin="miter"/>
</svg>
</body></html>
